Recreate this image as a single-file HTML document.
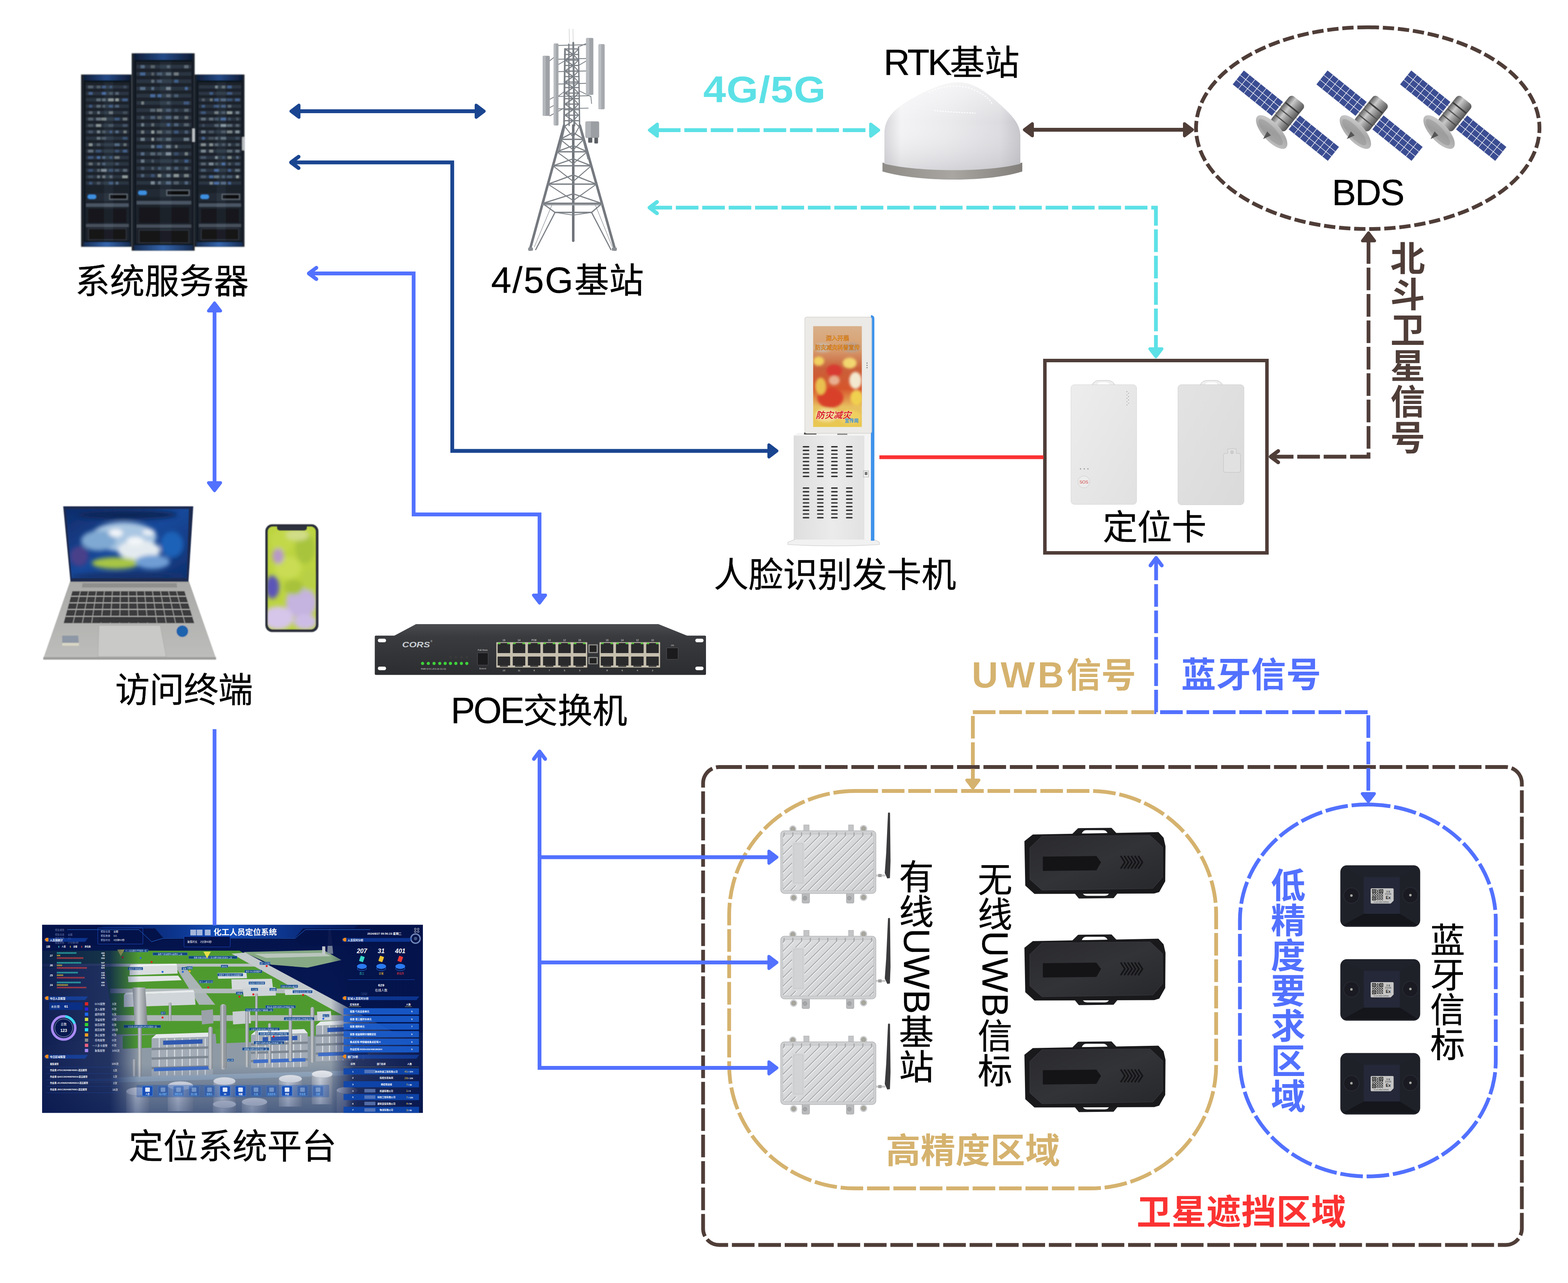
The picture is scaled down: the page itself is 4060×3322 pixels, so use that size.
<!DOCTYPE html>
<html lang="zh-CN">
<head>
<meta charset="utf-8">
<title>人员定位系统架构图</title>
<style>
html,body{margin:0;padding:0;background:#fff;}
body{width:4060px;height:3322px;position:relative;overflow:hidden;font-family:"Liberation Sans","Noto Sans CJK SC",sans-serif;}
svg.bg{position:absolute;left:0;top:0;}
.t{position:absolute;white-space:nowrap;line-height:1;transform:translate(-50%,-50%);font-size:90px;}
.l{font-size:94px;}
.v .l{position:relative;left:8px;}
.v{writing-mode:vertical-rl;text-orientation:mixed;}
</style>
</head>
<body>
<svg class="bg" width="4060" height="3322" viewBox="0 0 4060 3322">
<defs>
<linearGradient id="rkTop" x1="0" x2="1" y1="0" y2="0"><stop offset="0" stop-color="#0d1a33"/><stop offset="0.5" stop-color="#244a88"/><stop offset="1" stop-color="#0d1a33"/></linearGradient>
<linearGradient id="rkBot" x1="0" x2="1" y1="0" y2="0"><stop offset="0" stop-color="#15294d"/><stop offset="0.5" stop-color="#3465ad"/><stop offset="1" stop-color="#15294d"/></linearGradient>
<filter id="bl1" x="-5%" y="-5%" width="110%" height="110%"><feGaussianBlur stdDeviation="1.8"/></filter>
<linearGradient id="dmBody" x1="0" x2="1" y1="0" y2="0"><stop offset="0" stop-color="#d6d6da"/><stop offset="0.12" stop-color="#f3f3f5"/><stop offset="0.45" stop-color="#ebebee"/><stop offset="0.85" stop-color="#dcdce0"/><stop offset="1" stop-color="#c4c4c9"/></linearGradient>
<linearGradient id="dmShade" x1="0" x2="0" y1="0" y2="1"><stop offset="0" stop-color="#ffffff" stop-opacity="0.55"/><stop offset="0.45" stop-color="#ffffff" stop-opacity="0"/><stop offset="1" stop-color="#9a9aa2" stop-opacity="0.28"/></linearGradient>
<linearGradient id="dmRim" x1="0" x2="1" y1="0" y2="0"><stop offset="0" stop-color="#8f8c88"/><stop offset="0.5" stop-color="#a9a6a2"/><stop offset="1" stop-color="#827f7b"/></linearGradient>
<linearGradient id="satBody" x1="0" x2="1" y1="0" y2="0"><stop offset="0" stop-color="#5e5e5e"/><stop offset="0.35" stop-color="#c9c9c9"/><stop offset="0.6" stop-color="#9a9a9a"/><stop offset="1" stop-color="#555"/></linearGradient>
<linearGradient id="satDish" x1="0" x2="1" y1="0" y2="1"><stop offset="0" stop-color="#d8d8d8"/><stop offset="0.5" stop-color="#a8a8a8"/><stop offset="1" stop-color="#c6c6c6"/></linearGradient>
<linearGradient id="kScr" x1="0" x2="0" y1="0" y2="1"><stop offset="0" stop-color="#d9b08a"/><stop offset="0.22" stop-color="#d8a070"/><stop offset="0.42" stop-color="#c9603a"/><stop offset="0.62" stop-color="#d6552c"/><stop offset="0.8" stop-color="#e8c060"/><stop offset="1" stop-color="#e9c84e"/></linearGradient>
<linearGradient id="kCab" x1="0" x2="1" y1="0" y2="0"><stop offset="0" stop-color="#dedede"/><stop offset="0.5" stop-color="#ebebeb"/><stop offset="1" stop-color="#e0e0e0"/></linearGradient>
<filter id="bl2" x="-10%" y="-10%" width="120%" height="120%"><feGaussianBlur stdDeviation="3"/></filter>
<clipPath id="kClip"><rect x="2105.5" y="844.5" width="126" height="261"/></clipPath>
<linearGradient id="cdA" x1="0" x2="1" y1="0" y2="1"><stop offset="0" stop-color="#ededed"/><stop offset="1" stop-color="#e1e1e1"/></linearGradient>
<linearGradient id="cdB" x1="0" x2="1" y1="0" y2="1"><stop offset="0" stop-color="#e3e3e3"/><stop offset="1" stop-color="#dadada"/></linearGradient>
<linearGradient id="lpScr" x1="0" x2="1" y1="0" y2="1"><stop offset="0" stop-color="#102c6a"/><stop offset="0.5" stop-color="#17489a"/><stop offset="1" stop-color="#10306e"/></linearGradient>
<linearGradient id="lpDeck" x1="0" x2="0" y1="0" y2="1"><stop offset="0" stop-color="#a9a9a7"/><stop offset="1" stop-color="#bdbdbb"/></linearGradient>
<filter id="bl3" x="-20%" y="-20%" width="140%" height="140%"><feGaussianBlur stdDeviation="6"/></filter>
<filter id="bl4" x="-5%" y="-5%" width="110%" height="110%"><feGaussianBlur stdDeviation="1.2"/></filter>
<clipPath id="lpClip"><polygon points="170.5,1317.7 489,1317.7 483.4,1496.8 185.6,1496.8"/></clipPath>
<clipPath id="phClip"><rect x="693.5" y="1363.5" width="124" height="266" rx="13"/></clipPath>
<linearGradient id="swF" x1="0" x2="0" y1="0" y2="1"><stop offset="0" stop-color="#3a3b3e"/><stop offset="1" stop-color="#2c2d30"/></linearGradient>
<linearGradient id="swT" x1="0" x2="0" y1="0" y2="1"><stop offset="0" stop-color="#4b4c50"/><stop offset="1" stop-color="#3a3b3f"/></linearGradient>
<linearGradient id="uwbF" x1="0" x2="1" y1="0" y2="1"><stop offset="0" stop-color="#dcdddf"/><stop offset="1" stop-color="#d2d3d5"/></linearGradient>
<clipPath id="uwbClip0"><rect x="2027.3" y="2154.8" width="234.3" height="150.7" rx="6"/></clipPath>
<clipPath id="uwbClip1"><rect x="2027.3" y="2427.8" width="234.3" height="150.7" rx="6"/></clipPath>
<clipPath id="uwbClip2"><rect x="2027.3" y="2701.3" width="234.3" height="150.7" rx="6"/></clipPath>
<linearGradient id="ubF" x1="0" x2="1" y1="0" y2="1"><stop offset="0" stop-color="#2a2a2e"/><stop offset="0.5" stop-color="#323337"/><stop offset="1" stop-color="#27282b"/></linearGradient>
<pattern id="qr" width="6" height="6" patternUnits="userSpaceOnUse"><rect width="6" height="6" fill="#c6c6c6"/><rect x="0" y="0" width="2" height="2" fill="#111"/><rect x="3" y="1" width="1.5" height="3" fill="#111"/><rect x="1" y="3.5" width="3" height="1.5" fill="#111"/><rect x="4.5" y="4.5" width="1.5" height="1.5" fill="#111"/></pattern>
<linearGradient id="pfBg" x1="0" x2="0" y1="0" y2="1"><stop offset="0" stop-color="#04124a"/><stop offset="0.6" stop-color="#061b58"/><stop offset="1" stop-color="#0a2a70"/></linearGradient>
<linearGradient id="pfL" x1="0" x2="1" y1="0" y2="0"><stop offset="0" stop-color="#04134b" stop-opacity="0.9"/><stop offset="0.7" stop-color="#05174f" stop-opacity="0.78"/><stop offset="1" stop-color="#05174f" stop-opacity="0"/></linearGradient>
<linearGradient id="pfR" x1="0" x2="1" y1="0" y2="0"><stop offset="0" stop-color="#04134b" stop-opacity="0"/><stop offset="0.25" stop-color="#04134b" stop-opacity="0.75"/><stop offset="1" stop-color="#04134b" stop-opacity="0.95"/></linearGradient>
<linearGradient id="pfB" x1="0" x2="0" y1="0" y2="1"><stop offset="0" stop-color="#0a2460" stop-opacity="0"/><stop offset="1" stop-color="#0a2460" stop-opacity="0.5"/></linearGradient>
<linearGradient id="pfCyl" x1="0" x2="1" y1="0" y2="0"><stop offset="0" stop-color="#8d9399"/><stop offset="0.4" stop-color="#c9cdd1"/><stop offset="1" stop-color="#7c8288"/></linearGradient>
<linearGradient id="pfTank" x1="0" x2="1" y1="0" y2="0"><stop offset="0" stop-color="#aeb4ba"/><stop offset="0.4" stop-color="#e6e9ec"/><stop offset="1" stop-color="#9aa0a8"/></linearGradient>
<linearGradient id="pfHd" x1="0" x2="1" y1="0" y2="0"><stop offset="0" stop-color="#0c3a98" stop-opacity="0.2"/><stop offset="0.5" stop-color="#1450c0"/><stop offset="1" stop-color="#0c3a98" stop-opacity="0.2"/></linearGradient>
<clipPath id="pfClip"><rect x="109" y="2394.5" width="986" height="487"/></clipPath>
</defs>
<g id="server">
<g filter="url(#bl1)">
<rect x="210" y="193" width="132" height="446" rx="3" fill="#10141b"/>
<rect x="212" y="194" width="128" height="14" fill="url(#rkTop)"/>
<rect x="212" y="627" width="128" height="11" fill="url(#rkBot)"/>
<rect x="221" y="213" width="114" height="410" fill="#1a2029"/>
<rect x="223" y="221" width="110" height="8.3" fill="#2f3946" opacity="0.9"/>
<rect x="228.3" y="222" width="12.8" height="6.6" fill="#7f919d" opacity="0.48"/>
<rect x="250.4" y="222" width="9.6" height="6.6" fill="#6d7f8a" opacity="0.54"/>
<rect x="263.9" y="222" width="9.9" height="6.6" fill="#4f78b4" opacity="0.57"/>
<rect x="284.1" y="222" width="6" height="6.6" fill="#4f78b4" opacity="0.48"/>
<rect x="320.2" y="222" width="6.8" height="6.6" fill="#5f7894" opacity="0.37"/>
<rect x="223" y="237.6" width="110" height="8.3" fill="#2f3946" opacity="0.9"/>
<rect x="229.5" y="238.6" width="10.3" height="6.6" fill="#4f78b4" opacity="0.69"/>
<rect x="263.8" y="238.6" width="10.2" height="6.6" fill="#4f78b4" opacity="0.82"/>
<rect x="282.7" y="238.6" width="8.8" height="6.6" fill="#6d7f8a" opacity="0.46"/>
<rect x="298.9" y="238.6" width="8.3" height="6.6" fill="#7f919d" opacity="0.56"/>
<rect x="223" y="254.2" width="110" height="8.3" fill="#2f3946" opacity="0.9"/>
<rect x="249.7" y="255.2" width="11" height="6.6" fill="#6d7f8a" opacity="0.78"/>
<rect x="264.5" y="255.2" width="8.7" height="6.6" fill="#6d7f8a" opacity="0.84"/>
<rect x="280.3" y="255.2" width="13.7" height="6.6" fill="#a9b4b0" opacity="0.77"/>
<rect x="298.9" y="255.2" width="8.4" height="6.6" fill="#a9b4b0" opacity="0.84"/>
<rect x="316.8" y="255.2" width="13.5" height="6.6" fill="#4f78b4" opacity="0.64"/>
<rect x="223" y="270.8" width="110" height="8.3" fill="#2f3946" opacity="0.9"/>
<rect x="230.7" y="271.8" width="7.9" height="6.6" fill="#4f78b4" opacity="0.56"/>
<rect x="250" y="271.8" width="10.4" height="6.6" fill="#6d7f8a" opacity="0.74"/>
<rect x="265.5" y="271.8" width="6.7" height="6.6" fill="#6d7f8a" opacity="0.60"/>
<rect x="282" y="271.8" width="10.2" height="6.6" fill="#4f78b4" opacity="0.54"/>
<rect x="298.2" y="271.8" width="9.8" height="6.6" fill="#5f7894" opacity="0.70"/>
<rect x="223" y="287.4" width="110" height="8.3" fill="#2f3946" opacity="0.9"/>
<rect x="230.1" y="288.4" width="9.1" height="6.6" fill="#9aaab3" opacity="0.43"/>
<rect x="252.2" y="288.4" width="6.1" height="6.6" fill="#9aaab3" opacity="0.62"/>
<rect x="282.1" y="288.4" width="10.1" height="6.6" fill="#a9b4b0" opacity="0.53"/>
<rect x="318.2" y="288.4" width="10.9" height="6.6" fill="#6d7f8a" opacity="0.35"/>
<rect x="223" y="304" width="110" height="8.3" fill="#2f3946" opacity="0.9"/>
<rect x="228.4" y="305" width="12.6" height="6.6" fill="#6d7f8a" opacity="0.61"/>
<rect x="249.1" y="305" width="12.2" height="6.6" fill="#9aaab3" opacity="0.56"/>
<rect x="262.4" y="305" width="13" height="6.6" fill="#a9b4b0" opacity="0.63"/>
<rect x="296.8" y="305" width="12.5" height="6.6" fill="#4f78b4" opacity="0.52"/>
<rect x="318.1" y="305" width="11" height="6.6" fill="#a9b4b0" opacity="0.52"/>
<rect x="223" y="320.6" width="110" height="8.3" fill="#2f3946" opacity="0.9"/>
<rect x="228.5" y="321.6" width="12.4" height="6.6" fill="#6d7f8a" opacity="0.44"/>
<rect x="248.8" y="321.6" width="12.9" height="6.6" fill="#a9b4b0" opacity="0.75"/>
<rect x="280.8" y="321.6" width="12.7" height="6.6" fill="#6d7f8a" opacity="0.39"/>
<rect x="317.6" y="321.6" width="12" height="6.6" fill="#5f7894" opacity="0.47"/>
<rect x="223" y="337.2" width="110" height="8.3" fill="#2f3946" opacity="0.9"/>
<rect x="229.2" y="338.2" width="11" height="6.6" fill="#5f7894" opacity="0.50"/>
<rect x="251.2" y="338.2" width="8" height="6.6" fill="#9aaab3" opacity="0.68"/>
<rect x="264.7" y="338.2" width="8.4" height="6.6" fill="#6d7f8a" opacity="0.51"/>
<rect x="284" y="338.2" width="6.2" height="6.6" fill="#4f78b4" opacity="0.52"/>
<rect x="299" y="338.2" width="8.1" height="6.6" fill="#5f7894" opacity="0.80"/>
<rect x="319.8" y="338.2" width="7.7" height="6.6" fill="#a9b4b0" opacity="0.57"/>
<rect x="223" y="353.8" width="110" height="8.3" fill="#2f3946" opacity="0.9"/>
<rect x="250.6" y="354.8" width="9.2" height="6.6" fill="#7f919d" opacity="0.71"/>
<rect x="263.1" y="354.8" width="11.6" height="6.6" fill="#6d7f8a" opacity="0.56"/>
<rect x="317.8" y="354.8" width="11.6" height="6.6" fill="#4f78b4" opacity="0.46"/>
<rect x="223" y="370.4" width="110" height="8.3" fill="#2f3946" opacity="0.9"/>
<rect x="230.1" y="371.4" width="9.2" height="6.6" fill="#a9b4b0" opacity="0.75"/>
<rect x="250.5" y="371.4" width="9.4" height="6.6" fill="#6d7f8a" opacity="0.50"/>
<rect x="296.6" y="371.4" width="12.9" height="6.6" fill="#5f7894" opacity="0.81"/>
<rect x="320" y="371.4" width="7.3" height="6.6" fill="#a9b4b0" opacity="0.48"/>
<rect x="223" y="387" width="110" height="8.3" fill="#2f3946" opacity="0.9"/>
<rect x="228.2" y="388" width="13" height="6.6" fill="#7f919d" opacity="0.65"/>
<rect x="248.6" y="388" width="13.2" height="6.6" fill="#4f78b4" opacity="0.44"/>
<rect x="298" y="388" width="10.1" height="6.6" fill="#4f78b4" opacity="0.45"/>
<rect x="318.3" y="388" width="10.6" height="6.6" fill="#4f78b4" opacity="0.65"/>
<rect x="223" y="403.6" width="110" height="8.3" fill="#2f3946" opacity="0.9"/>
<rect x="227.9" y="404.6" width="13.5" height="6.6" fill="#4f78b4" opacity="0.50"/>
<rect x="250.9" y="404.6" width="8.6" height="6.6" fill="#4f78b4" opacity="0.80"/>
<rect x="265.1" y="404.6" width="7.6" height="6.6" fill="#5f7894" opacity="0.76"/>
<rect x="283.6" y="404.6" width="7.1" height="6.6" fill="#4f78b4" opacity="0.46"/>
<rect x="296.7" y="404.6" width="12.7" height="6.6" fill="#a9b4b0" opacity="0.52"/>
<rect x="223" y="420.2" width="110" height="8.3" fill="#2f3946" opacity="0.9"/>
<rect x="229.7" y="421.2" width="9.9" height="6.6" fill="#a9b4b0" opacity="0.47"/>
<rect x="251.9" y="421.2" width="6.7" height="6.6" fill="#9aaab3" opacity="0.43"/>
<rect x="264.8" y="421.2" width="8.1" height="6.6" fill="#5f7894" opacity="0.65"/>
<rect x="298.7" y="421.2" width="8.7" height="6.6" fill="#5f7894" opacity="0.47"/>
<rect x="223" y="436.8" width="110" height="8.3" fill="#2f3946" opacity="0.9"/>
<rect x="228.8" y="437.8" width="11.7" height="6.6" fill="#4f78b4" opacity="0.42"/>
<rect x="251.8" y="437.8" width="6.8" height="6.6" fill="#7f919d" opacity="0.55"/>
<rect x="261.9" y="437.8" width="13.9" height="6.6" fill="#9aaab3" opacity="0.76"/>
<rect x="281.7" y="437.8" width="10.9" height="6.6" fill="#4f78b4" opacity="0.39"/>
<rect x="297.8" y="437.8" width="10.5" height="6.6" fill="#5f7894" opacity="0.53"/>
<rect x="318.5" y="437.8" width="10.3" height="6.6" fill="#7f919d" opacity="0.58"/>
<rect x="223" y="453.4" width="110" height="8.3" fill="#2f3946" opacity="0.9"/>
<rect x="228.5" y="454.4" width="12.3" height="6.6" fill="#5f7894" opacity="0.36"/>
<rect x="251.8" y="454.4" width="6.7" height="6.6" fill="#7f919d" opacity="0.76"/>
<rect x="265.1" y="454.4" width="7.5" height="6.6" fill="#a9b4b0" opacity="0.56"/>
<rect x="283.5" y="454.4" width="7.3" height="6.6" fill="#9aaab3" opacity="0.43"/>
<rect x="316.7" y="454.4" width="13.7" height="6.6" fill="#a9b4b0" opacity="0.80"/>
<rect x="223" y="470" width="110" height="8.3" fill="#2f3946" opacity="0.9"/>
<rect x="230.7" y="471" width="8" height="6.6" fill="#4f78b4" opacity="0.51"/>
<rect x="250.9" y="471" width="8.5" height="6.6" fill="#7f919d" opacity="0.36"/>
<rect x="281.7" y="471" width="10.8" height="6.6" fill="#4f78b4" opacity="0.55"/>
<rect x="299.8" y="471" width="6.5" height="6.6" fill="#5f7894" opacity="0.83"/>
<rect x="223" y="500" width="110" height="20" fill="#222a35"/>
<rect x="227" y="504" width="22" height="11" rx="5" fill="#3e8fe0"/>
<rect x="283.7" y="503" width="45.6" height="13" fill="#0b0d11" stroke="#7d8892" stroke-width="1.5"/>
<rect x="223" y="526.6" width="110" height="9" fill="#4a5563"/>
<rect x="229" y="541" width="98" height="34.9" fill="#15181d"/>
<rect x="223" y="580" width="110" height="8" fill="#46505c"/>
<rect x="229" y="592.2" width="98" height="28.7" fill="#121418" stroke="#39414b" stroke-width="1.5"/>
<rect x="269.4" y="213" width="23.8" height="410" fill="#9fb7d8" opacity="0.07"/>
<rect x="210" y="193" width="7" height="446" fill="#1b212b"/>
<rect x="337" y="193" width="5" height="446" fill="#1b212b"/>
<rect x="502" y="193" width="131" height="446" rx="3" fill="#10141b"/>
<rect x="504" y="194" width="127" height="14" fill="url(#rkTop)"/>
<rect x="504" y="627" width="127" height="11" fill="url(#rkBot)"/>
<rect x="513" y="213" width="113" height="410" fill="#1a2029"/>
<rect x="515" y="221" width="109" height="8.3" fill="#2f3946" opacity="0.9"/>
<rect x="557.1" y="222" width="6.7" height="6.6" fill="#9aaab3" opacity="0.72"/>
<rect x="574.3" y="222" width="8.5" height="6.6" fill="#a9b4b0" opacity="0.46"/>
<rect x="588.6" y="222" width="11.4" height="6.6" fill="#4f78b4" opacity="0.67"/>
<rect x="515" y="237.6" width="109" height="8.3" fill="#2f3946" opacity="0.9"/>
<rect x="542.4" y="238.6" width="9" height="6.6" fill="#4f78b4" opacity="0.60"/>
<rect x="587.6" y="238.6" width="13.5" height="6.6" fill="#4f78b4" opacity="0.56"/>
<rect x="515" y="254.2" width="109" height="8.3" fill="#2f3946" opacity="0.9"/>
<rect x="522.9" y="255.2" width="7.4" height="6.6" fill="#9aaab3" opacity="0.36"/>
<rect x="543.4" y="255.2" width="7.1" height="6.6" fill="#a9b4b0" opacity="0.53"/>
<rect x="555.2" y="255.2" width="10.5" height="6.6" fill="#4f78b4" opacity="0.75"/>
<rect x="571.9" y="255.2" width="13.3" height="6.6" fill="#5f7894" opacity="0.74"/>
<rect x="587.4" y="255.2" width="13.8" height="6.6" fill="#4f78b4" opacity="0.43"/>
<rect x="608.8" y="255.2" width="11.7" height="6.6" fill="#4f78b4" opacity="0.68"/>
<rect x="515" y="270.8" width="109" height="8.3" fill="#2f3946" opacity="0.9"/>
<rect x="522.4" y="271.8" width="8.2" height="6.6" fill="#4f78b4" opacity="0.60"/>
<rect x="553.9" y="271.8" width="13.1" height="6.6" fill="#4f78b4" opacity="0.53"/>
<rect x="573.3" y="271.8" width="10.5" height="6.6" fill="#4f78b4" opacity="0.59"/>
<rect x="590.1" y="271.8" width="8.6" height="6.6" fill="#6d7f8a" opacity="0.77"/>
<rect x="515" y="287.4" width="109" height="8.3" fill="#2f3946" opacity="0.9"/>
<rect x="520.5" y="288.4" width="12.2" height="6.6" fill="#4f78b4" opacity="0.50"/>
<rect x="555.4" y="288.4" width="10" height="6.6" fill="#a9b4b0" opacity="0.60"/>
<rect x="573.9" y="288.4" width="9.3" height="6.6" fill="#6d7f8a" opacity="0.45"/>
<rect x="587.6" y="288.4" width="13.5" height="6.6" fill="#a9b4b0" opacity="0.79"/>
<rect x="610.3" y="288.4" width="8.7" height="6.6" fill="#7f919d" opacity="0.80"/>
<rect x="515" y="304" width="109" height="8.3" fill="#2f3946" opacity="0.9"/>
<rect x="520.6" y="305" width="12" height="6.6" fill="#7f919d" opacity="0.64"/>
<rect x="541.5" y="305" width="10.7" height="6.6" fill="#6d7f8a" opacity="0.79"/>
<rect x="555.4" y="305" width="10.2" height="6.6" fill="#5f7894" opacity="0.47"/>
<rect x="572" y="305" width="13" height="6.6" fill="#4f78b4" opacity="0.80"/>
<rect x="591.1" y="305" width="6.5" height="6.6" fill="#5f7894" opacity="0.44"/>
<rect x="611.4" y="305" width="6.7" height="6.6" fill="#7f919d" opacity="0.36"/>
<rect x="515" y="320.6" width="109" height="8.3" fill="#2f3946" opacity="0.9"/>
<rect x="523.5" y="321.6" width="6.2" height="6.6" fill="#5f7894" opacity="0.41"/>
<rect x="555.4" y="321.6" width="10.2" height="6.6" fill="#7f919d" opacity="0.54"/>
<rect x="571.6" y="321.6" width="13.9" height="6.6" fill="#9aaab3" opacity="0.84"/>
<rect x="587.6" y="321.6" width="13.5" height="6.6" fill="#6d7f8a" opacity="0.72"/>
<rect x="610.4" y="321.6" width="8.7" height="6.6" fill="#7f919d" opacity="0.50"/>
<rect x="515" y="337.2" width="109" height="8.3" fill="#2f3946" opacity="0.9"/>
<rect x="521.1" y="338.2" width="10.8" height="6.6" fill="#7f919d" opacity="0.80"/>
<rect x="540.5" y="338.2" width="12.9" height="6.6" fill="#6d7f8a" opacity="0.43"/>
<rect x="572.8" y="338.2" width="11.5" height="6.6" fill="#7f919d" opacity="0.36"/>
<rect x="587.6" y="338.2" width="13.6" height="6.6" fill="#a9b4b0" opacity="0.64"/>
<rect x="609.6" y="338.2" width="10.1" height="6.6" fill="#9aaab3" opacity="0.79"/>
<rect x="515" y="353.8" width="109" height="8.3" fill="#2f3946" opacity="0.9"/>
<rect x="522.5" y="354.8" width="8.1" height="6.6" fill="#4f78b4" opacity="0.68"/>
<rect x="540.1" y="354.8" width="13.7" height="6.6" fill="#6d7f8a" opacity="0.38"/>
<rect x="556.8" y="354.8" width="7.3" height="6.6" fill="#7f919d" opacity="0.58"/>
<rect x="571.9" y="354.8" width="13.3" height="6.6" fill="#6d7f8a" opacity="0.82"/>
<rect x="609.9" y="354.8" width="9.6" height="6.6" fill="#5f7894" opacity="0.39"/>
<rect x="515" y="370.4" width="109" height="8.3" fill="#2f3946" opacity="0.9"/>
<rect x="520.4" y="371.4" width="12.3" height="6.6" fill="#a9b4b0" opacity="0.70"/>
<rect x="542.2" y="371.4" width="9.4" height="6.6" fill="#a9b4b0" opacity="0.73"/>
<rect x="555.9" y="371.4" width="9.1" height="6.6" fill="#9aaab3" opacity="0.41"/>
<rect x="574.6" y="371.4" width="7.9" height="6.6" fill="#7f919d" opacity="0.36"/>
<rect x="590.9" y="371.4" width="6.8" height="6.6" fill="#7f919d" opacity="0.61"/>
<rect x="610.5" y="371.4" width="8.5" height="6.6" fill="#6d7f8a" opacity="0.54"/>
<rect x="515" y="387" width="109" height="8.3" fill="#2f3946" opacity="0.9"/>
<rect x="520.5" y="388" width="12.1" height="6.6" fill="#9aaab3" opacity="0.71"/>
<rect x="541.9" y="388" width="10.1" height="6.6" fill="#a9b4b0" opacity="0.65"/>
<rect x="587.7" y="388" width="13.4" height="6.6" fill="#6d7f8a" opacity="0.75"/>
<rect x="609.6" y="388" width="10.2" height="6.6" fill="#7f919d" opacity="0.66"/>
<rect x="515" y="403.6" width="109" height="8.3" fill="#2f3946" opacity="0.9"/>
<rect x="519.6" y="404.6" width="13.9" height="6.6" fill="#5f7894" opacity="0.50"/>
<rect x="557" y="404.6" width="6.8" height="6.6" fill="#9aaab3" opacity="0.77"/>
<rect x="575.5" y="404.6" width="6.1" height="6.6" fill="#4f78b4" opacity="0.38"/>
<rect x="589.5" y="404.6" width="9.7" height="6.6" fill="#a9b4b0" opacity="0.66"/>
<rect x="611.6" y="404.6" width="6.2" height="6.6" fill="#5f7894" opacity="0.82"/>
<rect x="515" y="420.2" width="109" height="8.3" fill="#2f3946" opacity="0.9"/>
<rect x="520.5" y="421.2" width="12" height="6.6" fill="#9aaab3" opacity="0.41"/>
<rect x="541" y="421.2" width="11.7" height="6.6" fill="#9aaab3" opacity="0.73"/>
<rect x="557" y="421.2" width="7" height="6.6" fill="#7f919d" opacity="0.41"/>
<rect x="574.2" y="421.2" width="8.7" height="6.6" fill="#4f78b4" opacity="0.83"/>
<rect x="591.3" y="421.2" width="6.2" height="6.6" fill="#6d7f8a" opacity="0.59"/>
<rect x="608.9" y="421.2" width="11.6" height="6.6" fill="#5f7894" opacity="0.53"/>
<rect x="515" y="436.8" width="109" height="8.3" fill="#2f3946" opacity="0.9"/>
<rect x="520.4" y="437.8" width="12.4" height="6.6" fill="#5f7894" opacity="0.59"/>
<rect x="554.5" y="437.8" width="11.8" height="6.6" fill="#4f78b4" opacity="0.82"/>
<rect x="590.4" y="437.8" width="7.9" height="6.6" fill="#4f78b4" opacity="0.65"/>
<rect x="608.9" y="437.8" width="11.6" height="6.6" fill="#6d7f8a" opacity="0.81"/>
<rect x="515" y="453.4" width="109" height="8.3" fill="#2f3946" opacity="0.9"/>
<rect x="520.3" y="454.4" width="12.5" height="6.6" fill="#7f919d" opacity="0.39"/>
<rect x="541.7" y="454.4" width="10.4" height="6.6" fill="#4f78b4" opacity="0.80"/>
<rect x="553.8" y="454.4" width="13.3" height="6.6" fill="#6d7f8a" opacity="0.84"/>
<rect x="575" y="454.4" width="7" height="6.6" fill="#5f7894" opacity="0.55"/>
<rect x="587.8" y="454.4" width="13.1" height="6.6" fill="#5f7894" opacity="0.57"/>
<rect x="611.3" y="454.4" width="6.9" height="6.6" fill="#a9b4b0" opacity="0.84"/>
<rect x="515" y="470" width="109" height="8.3" fill="#2f3946" opacity="0.9"/>
<rect x="542.6" y="471" width="8.6" height="6.6" fill="#9aaab3" opacity="0.71"/>
<rect x="553.9" y="471" width="13.2" height="6.6" fill="#4f78b4" opacity="0.82"/>
<rect x="572" y="471" width="13" height="6.6" fill="#5f7894" opacity="0.74"/>
<rect x="590.8" y="471" width="7.2" height="6.6" fill="#4f78b4" opacity="0.71"/>
<rect x="515" y="500" width="109" height="20" fill="#222a35"/>
<rect x="519" y="504" width="22" height="11" rx="5" fill="#3e8fe0"/>
<rect x="575.1" y="503" width="45.2" height="13" fill="#0b0d11" stroke="#7d8892" stroke-width="1.5"/>
<rect x="515" y="526.6" width="109" height="9" fill="#4a5563"/>
<rect x="521" y="541" width="97" height="34.9" fill="#15181d"/>
<rect x="515" y="580" width="109" height="8" fill="#46505c"/>
<rect x="521" y="592.2" width="97" height="28.7" fill="#121418" stroke="#39414b" stroke-width="1.5"/>
<rect x="561" y="213" width="23.6" height="410" fill="#9fb7d8" opacity="0.07"/>
<rect x="502" y="193" width="7" height="446" fill="#1b212b"/>
<rect x="628" y="193" width="5" height="446" fill="#1b212b"/>
<rect x="627" y="355" width="7" height="34" fill="#b9bec3"/>
</g><g filter="url(#bl1)">
<rect x="341" y="138" width="163" height="511" rx="3" fill="#10141b"/>
<rect x="343" y="139" width="159" height="16" fill="url(#rkTop)"/>
<rect x="343" y="635" width="159" height="13" fill="url(#rkBot)"/>
<rect x="352" y="160" width="145" height="471" fill="#1a2029"/>
<rect x="354" y="168" width="141" height="9.4" fill="#2f3946" opacity="0.9"/>
<rect x="364.2" y="169" width="10.4" height="7.5" fill="#5f7894" opacity="0.81"/>
<rect x="390.2" y="169" width="10.6" height="7.5" fill="#a9b4b0" opacity="0.36"/>
<rect x="432.2" y="169" width="7.9" height="7.5" fill="#6d7f8a" opacity="0.59"/>
<rect x="476.9" y="169" width="11.1" height="7.5" fill="#9aaab3" opacity="0.47"/>
<rect x="354" y="186.8" width="141" height="9.4" fill="#2f3946" opacity="0.9"/>
<rect x="362.7" y="187.8" width="13.4" height="7.5" fill="#4f78b4" opacity="0.72"/>
<rect x="392.2" y="187.8" width="6.5" height="7.5" fill="#a9b4b0" opacity="0.37"/>
<rect x="406.6" y="187.8" width="12.6" height="7.5" fill="#5f7894" opacity="0.59"/>
<rect x="429.6" y="187.8" width="13" height="7.5" fill="#6d7f8a" opacity="0.74"/>
<rect x="450.5" y="187.8" width="11.8" height="7.5" fill="#a9b4b0" opacity="0.57"/>
<rect x="354" y="205.6" width="141" height="9.4" fill="#2f3946" opacity="0.9"/>
<rect x="392" y="206.6" width="7.1" height="7.5" fill="#9aaab3" opacity="0.48"/>
<rect x="406.8" y="206.6" width="12.2" height="7.5" fill="#5f7894" opacity="0.56"/>
<rect x="451.3" y="206.6" width="10.3" height="7.5" fill="#4f78b4" opacity="0.64"/>
<rect x="354" y="224.4" width="141" height="9.4" fill="#2f3946" opacity="0.9"/>
<rect x="362.7" y="225.4" width="13.4" height="7.5" fill="#5f7894" opacity="0.85"/>
<rect x="391.8" y="225.4" width="7.3" height="7.5" fill="#5f7894" opacity="0.83"/>
<rect x="430.2" y="225.4" width="11.7" height="7.5" fill="#9aaab3" opacity="0.67"/>
<rect x="479" y="225.4" width="7" height="7.5" fill="#4f78b4" opacity="0.78"/>
<rect x="354" y="243.2" width="141" height="9.4" fill="#2f3946" opacity="0.9"/>
<rect x="389.3" y="244.2" width="12.4" height="7.5" fill="#4f78b4" opacity="0.80"/>
<rect x="408.2" y="244.2" width="9.4" height="7.5" fill="#4f78b4" opacity="0.79"/>
<rect x="430.6" y="244.2" width="10.9" height="7.5" fill="#7f919d" opacity="0.54"/>
<rect x="451.2" y="244.2" width="10.4" height="7.5" fill="#5f7894" opacity="0.60"/>
<rect x="354" y="262" width="141" height="9.4" fill="#2f3946" opacity="0.9"/>
<rect x="366.1" y="263" width="6.6" height="7.5" fill="#a9b4b0" opacity="0.62"/>
<rect x="432" y="263" width="8.1" height="7.5" fill="#6d7f8a" opacity="0.37"/>
<rect x="475.7" y="263" width="13.7" height="7.5" fill="#4f78b4" opacity="0.54"/>
<rect x="354" y="280.8" width="141" height="9.4" fill="#2f3946" opacity="0.9"/>
<rect x="389" y="281.8" width="12.9" height="7.5" fill="#6d7f8a" opacity="0.63"/>
<rect x="406.1" y="281.8" width="13.5" height="7.5" fill="#a9b4b0" opacity="0.49"/>
<rect x="430.2" y="281.8" width="11.7" height="7.5" fill="#5f7894" opacity="0.57"/>
<rect x="452.2" y="281.8" width="8.4" height="7.5" fill="#5f7894" opacity="0.36"/>
<rect x="477.2" y="281.8" width="10.6" height="7.5" fill="#7f919d" opacity="0.54"/>
<rect x="354" y="299.6" width="141" height="9.4" fill="#2f3946" opacity="0.9"/>
<rect x="365.9" y="300.6" width="7.1" height="7.5" fill="#6d7f8a" opacity="0.66"/>
<rect x="389.8" y="300.6" width="11.4" height="7.5" fill="#5f7894" opacity="0.65"/>
<rect x="407.9" y="300.6" width="9.9" height="7.5" fill="#a9b4b0" opacity="0.38"/>
<rect x="429.2" y="300.6" width="13.7" height="7.5" fill="#5f7894" opacity="0.66"/>
<rect x="451" y="300.6" width="10.8" height="7.5" fill="#9aaab3" opacity="0.53"/>
<rect x="478" y="300.6" width="9" height="7.5" fill="#a9b4b0" opacity="0.48"/>
<rect x="354" y="318.4" width="141" height="9.4" fill="#2f3946" opacity="0.9"/>
<rect x="366" y="319.4" width="6.8" height="7.5" fill="#7f919d" opacity="0.84"/>
<rect x="392" y="319.4" width="7.1" height="7.5" fill="#a9b4b0" opacity="0.46"/>
<rect x="432.4" y="319.4" width="7.5" height="7.5" fill="#4f78b4" opacity="0.67"/>
<rect x="451" y="319.4" width="10.8" height="7.5" fill="#5f7894" opacity="0.69"/>
<rect x="476.3" y="319.4" width="12.5" height="7.5" fill="#9aaab3" opacity="0.39"/>
<rect x="354" y="337.2" width="141" height="9.4" fill="#2f3946" opacity="0.9"/>
<rect x="365.5" y="338.2" width="7.7" height="7.5" fill="#a9b4b0" opacity="0.58"/>
<rect x="392" y="338.2" width="7" height="7.5" fill="#a9b4b0" opacity="0.83"/>
<rect x="406.6" y="338.2" width="12.7" height="7.5" fill="#a9b4b0" opacity="0.44"/>
<rect x="429.9" y="338.2" width="12.5" height="7.5" fill="#6d7f8a" opacity="0.39"/>
<rect x="451" y="338.2" width="10.7" height="7.5" fill="#4f78b4" opacity="0.50"/>
<rect x="478.4" y="338.2" width="8.2" height="7.5" fill="#5f7894" opacity="0.67"/>
<rect x="354" y="356" width="141" height="9.4" fill="#2f3946" opacity="0.9"/>
<rect x="364.1" y="357" width="10.5" height="7.5" fill="#7f919d" opacity="0.81"/>
<rect x="392.5" y="357" width="6" height="7.5" fill="#a9b4b0" opacity="0.84"/>
<rect x="406.1" y="357" width="13.6" height="7.5" fill="#6d7f8a" opacity="0.46"/>
<rect x="429.8" y="357" width="12.7" height="7.5" fill="#6d7f8a" opacity="0.72"/>
<rect x="475.9" y="357" width="13.1" height="7.5" fill="#7f919d" opacity="0.78"/>
<rect x="354" y="374.8" width="141" height="9.4" fill="#2f3946" opacity="0.9"/>
<rect x="391.5" y="375.8" width="8" height="7.5" fill="#7f919d" opacity="0.80"/>
<rect x="406.2" y="375.8" width="13.4" height="7.5" fill="#4f78b4" opacity="0.64"/>
<rect x="430.1" y="375.8" width="12" height="7.5" fill="#9aaab3" opacity="0.60"/>
<rect x="453.3" y="375.8" width="6.2" height="7.5" fill="#a9b4b0" opacity="0.56"/>
<rect x="354" y="393.6" width="141" height="9.4" fill="#2f3946" opacity="0.9"/>
<rect x="365" y="394.6" width="8.7" height="7.5" fill="#5f7894" opacity="0.84"/>
<rect x="389.3" y="394.6" width="12.5" height="7.5" fill="#7f919d" opacity="0.53"/>
<rect x="407.8" y="394.6" width="10.3" height="7.5" fill="#7f919d" opacity="0.44"/>
<rect x="429.4" y="394.6" width="13.4" height="7.5" fill="#9aaab3" opacity="0.76"/>
<rect x="450.9" y="394.6" width="11" height="7.5" fill="#4f78b4" opacity="0.37"/>
<rect x="478.4" y="394.6" width="8.1" height="7.5" fill="#a9b4b0" opacity="0.61"/>
<rect x="354" y="412.4" width="141" height="9.4" fill="#2f3946" opacity="0.9"/>
<rect x="365.1" y="413.4" width="8.6" height="7.5" fill="#7f919d" opacity="0.78"/>
<rect x="392.3" y="413.4" width="6.4" height="7.5" fill="#7f919d" opacity="0.38"/>
<rect x="451.4" y="413.4" width="10" height="7.5" fill="#5f7894" opacity="0.43"/>
<rect x="478" y="413.4" width="9.1" height="7.5" fill="#4f78b4" opacity="0.64"/>
<rect x="354" y="431.2" width="141" height="9.4" fill="#2f3946" opacity="0.9"/>
<rect x="365.6" y="432.2" width="7.5" height="7.5" fill="#5f7894" opacity="0.56"/>
<rect x="392.5" y="432.2" width="6" height="7.5" fill="#6d7f8a" opacity="0.54"/>
<rect x="409.2" y="432.2" width="7.4" height="7.5" fill="#5f7894" opacity="0.58"/>
<rect x="430.9" y="432.2" width="10.3" height="7.5" fill="#6d7f8a" opacity="0.75"/>
<rect x="451.7" y="432.2" width="9.5" height="7.5" fill="#5f7894" opacity="0.66"/>
<rect x="478.2" y="432.2" width="8.5" height="7.5" fill="#6d7f8a" opacity="0.56"/>
<rect x="354" y="450" width="141" height="9.4" fill="#2f3946" opacity="0.9"/>
<rect x="365.5" y="451" width="7.7" height="7.5" fill="#5f7894" opacity="0.70"/>
<rect x="390.8" y="451" width="9.4" height="7.5" fill="#4f78b4" opacity="0.42"/>
<rect x="408.6" y="451" width="8.6" height="7.5" fill="#a9b4b0" opacity="0.75"/>
<rect x="431.2" y="451" width="9.7" height="7.5" fill="#7f919d" opacity="0.82"/>
<rect x="450" y="451" width="12.8" height="7.5" fill="#a9b4b0" opacity="0.75"/>
<rect x="476.6" y="451" width="11.9" height="7.5" fill="#a9b4b0" opacity="0.62"/>
<rect x="354" y="468.8" width="141" height="9.4" fill="#2f3946" opacity="0.9"/>
<rect x="390.6" y="469.8" width="9.8" height="7.5" fill="#9aaab3" opacity="0.74"/>
<rect x="409.5" y="469.8" width="6.7" height="7.5" fill="#7f919d" opacity="0.68"/>
<rect x="429.8" y="469.8" width="12.6" height="7.5" fill="#5f7894" opacity="0.77"/>
<rect x="450" y="469.8" width="12.8" height="7.5" fill="#6d7f8a" opacity="0.59"/>
<rect x="478.4" y="469.8" width="8.3" height="7.5" fill="#5f7894" opacity="0.75"/>
<rect x="354" y="489.7" width="141" height="20" fill="#222a35"/>
<rect x="358" y="493.7" width="22" height="11" rx="5" fill="#3e8fe0"/>
<rect x="431.8" y="492.7" width="58" height="13" fill="#0b0d11" stroke="#7d8892" stroke-width="1.5"/>
<rect x="354" y="520.3" width="141" height="9" fill="#4a5563"/>
<rect x="360" y="536.8" width="129" height="40" fill="#15181d"/>
<rect x="354" y="581.5" width="141" height="8" fill="#46505c"/>
<rect x="360" y="595.7" width="129" height="33" fill="#121418" stroke="#39414b" stroke-width="1.5"/>
<rect x="414.4" y="160" width="29.3" height="471" fill="#9fb7d8" opacity="0.07"/>
<rect x="341" y="138" width="7" height="511" fill="#1b212b"/>
<rect x="499" y="138" width="5" height="511" fill="#1b212b"/>
<rect x="498" y="333" width="7" height="34" fill="#b9bec3"/>
</g></g>
<g id="tower">
<line x1="1473.6" y1="75" x2="1474.6" y2="110.7" stroke="#b5b8bc" stroke-width="1" stroke-linecap="round"/>
<line x1="1483.6" y1="75" x2="1484.3" y2="110.7" stroke="#b5b8bc" stroke-width="1" stroke-linecap="round"/>
<line x1="1437.1" y1="117.9" x2="1522.9" y2="115.7" stroke="#7b8086" stroke-width="2.2" stroke-linecap="round"/>
<line x1="1437.1" y1="153.6" x2="1522.9" y2="151.4" stroke="#7b8086" stroke-width="2.2" stroke-linecap="round"/>
<line x1="1437.1" y1="185.7" x2="1522.9" y2="183.6" stroke="#7b8086" stroke-width="2.2" stroke-linecap="round"/>
<line x1="1437.1" y1="217.9" x2="1522.9" y2="215.7" stroke="#7b8086" stroke-width="2.2" stroke-linecap="round"/>
<line x1="1437.1" y1="250" x2="1522.9" y2="247.9" stroke="#7b8086" stroke-width="2.2" stroke-linecap="round"/>
<line x1="1437.1" y1="282.1" x2="1522.9" y2="280" stroke="#7b8086" stroke-width="2.2" stroke-linecap="round"/>
<line x1="1423.6" y1="157.1" x2="1437.1" y2="146.4" stroke="#7b8086" stroke-width="2" stroke-linecap="round"/>
<line x1="1423.6" y1="278.6" x2="1437.1" y2="271.4" stroke="#7b8086" stroke-width="2" stroke-linecap="round"/>
<line x1="1423.6" y1="257.1" x2="1437.1" y2="250" stroke="#7b8086" stroke-width="2" stroke-linecap="round"/>
<line x1="1423.6" y1="300" x2="1462.9" y2="278.6" stroke="#7b8086" stroke-width="2" stroke-linecap="round"/>
<line x1="1444.3" y1="167.9" x2="1462.9" y2="157.1" stroke="#7b8086" stroke-width="2" stroke-linecap="round"/>
<line x1="1444.3" y1="250" x2="1462.9" y2="235.7" stroke="#7b8086" stroke-width="2" stroke-linecap="round"/>
<line x1="1500.7" y1="167.9" x2="1519.3" y2="157.1" stroke="#7b8086" stroke-width="2" stroke-linecap="round"/>
<line x1="1500.7" y1="235.7" x2="1530" y2="250" stroke="#7b8086" stroke-width="2" stroke-linecap="round"/>
<line x1="1530" y1="250" x2="1531.8" y2="267.9" stroke="#7b8086" stroke-width="2" stroke-linecap="round"/>
<line x1="1497.9" y1="121.4" x2="1518.6" y2="112.5" stroke="#7b8086" stroke-width="2" stroke-linecap="round"/>
<line x1="1462.9" y1="126.8" x2="1460.4" y2="325" stroke="#7b8086" stroke-width="4.5" stroke-linecap="round"/>
<line x1="1484.3" y1="110.7" x2="1487.1" y2="325" stroke="#7b8086" stroke-width="5" stroke-linecap="round"/>
<line x1="1497.9" y1="121.4" x2="1500.7" y2="325" stroke="#7b8086" stroke-width="3.5" stroke-linecap="round"/>
<line x1="1472.9" y1="114.3" x2="1473.6" y2="325" stroke="#7b8086" stroke-width="3.5" stroke-linecap="round"/>
<line x1="1462.9" y1="126.8" x2="1497.9" y2="126.8" stroke="#7b8086" stroke-width="3" stroke-linecap="round"/>
<line x1="1462.9" y1="126.8" x2="1484.3" y2="141.1" stroke="#7b8086" stroke-width="3" stroke-linecap="round"/>
<line x1="1497.9" y1="126.8" x2="1484.3" y2="141.1" stroke="#7b8086" stroke-width="2.5" stroke-linecap="round"/>
<line x1="1462.9" y1="141.1" x2="1497.9" y2="141.1" stroke="#7b8086" stroke-width="3" stroke-linecap="round"/>
<line x1="1484.3" y1="141.1" x2="1462.9" y2="155.4" stroke="#7b8086" stroke-width="3" stroke-linecap="round"/>
<line x1="1484.3" y1="141.1" x2="1497.9" y2="155.4" stroke="#7b8086" stroke-width="2.5" stroke-linecap="round"/>
<line x1="1462.9" y1="155.4" x2="1497.9" y2="155.4" stroke="#7b8086" stroke-width="3" stroke-linecap="round"/>
<line x1="1462.9" y1="155.4" x2="1484.3" y2="169.6" stroke="#7b8086" stroke-width="3" stroke-linecap="round"/>
<line x1="1497.9" y1="155.4" x2="1484.3" y2="169.6" stroke="#7b8086" stroke-width="2.5" stroke-linecap="round"/>
<line x1="1462.9" y1="169.6" x2="1497.9" y2="169.6" stroke="#7b8086" stroke-width="3" stroke-linecap="round"/>
<line x1="1484.3" y1="169.6" x2="1462.9" y2="183.9" stroke="#7b8086" stroke-width="3" stroke-linecap="round"/>
<line x1="1484.3" y1="169.6" x2="1497.9" y2="183.9" stroke="#7b8086" stroke-width="2.5" stroke-linecap="round"/>
<line x1="1462.9" y1="183.9" x2="1497.9" y2="183.9" stroke="#7b8086" stroke-width="3" stroke-linecap="round"/>
<line x1="1462.9" y1="183.9" x2="1484.3" y2="198.2" stroke="#7b8086" stroke-width="3" stroke-linecap="round"/>
<line x1="1497.9" y1="183.9" x2="1484.3" y2="198.2" stroke="#7b8086" stroke-width="2.5" stroke-linecap="round"/>
<line x1="1462.9" y1="198.2" x2="1497.9" y2="198.2" stroke="#7b8086" stroke-width="3" stroke-linecap="round"/>
<line x1="1484.3" y1="198.2" x2="1462.9" y2="212.5" stroke="#7b8086" stroke-width="3" stroke-linecap="round"/>
<line x1="1484.3" y1="198.2" x2="1497.9" y2="212.5" stroke="#7b8086" stroke-width="2.5" stroke-linecap="round"/>
<line x1="1462.9" y1="212.5" x2="1497.9" y2="212.5" stroke="#7b8086" stroke-width="3" stroke-linecap="round"/>
<line x1="1462.9" y1="212.5" x2="1484.3" y2="226.8" stroke="#7b8086" stroke-width="3" stroke-linecap="round"/>
<line x1="1497.9" y1="212.5" x2="1484.3" y2="226.8" stroke="#7b8086" stroke-width="2.5" stroke-linecap="round"/>
<line x1="1462.9" y1="226.8" x2="1497.9" y2="226.8" stroke="#7b8086" stroke-width="3" stroke-linecap="round"/>
<line x1="1484.3" y1="226.8" x2="1462.9" y2="241.1" stroke="#7b8086" stroke-width="3" stroke-linecap="round"/>
<line x1="1484.3" y1="226.8" x2="1497.9" y2="241.1" stroke="#7b8086" stroke-width="2.5" stroke-linecap="round"/>
<line x1="1462.9" y1="241.1" x2="1497.9" y2="241.1" stroke="#7b8086" stroke-width="3" stroke-linecap="round"/>
<line x1="1462.9" y1="241.1" x2="1484.3" y2="255.4" stroke="#7b8086" stroke-width="3" stroke-linecap="round"/>
<line x1="1497.9" y1="241.1" x2="1484.3" y2="255.4" stroke="#7b8086" stroke-width="2.5" stroke-linecap="round"/>
<line x1="1462.9" y1="255.4" x2="1497.9" y2="255.4" stroke="#7b8086" stroke-width="3" stroke-linecap="round"/>
<line x1="1484.3" y1="255.4" x2="1462.9" y2="269.6" stroke="#7b8086" stroke-width="3" stroke-linecap="round"/>
<line x1="1484.3" y1="255.4" x2="1497.9" y2="269.6" stroke="#7b8086" stroke-width="2.5" stroke-linecap="round"/>
<line x1="1462.9" y1="269.6" x2="1497.9" y2="269.6" stroke="#7b8086" stroke-width="3" stroke-linecap="round"/>
<line x1="1462.9" y1="269.6" x2="1484.3" y2="283.9" stroke="#7b8086" stroke-width="3" stroke-linecap="round"/>
<line x1="1497.9" y1="269.6" x2="1484.3" y2="283.9" stroke="#7b8086" stroke-width="2.5" stroke-linecap="round"/>
<line x1="1462.9" y1="283.9" x2="1497.9" y2="283.9" stroke="#7b8086" stroke-width="3" stroke-linecap="round"/>
<line x1="1484.3" y1="283.9" x2="1462.9" y2="298.2" stroke="#7b8086" stroke-width="3" stroke-linecap="round"/>
<line x1="1484.3" y1="283.9" x2="1497.9" y2="298.2" stroke="#7b8086" stroke-width="2.5" stroke-linecap="round"/>
<line x1="1462.9" y1="298.2" x2="1497.9" y2="298.2" stroke="#7b8086" stroke-width="3" stroke-linecap="round"/>
<line x1="1462.9" y1="298.2" x2="1484.3" y2="312.5" stroke="#7b8086" stroke-width="3" stroke-linecap="round"/>
<line x1="1497.9" y1="298.2" x2="1484.3" y2="312.5" stroke="#7b8086" stroke-width="2.5" stroke-linecap="round"/>
<line x1="1462.9" y1="312.5" x2="1497.9" y2="312.5" stroke="#7b8086" stroke-width="3" stroke-linecap="round"/>
<line x1="1484.3" y1="312.5" x2="1462.9" y2="326.8" stroke="#7b8086" stroke-width="3" stroke-linecap="round"/>
<line x1="1484.3" y1="312.5" x2="1497.9" y2="326.8" stroke="#7b8086" stroke-width="2.5" stroke-linecap="round"/>
<line x1="1460.4" y1="325" x2="1372.1" y2="646.4" stroke="#75797f" stroke-width="6.5" stroke-linecap="round"/>
<line x1="1501.4" y1="325" x2="1592.5" y2="646.4" stroke="#75797f" stroke-width="6.5" stroke-linecap="round"/>
<line x1="1484.3" y1="325" x2="1484.3" y2="623.2" stroke="#6f7379" stroke-width="6.5" stroke-linecap="round"/>
<line x1="1500.7" y1="325" x2="1522.9" y2="410.7" stroke="#7b8086" stroke-width="4" stroke-linecap="round"/>
<line x1="1462.9" y1="325" x2="1447.9" y2="392.9" stroke="#7b8086" stroke-width="3" stroke-linecap="round"/>
<rect x="1367.5" y="641.1" width="12.5" height="8.2" rx="2" fill="#8a8e93"/>
<rect x="1584.3" y="641.1" width="12.9" height="8.2" rx="2" fill="#8a8e93"/>
<line x1="1437.1" y1="550" x2="1387.1" y2="646.4" stroke="#7b8086" stroke-width="3" stroke-linecap="round"/>
<line x1="1531.8" y1="550" x2="1581.8" y2="646.4" stroke="#7b8086" stroke-width="3" stroke-linecap="round"/>
<line x1="1430" y1="528.6" x2="1383.6" y2="639.3" stroke="#9a9ea3" stroke-width="1.5" stroke-linecap="round"/>
<line x1="1540.7" y1="528.6" x2="1585.4" y2="639.3" stroke="#9a9ea3" stroke-width="1.5" stroke-linecap="round"/>
<line x1="1450.6" y1="360.7" x2="1511.5" y2="360.7" stroke="#7b8086" stroke-width="3.5" stroke-linecap="round"/>
<line x1="1450.6" y1="360.7" x2="1484.3" y2="342.9" stroke="#7b8086" stroke-width="3" stroke-linecap="round"/>
<line x1="1511.5" y1="360.7" x2="1484.3" y2="342.9" stroke="#7b8086" stroke-width="3" stroke-linecap="round"/>
<line x1="1460.4" y1="325" x2="1484.3" y2="355.4" stroke="#7b8086" stroke-width="2.5" stroke-linecap="round"/>
<line x1="1501.4" y1="325" x2="1484.3" y2="355.4" stroke="#7b8086" stroke-width="2.5" stroke-linecap="round"/>
<line x1="1441.7" y1="392.9" x2="1520.7" y2="392.9" stroke="#7b8086" stroke-width="3.5" stroke-linecap="round"/>
<line x1="1441.7" y1="392.9" x2="1484.3" y2="376.8" stroke="#7b8086" stroke-width="3" stroke-linecap="round"/>
<line x1="1520.7" y1="392.9" x2="1484.3" y2="376.8" stroke="#7b8086" stroke-width="3" stroke-linecap="round"/>
<line x1="1450.6" y1="360.7" x2="1484.3" y2="388" stroke="#7b8086" stroke-width="2.5" stroke-linecap="round"/>
<line x1="1511.5" y1="360.7" x2="1484.3" y2="388" stroke="#7b8086" stroke-width="2.5" stroke-linecap="round"/>
<line x1="1431.7" y1="429.3" x2="1531" y2="429.3" stroke="#7b8086" stroke-width="3.5" stroke-linecap="round"/>
<line x1="1431.7" y1="429.3" x2="1484.3" y2="411.1" stroke="#7b8086" stroke-width="3" stroke-linecap="round"/>
<line x1="1531" y1="429.3" x2="1484.3" y2="411.1" stroke="#7b8086" stroke-width="3" stroke-linecap="round"/>
<line x1="1441.7" y1="392.9" x2="1484.3" y2="423.8" stroke="#7b8086" stroke-width="2.5" stroke-linecap="round"/>
<line x1="1520.7" y1="392.9" x2="1484.3" y2="423.8" stroke="#7b8086" stroke-width="2.5" stroke-linecap="round"/>
<line x1="1418.7" y1="476.8" x2="1544.4" y2="476.8" stroke="#7b8086" stroke-width="3.5" stroke-linecap="round"/>
<line x1="1418.7" y1="476.8" x2="1484.3" y2="453" stroke="#7b8086" stroke-width="3" stroke-linecap="round"/>
<line x1="1544.4" y1="476.8" x2="1484.3" y2="453" stroke="#7b8086" stroke-width="3" stroke-linecap="round"/>
<line x1="1431.7" y1="429.3" x2="1484.3" y2="469.7" stroke="#7b8086" stroke-width="2.5" stroke-linecap="round"/>
<line x1="1531" y1="429.3" x2="1484.3" y2="469.7" stroke="#7b8086" stroke-width="2.5" stroke-linecap="round"/>
<line x1="1405" y1="526.8" x2="1558.6" y2="526.8" stroke="#7b8086" stroke-width="3.5" stroke-linecap="round"/>
<line x1="1405" y1="526.8" x2="1484.3" y2="501.8" stroke="#7b8086" stroke-width="3" stroke-linecap="round"/>
<line x1="1558.6" y1="526.8" x2="1484.3" y2="501.8" stroke="#7b8086" stroke-width="3" stroke-linecap="round"/>
<line x1="1418.7" y1="476.8" x2="1484.3" y2="519.3" stroke="#7b8086" stroke-width="2.5" stroke-linecap="round"/>
<line x1="1544.4" y1="476.8" x2="1484.3" y2="519.3" stroke="#7b8086" stroke-width="2.5" stroke-linecap="round"/>
<line x1="1405" y1="526.8" x2="1558.6" y2="526.8" stroke="#7b8086" stroke-width="4.5" stroke-linecap="round"/>
<line x1="1405" y1="530.4" x2="1558.6" y2="530.4" stroke="#9a9ea3" stroke-width="2.5" stroke-linecap="round"/>
<line x1="1437.1" y1="550" x2="1531.8" y2="550" stroke="#7b8086" stroke-width="3.5" stroke-linecap="round"/>
<line x1="1405" y1="526.8" x2="1437.1" y2="550" stroke="#7b8086" stroke-width="3" stroke-linecap="round"/>
<line x1="1558.6" y1="526.8" x2="1531.8" y2="550" stroke="#7b8086" stroke-width="3" stroke-linecap="round"/>
<line x1="1437.1" y1="550" x2="1484.3" y2="557.1" stroke="#7b8086" stroke-width="2" stroke-linecap="round"/>
<line x1="1531.8" y1="550" x2="1484.3" y2="557.1" stroke="#7b8086" stroke-width="2" stroke-linecap="round"/>
<rect x="1405" y="144.6" width="18.6" height="155.4" rx="3" fill="#9da1a6"/>
<rect x="1405" y="144.6" width="7.9" height="155.4" rx="3" fill="#b4b7bb"/>
<rect x="1433.6" y="112.5" width="12.5" height="212.5" rx="3" fill="#a4a8ac"/>
<rect x="1433.6" y="112.5" width="5.4" height="212.5" rx="3" fill="#b9bcc0"/>
<rect x="1517.5" y="98.2" width="18.9" height="147.5" rx="3" fill="#a0a4a9"/>
<rect x="1517.5" y="98.2" width="8.2" height="147.5" rx="3" fill="#b7babe"/>
<rect x="1549.6" y="114.3" width="16.1" height="168.6" rx="3" fill="#a6aaae"/>
<rect x="1549.6" y="114.3" width="7.1" height="168.6" rx="3" fill="#bcbfc3"/>
<rect x="1515.7" y="314.3" width="35.7" height="42.9" rx="4" fill="#9b9fa4"/>
<rect x="1515.7" y="314.3" width="14.3" height="42.9" rx="4" fill="#b0b3b7"/>
<rect x="1522.9" y="356.4" width="10.7" height="13.2" rx="2" fill="#5b5f64"/>
<rect x="1538.9" y="356.4" width="9.6" height="15" rx="2" fill="#5b5f64"/>
</g>
<g id="dome">
<path d="M2285,421 C2380,440 2560,440 2647,421 L2647,444 C2560,472 2380,472 2285,444 Z" fill="url(#dmRim)"/>
<path d="M2290,424 L2290,345 C2290,305 2318,280 2360,256 C2410,228 2452,213 2478,213 C2510,213 2540,226 2580,262 C2618,296 2641,318 2642,350 L2642,424 C2560,446 2380,446 2290,424 Z" fill="url(#dmBody)"/>
<path d="M2290,424 L2290,345 C2290,305 2318,280 2360,256 C2410,228 2452,213 2478,213 C2510,213 2540,226 2580,262 C2618,296 2641,318 2642,350 L2642,424 C2560,446 2380,446 2290,424 Z" fill="url(#dmShade)"/>
<path d="M2406,238 C2440,222 2480,219 2510,228 C2540,238 2565,256 2570,272" fill="none" stroke="#fff" stroke-width="2.5" stroke-dasharray="2 6" stroke-linecap="round"/>
<path d="M2420,286 C2450,290 2490,291 2525,293" fill="none" stroke="#fff" stroke-width="2.5" stroke-dasharray="2 5" stroke-linecap="round"/>
</g>
<g id="sats"><g transform="translate(3329.4,299.5) rotate(38.8)">
<rect x="-158" y="-23" width="130" height="46" fill="#3b4d92"/>
<line x1="-139.4" y1="-23" x2="-139.4" y2="23" stroke="#fff" stroke-width="1.4"/>
<line x1="-120.9" y1="-23" x2="-120.9" y2="23" stroke="#fff" stroke-width="1.4"/>
<line x1="-102.3" y1="-23" x2="-102.3" y2="23" stroke="#fff" stroke-width="1.4"/>
<line x1="-83.7" y1="-23" x2="-83.7" y2="23" stroke="#fff" stroke-width="1.4"/>
<line x1="-65.1" y1="-23" x2="-65.1" y2="23" stroke="#fff" stroke-width="1.4"/>
<line x1="-46.6" y1="-23" x2="-46.6" y2="23" stroke="#fff" stroke-width="1.4"/>
<line x1="-158" y1="-7.7" x2="-28" y2="-7.7" stroke="#fff" stroke-width="1.4"/>
<line x1="-158" y1="7.7" x2="-28" y2="7.7" stroke="#fff" stroke-width="1.4"/>
<rect x="28" y="-23" width="130" height="46" fill="#3b4d92"/>
<line x1="46.6" y1="-23" x2="46.6" y2="23" stroke="#fff" stroke-width="1.4"/>
<line x1="65.1" y1="-23" x2="65.1" y2="23" stroke="#fff" stroke-width="1.4"/>
<line x1="83.7" y1="-23" x2="83.7" y2="23" stroke="#fff" stroke-width="1.4"/>
<line x1="102.3" y1="-23" x2="102.3" y2="23" stroke="#fff" stroke-width="1.4"/>
<line x1="120.9" y1="-23" x2="120.9" y2="23" stroke="#fff" stroke-width="1.4"/>
<line x1="139.4" y1="-23" x2="139.4" y2="23" stroke="#fff" stroke-width="1.4"/>
<line x1="28" y1="-7.7" x2="158" y2="-7.7" stroke="#fff" stroke-width="1.4"/>
<line x1="28" y1="7.7" x2="158" y2="7.7" stroke="#fff" stroke-width="1.4"/>
<line x1="-28" y1="-12" x2="28" y2="-12" stroke="#888" stroke-width="1.5"/>
<line x1="-28" y1="10" x2="28" y2="10" stroke="#888" stroke-width="1.5"/>
<rect x="-24" y="-52" width="48" height="90" rx="10" fill="url(#satBody)"/>
<rect x="-22" y="-28" width="44" height="4" fill="#3d3d3d"/>
<rect x="-22" y="-6" width="44" height="3" fill="#555"/>
<rect x="-22" y="14" width="44" height="3" fill="#4a4a4a"/>
<ellipse cx="-2" cy="56" rx="55" ry="23" fill="url(#satDish)" transform="rotate(9 -2 56)"/>
<ellipse cx="-4" cy="58" rx="44" ry="14" fill="#8e8e8e" opacity="0.45" transform="rotate(9 -4 58)"/>
<path d="M-12,62 L-8,84 L2,64 Z" fill="#555"/>
</g>
<g transform="translate(3546.1,299.5) rotate(38.8)">
<rect x="-158" y="-23" width="130" height="46" fill="#3b4d92"/>
<line x1="-139.4" y1="-23" x2="-139.4" y2="23" stroke="#fff" stroke-width="1.4"/>
<line x1="-120.9" y1="-23" x2="-120.9" y2="23" stroke="#fff" stroke-width="1.4"/>
<line x1="-102.3" y1="-23" x2="-102.3" y2="23" stroke="#fff" stroke-width="1.4"/>
<line x1="-83.7" y1="-23" x2="-83.7" y2="23" stroke="#fff" stroke-width="1.4"/>
<line x1="-65.1" y1="-23" x2="-65.1" y2="23" stroke="#fff" stroke-width="1.4"/>
<line x1="-46.6" y1="-23" x2="-46.6" y2="23" stroke="#fff" stroke-width="1.4"/>
<line x1="-158" y1="-7.7" x2="-28" y2="-7.7" stroke="#fff" stroke-width="1.4"/>
<line x1="-158" y1="7.7" x2="-28" y2="7.7" stroke="#fff" stroke-width="1.4"/>
<rect x="28" y="-23" width="130" height="46" fill="#3b4d92"/>
<line x1="46.6" y1="-23" x2="46.6" y2="23" stroke="#fff" stroke-width="1.4"/>
<line x1="65.1" y1="-23" x2="65.1" y2="23" stroke="#fff" stroke-width="1.4"/>
<line x1="83.7" y1="-23" x2="83.7" y2="23" stroke="#fff" stroke-width="1.4"/>
<line x1="102.3" y1="-23" x2="102.3" y2="23" stroke="#fff" stroke-width="1.4"/>
<line x1="120.9" y1="-23" x2="120.9" y2="23" stroke="#fff" stroke-width="1.4"/>
<line x1="139.4" y1="-23" x2="139.4" y2="23" stroke="#fff" stroke-width="1.4"/>
<line x1="28" y1="-7.7" x2="158" y2="-7.7" stroke="#fff" stroke-width="1.4"/>
<line x1="28" y1="7.7" x2="158" y2="7.7" stroke="#fff" stroke-width="1.4"/>
<line x1="-28" y1="-12" x2="28" y2="-12" stroke="#888" stroke-width="1.5"/>
<line x1="-28" y1="10" x2="28" y2="10" stroke="#888" stroke-width="1.5"/>
<rect x="-24" y="-52" width="48" height="90" rx="10" fill="url(#satBody)"/>
<rect x="-22" y="-28" width="44" height="4" fill="#3d3d3d"/>
<rect x="-22" y="-6" width="44" height="3" fill="#555"/>
<rect x="-22" y="14" width="44" height="3" fill="#4a4a4a"/>
<ellipse cx="-2" cy="56" rx="55" ry="23" fill="url(#satDish)" transform="rotate(9 -2 56)"/>
<ellipse cx="-4" cy="58" rx="44" ry="14" fill="#8e8e8e" opacity="0.45" transform="rotate(9 -4 58)"/>
<path d="M-12,62 L-8,84 L2,64 Z" fill="#555"/>
</g>
<g transform="translate(3762.8,299.5) rotate(38.8)">
<rect x="-158" y="-23" width="130" height="46" fill="#3b4d92"/>
<line x1="-139.4" y1="-23" x2="-139.4" y2="23" stroke="#fff" stroke-width="1.4"/>
<line x1="-120.9" y1="-23" x2="-120.9" y2="23" stroke="#fff" stroke-width="1.4"/>
<line x1="-102.3" y1="-23" x2="-102.3" y2="23" stroke="#fff" stroke-width="1.4"/>
<line x1="-83.7" y1="-23" x2="-83.7" y2="23" stroke="#fff" stroke-width="1.4"/>
<line x1="-65.1" y1="-23" x2="-65.1" y2="23" stroke="#fff" stroke-width="1.4"/>
<line x1="-46.6" y1="-23" x2="-46.6" y2="23" stroke="#fff" stroke-width="1.4"/>
<line x1="-158" y1="-7.7" x2="-28" y2="-7.7" stroke="#fff" stroke-width="1.4"/>
<line x1="-158" y1="7.7" x2="-28" y2="7.7" stroke="#fff" stroke-width="1.4"/>
<rect x="28" y="-23" width="130" height="46" fill="#3b4d92"/>
<line x1="46.6" y1="-23" x2="46.6" y2="23" stroke="#fff" stroke-width="1.4"/>
<line x1="65.1" y1="-23" x2="65.1" y2="23" stroke="#fff" stroke-width="1.4"/>
<line x1="83.7" y1="-23" x2="83.7" y2="23" stroke="#fff" stroke-width="1.4"/>
<line x1="102.3" y1="-23" x2="102.3" y2="23" stroke="#fff" stroke-width="1.4"/>
<line x1="120.9" y1="-23" x2="120.9" y2="23" stroke="#fff" stroke-width="1.4"/>
<line x1="139.4" y1="-23" x2="139.4" y2="23" stroke="#fff" stroke-width="1.4"/>
<line x1="28" y1="-7.7" x2="158" y2="-7.7" stroke="#fff" stroke-width="1.4"/>
<line x1="28" y1="7.7" x2="158" y2="7.7" stroke="#fff" stroke-width="1.4"/>
<line x1="-28" y1="-12" x2="28" y2="-12" stroke="#888" stroke-width="1.5"/>
<line x1="-28" y1="10" x2="28" y2="10" stroke="#888" stroke-width="1.5"/>
<rect x="-24" y="-52" width="48" height="90" rx="10" fill="url(#satBody)"/>
<rect x="-22" y="-28" width="44" height="4" fill="#3d3d3d"/>
<rect x="-22" y="-6" width="44" height="3" fill="#555"/>
<rect x="-22" y="14" width="44" height="3" fill="#4a4a4a"/>
<ellipse cx="-2" cy="56" rx="55" ry="23" fill="url(#satDish)" transform="rotate(9 -2 56)"/>
<ellipse cx="-4" cy="58" rx="44" ry="14" fill="#8e8e8e" opacity="0.45" transform="rotate(9 -4 58)"/>
<path d="M-12,62 L-8,84 L2,64 Z" fill="#555"/>
</g></g>
<g id="kiosk">
<path d="M2040,1404 L2060,1396 L2262,1396 L2277,1404 L2277,1410 Q2160,1417 2040,1410 Z" fill="#f1f1f1" stroke="#d5d5d5" stroke-width="1.5"/>
<path d="M2255,816 Q2264,816 2264,826 L2264,1400 L2255,1400 Z" fill="#3f93ea"/>
<path d="M2055,1128 L2068,1121 L2255,1121 L2255,1397 L2055,1397 Z" fill="url(#kCab)"/>
<path d="M2055,1128 L2068,1121 L2255,1121 L2246,1128 Z" fill="#f4f4f4"/>
<rect x="2082" y="1120" width="32" height="5" fill="#444"/><rect x="2168" y="1122" width="26" height="4" fill="#888"/>
<path d="M2238,1128 L2255,1121 L2255,1397 L2238,1397 Z" fill="#f4f4f4"/>
<rect x="2078.5" y="1155" width="17" height="3.4" rx="1.5" fill="#2b2b2b"/>
<rect x="2078.5" y="1164.6" width="17" height="3.4" rx="1.5" fill="#2b2b2b"/>
<rect x="2078.5" y="1174.2" width="17" height="3.4" rx="1.5" fill="#2b2b2b"/>
<rect x="2078.5" y="1183.8" width="17" height="3.4" rx="1.5" fill="#2b2b2b"/>
<rect x="2078.5" y="1193.4" width="17" height="3.4" rx="1.5" fill="#2b2b2b"/>
<rect x="2078.5" y="1203" width="17" height="3.4" rx="1.5" fill="#2b2b2b"/>
<rect x="2078.5" y="1212.6" width="17" height="3.4" rx="1.5" fill="#2b2b2b"/>
<rect x="2078.5" y="1222.2" width="17" height="3.4" rx="1.5" fill="#2b2b2b"/>
<rect x="2078.5" y="1231.8" width="17" height="3.4" rx="1.5" fill="#2b2b2b"/>
<rect x="2078.5" y="1262" width="17" height="3.4" rx="1.5" fill="#2b2b2b"/>
<rect x="2078.5" y="1271.6" width="17" height="3.4" rx="1.5" fill="#2b2b2b"/>
<rect x="2078.5" y="1281.2" width="17" height="3.4" rx="1.5" fill="#2b2b2b"/>
<rect x="2078.5" y="1290.8" width="17" height="3.4" rx="1.5" fill="#2b2b2b"/>
<rect x="2078.5" y="1300.4" width="17" height="3.4" rx="1.5" fill="#2b2b2b"/>
<rect x="2078.5" y="1310" width="17" height="3.4" rx="1.5" fill="#2b2b2b"/>
<rect x="2078.5" y="1319.6" width="17" height="3.4" rx="1.5" fill="#2b2b2b"/>
<rect x="2078.5" y="1329.2" width="17" height="3.4" rx="1.5" fill="#2b2b2b"/>
<rect x="2078.5" y="1338.8" width="17" height="3.4" rx="1.5" fill="#2b2b2b"/>
<rect x="2115.5" y="1155" width="17" height="3.4" rx="1.5" fill="#2b2b2b"/>
<rect x="2115.5" y="1164.6" width="17" height="3.4" rx="1.5" fill="#2b2b2b"/>
<rect x="2115.5" y="1174.2" width="17" height="3.4" rx="1.5" fill="#2b2b2b"/>
<rect x="2115.5" y="1183.8" width="17" height="3.4" rx="1.5" fill="#2b2b2b"/>
<rect x="2115.5" y="1193.4" width="17" height="3.4" rx="1.5" fill="#2b2b2b"/>
<rect x="2115.5" y="1203" width="17" height="3.4" rx="1.5" fill="#2b2b2b"/>
<rect x="2115.5" y="1212.6" width="17" height="3.4" rx="1.5" fill="#2b2b2b"/>
<rect x="2115.5" y="1222.2" width="17" height="3.4" rx="1.5" fill="#2b2b2b"/>
<rect x="2115.5" y="1231.8" width="17" height="3.4" rx="1.5" fill="#2b2b2b"/>
<rect x="2115.5" y="1262" width="17" height="3.4" rx="1.5" fill="#2b2b2b"/>
<rect x="2115.5" y="1271.6" width="17" height="3.4" rx="1.5" fill="#2b2b2b"/>
<rect x="2115.5" y="1281.2" width="17" height="3.4" rx="1.5" fill="#2b2b2b"/>
<rect x="2115.5" y="1290.8" width="17" height="3.4" rx="1.5" fill="#2b2b2b"/>
<rect x="2115.5" y="1300.4" width="17" height="3.4" rx="1.5" fill="#2b2b2b"/>
<rect x="2115.5" y="1310" width="17" height="3.4" rx="1.5" fill="#2b2b2b"/>
<rect x="2115.5" y="1319.6" width="17" height="3.4" rx="1.5" fill="#2b2b2b"/>
<rect x="2115.5" y="1329.2" width="17" height="3.4" rx="1.5" fill="#2b2b2b"/>
<rect x="2115.5" y="1338.8" width="17" height="3.4" rx="1.5" fill="#2b2b2b"/>
<rect x="2152" y="1155" width="17" height="3.4" rx="1.5" fill="#2b2b2b"/>
<rect x="2152" y="1164.6" width="17" height="3.4" rx="1.5" fill="#2b2b2b"/>
<rect x="2152" y="1174.2" width="17" height="3.4" rx="1.5" fill="#2b2b2b"/>
<rect x="2152" y="1183.8" width="17" height="3.4" rx="1.5" fill="#2b2b2b"/>
<rect x="2152" y="1193.4" width="17" height="3.4" rx="1.5" fill="#2b2b2b"/>
<rect x="2152" y="1203" width="17" height="3.4" rx="1.5" fill="#2b2b2b"/>
<rect x="2152" y="1212.6" width="17" height="3.4" rx="1.5" fill="#2b2b2b"/>
<rect x="2152" y="1222.2" width="17" height="3.4" rx="1.5" fill="#2b2b2b"/>
<rect x="2152" y="1231.8" width="17" height="3.4" rx="1.5" fill="#2b2b2b"/>
<rect x="2152" y="1262" width="17" height="3.4" rx="1.5" fill="#2b2b2b"/>
<rect x="2152" y="1271.6" width="17" height="3.4" rx="1.5" fill="#2b2b2b"/>
<rect x="2152" y="1281.2" width="17" height="3.4" rx="1.5" fill="#2b2b2b"/>
<rect x="2152" y="1290.8" width="17" height="3.4" rx="1.5" fill="#2b2b2b"/>
<rect x="2152" y="1300.4" width="17" height="3.4" rx="1.5" fill="#2b2b2b"/>
<rect x="2152" y="1310" width="17" height="3.4" rx="1.5" fill="#2b2b2b"/>
<rect x="2152" y="1319.6" width="17" height="3.4" rx="1.5" fill="#2b2b2b"/>
<rect x="2152" y="1329.2" width="17" height="3.4" rx="1.5" fill="#2b2b2b"/>
<rect x="2152" y="1338.8" width="17" height="3.4" rx="1.5" fill="#2b2b2b"/>
<rect x="2190.5" y="1155" width="17" height="3.4" rx="1.5" fill="#2b2b2b"/>
<rect x="2190.5" y="1164.6" width="17" height="3.4" rx="1.5" fill="#2b2b2b"/>
<rect x="2190.5" y="1174.2" width="17" height="3.4" rx="1.5" fill="#2b2b2b"/>
<rect x="2190.5" y="1183.8" width="17" height="3.4" rx="1.5" fill="#2b2b2b"/>
<rect x="2190.5" y="1193.4" width="17" height="3.4" rx="1.5" fill="#2b2b2b"/>
<rect x="2190.5" y="1203" width="17" height="3.4" rx="1.5" fill="#2b2b2b"/>
<rect x="2190.5" y="1212.6" width="17" height="3.4" rx="1.5" fill="#2b2b2b"/>
<rect x="2190.5" y="1222.2" width="17" height="3.4" rx="1.5" fill="#2b2b2b"/>
<rect x="2190.5" y="1231.8" width="17" height="3.4" rx="1.5" fill="#2b2b2b"/>
<rect x="2190.5" y="1262" width="17" height="3.4" rx="1.5" fill="#2b2b2b"/>
<rect x="2190.5" y="1271.6" width="17" height="3.4" rx="1.5" fill="#2b2b2b"/>
<rect x="2190.5" y="1281.2" width="17" height="3.4" rx="1.5" fill="#2b2b2b"/>
<rect x="2190.5" y="1290.8" width="17" height="3.4" rx="1.5" fill="#2b2b2b"/>
<rect x="2190.5" y="1300.4" width="17" height="3.4" rx="1.5" fill="#2b2b2b"/>
<rect x="2190.5" y="1310" width="17" height="3.4" rx="1.5" fill="#2b2b2b"/>
<rect x="2190.5" y="1319.6" width="17" height="3.4" rx="1.5" fill="#2b2b2b"/>
<rect x="2190.5" y="1329.2" width="17" height="3.4" rx="1.5" fill="#2b2b2b"/>
<rect x="2190.5" y="1338.8" width="17" height="3.4" rx="1.5" fill="#2b2b2b"/>
<rect x="2236" y="1219" width="13" height="16" fill="#f7f7f7" stroke="#999" stroke-width="1"/><rect x="2239" y="1222" width="7" height="8" fill="#777"/>
<rect x="2084" y="821" width="173" height="301" rx="5" fill="#ebeae7"/>
<rect x="2084" y="821" width="173" height="301" rx="5" fill="none" stroke="#d2d1ce" stroke-width="1.5"/>
<rect x="2105.5" y="844.5" width="126" height="261" fill="url(#kScr)"/>
<g clip-path="url(#kClip)"><g filter="url(#bl2)">
<ellipse cx="2120" cy="935" rx="14" ry="12" fill="#f0d060"/>
<ellipse cx="2200" cy="940" rx="18" ry="14" fill="#f2d670"/>
<ellipse cx="2160" cy="960" rx="20" ry="16" fill="#d83a30"/>
<ellipse cx="2160" cy="985" rx="14" ry="12" fill="#e8b090"/>
<ellipse cx="2150" cy="1030" rx="34" ry="26" fill="#d8402a"/>
<ellipse cx="2215" cy="985" rx="16" ry="22" fill="#f3e9d0"/>
<ellipse cx="2218" cy="1030" rx="16" ry="20" fill="#f0d050"/>
<ellipse cx="2125" cy="1000" rx="14" ry="22" fill="#e9c050"/>
<ellipse cx="2140" cy="1075" rx="30" ry="18" fill="#f2dc90"/>
<ellipse cx="2200" cy="1080" rx="30" ry="18" fill="#f0cf60"/>
<ellipse cx="2130" cy="900" rx="22" ry="12" fill="#c9b8a8"/>
<ellipse cx="2205" cy="900" rx="22" ry="12" fill="#b7a090"/>
</g></g>
<text x="2168.5" y="881" font-size="15" font-weight="bold" fill="#f2a024" text-anchor="middle" stroke="#a8501a" stroke-width="0.4">深入开展</text>
<text x="2168.5" y="905" font-size="14.5" font-weight="bold" fill="#f2a024" text-anchor="middle" stroke="#a8501a" stroke-width="0.4">防灾减灾科普宣传</text>
<text x="2158" y="1083" font-size="23" font-weight="bold" font-style="italic" fill="#d8201c" text-anchor="middle" stroke="#fff" stroke-width="0.9" paint-order="stroke">防灾减灾</text>
<text x="2205" y="1094" font-size="12" font-weight="bold" fill="#2f8fe0" text-anchor="middle">宣传周</text>
<circle cx="2245" cy="940" r="1.2" fill="#444"/><circle cx="2245" cy="946" r="1.2" fill="#444"/><circle cx="2245" cy="952" r="1.2" fill="#444"/>
</g>
<g id="cards">
<path d="M2827,997 Q2834,985 2846,985 L2868,985 Q2880,985 2887,997" fill="#efefef" stroke="#cfcfcf" stroke-width="1.5"/>
<path d="M2840,997 Q2843,990 2850,990 L2864,990 Q2871,990 2874,997 Z" fill="#fff"/>
<rect x="2773" y="996" width="170" height="310" rx="9" fill="url(#cdA)" stroke="#d3d3d3" stroke-width="1"/>
<circle cx="2806.5" cy="1247.7" r="15.5" fill="#ececec" stroke="#c9c9c9" stroke-width="1"/>
<text x="2806.5" y="1252" font-size="11" fill="#d04a4a" text-anchor="middle">SOS</text>
<circle cx="2797.7" cy="1214" r="1.6" fill="#8a8a8a"/>
<circle cx="2807.4" cy="1214" r="1.6" fill="#8a8a8a"/>
<circle cx="2817" cy="1214" r="1.6" fill="#8a8a8a"/>
<circle cx="2918" cy="1014" r="0.9" fill="#777"/>
<circle cx="2922" cy="1018.3" r="0.9" fill="#777"/>
<circle cx="2918" cy="1022.6" r="0.9" fill="#777"/>
<circle cx="2922" cy="1026.9" r="0.9" fill="#777"/>
<circle cx="2918" cy="1031.2" r="0.9" fill="#777"/>
<circle cx="2922" cy="1035.5" r="0.9" fill="#777"/>
<circle cx="2918" cy="1039.8" r="0.9" fill="#777"/>
<circle cx="2922" cy="1044.1" r="0.9" fill="#777"/>
<circle cx="2918" cy="1048.4" r="0.9" fill="#777"/>
<path d="M3107,997 Q3114,985 3126,985 L3147,985 Q3159,985 3166,997" fill="#efefef" stroke="#cfcfcf" stroke-width="1.5"/>
<path d="M3120,997 Q3123,990 3130,990 L3143,990 Q3150,990 3153,997 Z" fill="#fff"/>
<rect x="3050" y="996" width="171" height="311" rx="9" fill="url(#cdB)" stroke="#cdcdcd" stroke-width="1"/>
<path d="M3179,1174 L3179,1162 L3201,1162 L3201,1174 L3208,1174 Q3212,1174 3212,1178 L3212,1219 Q3212,1223 3208,1223 L3172,1223 Q3168,1223 3168,1219 L3168,1178 Q3168,1174 3172,1174 Z" fill="#e1e1e1" stroke="#bdbdbd" stroke-width="1"/>
<circle cx="3190" cy="1171" r="4" fill="#cfcfcf" stroke="#b5b5b5" stroke-width="0.8"/>
</g>
<g id="laptop" filter="url(#bl4)">
<polygon points="181.8,1504.3 489,1504.3 559.5,1705.3 112,1705.3" fill="url(#lpDeck)" />
<polygon points="112,1701.5 559.5,1701.5 559.5,1707.9 112,1707.9" fill="#9d9d9b" />
<polygon points="213.8,1510 457,1510 458.9,1521.3 212,1521.3" fill="#8f8f8e" />
<polygon points="187.4,1530.7 477.7,1530.7 503,1613.6 164.8,1613.6" fill="#3a3a3c" />
<line x1="183.8" y1="1543.9" x2="481.8" y2="1543.9" stroke="#b5b5b3" stroke-width="2.2"/>
<line x1="179.2" y1="1560.9" x2="486.9" y2="1560.9" stroke="#b5b5b3" stroke-width="2.2"/>
<line x1="174.6" y1="1577.8" x2="492.1" y2="1577.8" stroke="#b5b5b3" stroke-width="2.2"/>
<line x1="169.7" y1="1595.9" x2="497.6" y2="1595.9" stroke="#b5b5b3" stroke-width="2.2"/>
<line x1="208.2" y1="1530.7" x2="189" y2="1613.6" stroke="#a9a9a7" stroke-width="1.8"/>
<line x1="228.9" y1="1530.7" x2="213.1" y2="1613.6" stroke="#a9a9a7" stroke-width="1.8"/>
<line x1="249.7" y1="1530.7" x2="237.3" y2="1613.6" stroke="#a9a9a7" stroke-width="1.8"/>
<line x1="270.4" y1="1530.7" x2="261.4" y2="1613.6" stroke="#a9a9a7" stroke-width="1.8"/>
<line x1="291.1" y1="1530.7" x2="285.6" y2="1613.6" stroke="#a9a9a7" stroke-width="1.8"/>
<line x1="311.9" y1="1530.7" x2="309.8" y2="1613.6" stroke="#a9a9a7" stroke-width="1.8"/>
<line x1="332.6" y1="1530.7" x2="333.9" y2="1613.6" stroke="#a9a9a7" stroke-width="1.8"/>
<line x1="353.3" y1="1530.7" x2="358.1" y2="1613.6" stroke="#a9a9a7" stroke-width="1.8"/>
<line x1="374.1" y1="1530.7" x2="382.2" y2="1613.6" stroke="#a9a9a7" stroke-width="1.8"/>
<line x1="394.8" y1="1530.7" x2="406.4" y2="1613.6" stroke="#a9a9a7" stroke-width="1.8"/>
<line x1="415.5" y1="1530.7" x2="430.5" y2="1613.6" stroke="#a9a9a7" stroke-width="1.8"/>
<line x1="436.3" y1="1530.7" x2="454.7" y2="1613.6" stroke="#a9a9a7" stroke-width="1.8"/>
<line x1="457" y1="1530.7" x2="478.8" y2="1613.6" stroke="#a9a9a7" stroke-width="1.8"/>
<polygon points="257.2,1597.4 400.5,1597.4 403.5,1611.8 255.3,1611.8" fill="#38383a" />
<polygon points="256.4,1619.3 414.8,1619.3 430.6,1700.4 253.4,1700.4" fill="#c9c9c8" stroke="#adadab" stroke-width="1.5"/>
<circle cx="472.1" cy="1634.4" r="15" fill="#1c62ad"/>
<polygon points="161.1,1645.7 202.5,1645.7 204.4,1672.1 161.1,1672.1" fill="#8e97a5" />
<polygon points="161.1,1664.5 204.4,1664.5 204.4,1672.1 161.1,1672.1" fill="#d8d6c4" />
<polygon points="163.7,1310.9 500.4,1310.9 487.9,1506.2 182.5,1506.2" fill="#1e2c50" />
<polygon points="170.5,1317.7 489,1317.7 483.4,1496.8 185.6,1496.8" fill="url(#lpScr)" />
<g clip-path="url(#lpClip)"><g filter="url(#bl3)">
<ellipse cx="320" cy="1390" rx="85" ry="38" fill="#a9c6e2"/>
<ellipse cx="360" cy="1425" rx="55" ry="26" fill="#e4ebf0"/>
<ellipse cx="300" cy="1458" rx="62" ry="15" fill="#a8c644"/>
<ellipse cx="395" cy="1455" rx="45" ry="18" fill="#6f9ed4"/>
<ellipse cx="255" cy="1400" rx="45" ry="26" fill="#7fa8d2"/>
<ellipse cx="205" cy="1440" rx="24" ry="26" fill="#4a3f8a"/>
<ellipse cx="445" cy="1410" rx="30" ry="34" fill="#1f62b8"/>
<ellipse cx="330" cy="1333" rx="130" ry="12" fill="#0e2558"/>
<ellipse cx="330" cy="1492" rx="150" ry="9" fill="#12306c"/>
<ellipse cx="300" cy="1380" rx="18" ry="10" fill="#f4f7fa"/>
<ellipse cx="350" cy="1400" rx="22" ry="10" fill="#f4f7fa"/>
<ellipse cx="385" cy="1378" rx="16" ry="8" fill="#eef3f8"/>
</g></g>
</g>
<g id="phone" filter="url(#bl4)">
<rect x="687" y="1357.5" width="137.5" height="279" rx="18" fill="#2a2e3a"/>
<rect x="693.5" y="1363.5" width="124" height="266" rx="13" fill="#bcd440"/>
<g clip-path="url(#phClip)"><g filter="url(#bl3)">
<ellipse cx="730" cy="1400" rx="30" ry="30" fill="#c3d84a"/>
<ellipse cx="790" cy="1420" rx="25" ry="40" fill="#a8c43c"/>
<ellipse cx="745" cy="1470" rx="35" ry="30" fill="#c9dc52"/>
<ellipse cx="705" cy="1520" rx="18" ry="30" fill="#5b55b8"/>
<ellipse cx="780" cy="1560" rx="40" ry="40" fill="#c5b3e0"/>
<ellipse cx="720" cy="1600" rx="40" ry="30" fill="#d6c6ea"/>
<ellipse cx="800" cy="1500" rx="20" ry="30" fill="#b8d044"/>
<ellipse cx="720" cy="1440" rx="15" ry="20" fill="#b89ac8"/>
<ellipse cx="790" cy="1610" rx="30" ry="20" fill="#cdbde6"/>
<ellipse cx="760" cy="1520" rx="25" ry="20" fill="#a9c23a"/>
<ellipse cx="770" cy="1385" rx="30" ry="15" fill="#d2dd88"/>
</g></g>
<path d="M717,1363 L795,1363 L795,1366 Q795,1374 786,1374 L726,1374 Q717,1374 717,1366 Z" fill="#2d313d"/>
</g>
<g id="switch">
<polygon points="1077.2,1616.1 1704.9,1616.1 1782.1,1647 1019.1,1647" fill="url(#swT)"/>
<rect x="970.4" y="1645.7" width="857.6" height="101.8" rx="3" fill="url(#swF)" />
<rect x="978.4" y="1653.8" width="21.2" height="9.3" rx="4.5" fill="#fff" />
<rect x="978.4" y="1725.9" width="21.2" height="9.3" rx="4.5" fill="#fff" />
<rect x="1800.4" y="1653.8" width="21.2" height="9.3" rx="4.5" fill="#fff" />
<rect x="1800.4" y="1725.9" width="21.2" height="9.3" rx="4.5" fill="#fff" />
<text x="1041.2" y="1675.9" font-size="20" font-weight="bold" font-style="italic" fill="#c9ced4" textLength="72.1" lengthAdjust="spacingAndGlyphs">CORS</text>
<text x="1114.6" y="1662.7" font-size="7" fill="#c9ced4">®</text>
<circle cx="1094.2" cy="1717.8" r="4" fill="#3fd23c"/>
<circle cx="1109" cy="1717.8" r="4" fill="#3fd23c"/>
<circle cx="1123.9" cy="1717.8" r="4" fill="#3fd23c"/>
<circle cx="1138.7" cy="1717.8" r="4" fill="#3fd23c"/>
<circle cx="1152.7" cy="1717.8" r="4" fill="#3fd23c"/>
<circle cx="1166.3" cy="1717.8" r="4" fill="#3fd23c"/>
<circle cx="1180.3" cy="1717.8" r="4" fill="#3fd23c"/>
<circle cx="1194.7" cy="1717.8" r="4" fill="#3fd23c"/>
<circle cx="1208.7" cy="1717.8" r="4" fill="#3fd23c"/>
<circle cx="1166.3" cy="1701.7" r="3.2" fill="#3a3a3c"/>
<circle cx="1180.3" cy="1701.7" r="3.2" fill="#3a3a3c"/>
<circle cx="1194.7" cy="1701.7" r="3.2" fill="#3a3a3c"/>
<circle cx="1208.7" cy="1701.7" r="3.2" fill="#3a3a3c"/>
<text x="1090" y="1733.5" font-size="5.5" fill="#d8d8d8">PWR SYS 1-8 9-16 G1 G2</text>
<rect x="1236.3" y="1690.3" width="27.6" height="31.8" rx="1.5" fill="#1b1b1d" stroke="#5b5b5e" stroke-width="1"/>
<rect x="1726.1" y="1677.5" width="29.7" height="29.7" rx="1.5" fill="#1b1b1d" stroke="#5b5b5e" stroke-width="1"/>
<text x="1249.9" y="1685.2" font-size="5.5" fill="#d8d8d8" text-anchor="middle">PoE Mode</text>
<text x="1249.9" y="1732.7" font-size="5.5" fill="#d8d8d8" text-anchor="middle">Extend</text>
<text x="1741" y="1673.3" font-size="5.5" fill="#d8d8d8" text-anchor="middle">ON</text>
<rect x="1285.1" y="1662.7" width="235.4" height="65.7" rx="1" fill="#c6bfae" />
<rect x="1288.5" y="1667.8" width="32.4" height="23.3" rx="1" fill="#2a2a2c" />
<rect x="1294.4" y="1664.8" width="20.6" height="3.8" rx="0" fill="#2a2a2c" />
<rect x="1288.5" y="1700" width="32.4" height="23.3" rx="1" fill="#2a2a2c" />
<rect x="1294.4" y="1723.4" width="20.6" height="3" rx="0" fill="#2a2a2c" />
<rect x="1289.3" y="1664" width="6.8" height="3.8" rx="0" fill="#57c43a" />
<rect x="1313.3" y="1664" width="6.8" height="3.8" rx="0" fill="#57c43a" />
<text x="1304.7" y="1659.7" font-size="6.5" fill="#e4e4e4" text-anchor="middle">16</text>
<text x="1304.7" y="1737.8" font-size="6" fill="#e4e4e4" text-anchor="middle">13</text>
<rect x="1327.7" y="1667.8" width="32.4" height="23.3" rx="1" fill="#2a2a2c" />
<rect x="1333.6" y="1664.8" width="20.6" height="3.8" rx="0" fill="#2a2a2c" />
<rect x="1327.7" y="1700" width="32.4" height="23.3" rx="1" fill="#2a2a2c" />
<rect x="1333.6" y="1723.4" width="20.6" height="3" rx="0" fill="#2a2a2c" />
<rect x="1328.5" y="1664" width="6.8" height="3.8" rx="0" fill="#57c43a" />
<rect x="1352.5" y="1664" width="6.8" height="3.8" rx="0" fill="#57c43a" />
<text x="1343.9" y="1659.7" font-size="6.5" fill="#e4e4e4" text-anchor="middle">14</text>
<text x="1343.9" y="1737.8" font-size="6" fill="#e4e4e4" text-anchor="middle">11</text>
<rect x="1366.9" y="1667.8" width="32.4" height="23.3" rx="1" fill="#2a2a2c" />
<rect x="1372.9" y="1664.8" width="20.6" height="3.8" rx="0" fill="#2a2a2c" />
<rect x="1366.9" y="1700" width="32.4" height="23.3" rx="1" fill="#2a2a2c" />
<rect x="1372.9" y="1723.4" width="20.6" height="3" rx="0" fill="#2a2a2c" />
<rect x="1367.8" y="1664" width="6.8" height="3.8" rx="0" fill="#57c43a" />
<rect x="1391.7" y="1664" width="6.8" height="3.8" rx="0" fill="#57c43a" />
<text x="1383.1" y="1659.7" font-size="6.5" fill="#e4e4e4" text-anchor="middle">POE</text>
<text x="1383.1" y="1737.8" font-size="6" fill="#e4e4e4" text-anchor="middle">9</text>
<rect x="1406.1" y="1667.8" width="32.4" height="23.3" rx="1" fill="#2a2a2c" />
<rect x="1412.1" y="1664.8" width="20.6" height="3.8" rx="0" fill="#2a2a2c" />
<rect x="1406.1" y="1700" width="32.4" height="23.3" rx="1" fill="#2a2a2c" />
<rect x="1412.1" y="1723.4" width="20.6" height="3" rx="0" fill="#2a2a2c" />
<rect x="1407" y="1664" width="6.8" height="3.8" rx="0" fill="#57c43a" />
<rect x="1431" y="1664" width="6.8" height="3.8" rx="0" fill="#57c43a" />
<text x="1422.4" y="1659.7" font-size="6.5" fill="#e4e4e4" text-anchor="middle">10</text>
<text x="1422.4" y="1737.8" font-size="6" fill="#e4e4e4" text-anchor="middle">7</text>
<rect x="1445.4" y="1667.8" width="32.4" height="23.3" rx="1" fill="#2a2a2c" />
<rect x="1451.3" y="1664.8" width="20.6" height="3.8" rx="0" fill="#2a2a2c" />
<rect x="1445.4" y="1700" width="32.4" height="23.3" rx="1" fill="#2a2a2c" />
<rect x="1451.3" y="1723.4" width="20.6" height="3" rx="0" fill="#2a2a2c" />
<rect x="1446.2" y="1664" width="6.8" height="3.8" rx="0" fill="#57c43a" />
<rect x="1470.2" y="1664" width="6.8" height="3.8" rx="0" fill="#57c43a" />
<text x="1461.6" y="1659.7" font-size="6.5" fill="#e4e4e4" text-anchor="middle">12</text>
<text x="1461.6" y="1737.8" font-size="6" fill="#e4e4e4" text-anchor="middle">5</text>
<rect x="1484.6" y="1667.8" width="32.4" height="23.3" rx="1" fill="#2a2a2c" />
<rect x="1490.5" y="1664.8" width="20.6" height="3.8" rx="0" fill="#2a2a2c" />
<rect x="1484.6" y="1700" width="32.4" height="23.3" rx="1" fill="#2a2a2c" />
<rect x="1490.5" y="1723.4" width="20.6" height="3" rx="0" fill="#2a2a2c" />
<rect x="1485.5" y="1664" width="6.8" height="3.8" rx="0" fill="#57c43a" />
<rect x="1509.4" y="1664" width="6.8" height="3.8" rx="0" fill="#57c43a" />
<text x="1500.8" y="1659.7" font-size="6.5" fill="#e4e4e4" text-anchor="middle">15</text>
<text x="1500.8" y="1737.8" font-size="6" fill="#e4e4e4" text-anchor="middle">3</text>
<rect x="1552.3" y="1662.7" width="156.9" height="65.7" rx="1" fill="#c6bfae" />
<rect x="1555.6" y="1667.8" width="32.4" height="23.3" rx="1" fill="#2a2a2c" />
<rect x="1561.6" y="1664.8" width="20.6" height="3.8" rx="0" fill="#2a2a2c" />
<rect x="1555.6" y="1700" width="32.4" height="23.3" rx="1" fill="#2a2a2c" />
<rect x="1561.6" y="1723.4" width="20.6" height="3" rx="0" fill="#2a2a2c" />
<rect x="1556.5" y="1664" width="6.8" height="3.8" rx="0" fill="#57c43a" />
<rect x="1580.5" y="1664" width="6.8" height="3.8" rx="0" fill="#57c43a" />
<text x="1571.9" y="1659.7" font-size="6.5" fill="#e4e4e4" text-anchor="middle">16</text>
<text x="1571.9" y="1737.8" font-size="6" fill="#e4e4e4" text-anchor="middle">8</text>
<rect x="1594.9" y="1667.8" width="32.4" height="23.3" rx="1" fill="#2a2a2c" />
<rect x="1600.8" y="1664.8" width="20.6" height="3.8" rx="0" fill="#2a2a2c" />
<rect x="1594.9" y="1700" width="32.4" height="23.3" rx="1" fill="#2a2a2c" />
<rect x="1600.8" y="1723.4" width="20.6" height="3" rx="0" fill="#2a2a2c" />
<rect x="1595.7" y="1664" width="6.8" height="3.8" rx="0" fill="#57c43a" />
<rect x="1619.7" y="1664" width="6.8" height="3.8" rx="0" fill="#57c43a" />
<text x="1611.1" y="1659.7" font-size="6.5" fill="#e4e4e4" text-anchor="middle">14</text>
<text x="1611.1" y="1737.8" font-size="6" fill="#e4e4e4" text-anchor="middle">6</text>
<rect x="1634.1" y="1667.8" width="32.4" height="23.3" rx="1" fill="#2a2a2c" />
<rect x="1640.1" y="1664.8" width="20.6" height="3.8" rx="0" fill="#2a2a2c" />
<rect x="1634.1" y="1700" width="32.4" height="23.3" rx="1" fill="#2a2a2c" />
<rect x="1640.1" y="1723.4" width="20.6" height="3" rx="0" fill="#2a2a2c" />
<rect x="1635" y="1664" width="6.8" height="3.8" rx="0" fill="#57c43a" />
<rect x="1658.9" y="1664" width="6.8" height="3.8" rx="0" fill="#57c43a" />
<text x="1650.3" y="1659.7" font-size="6.5" fill="#e4e4e4" text-anchor="middle">12</text>
<text x="1650.3" y="1737.8" font-size="6" fill="#e4e4e4" text-anchor="middle">4</text>
<rect x="1673.3" y="1667.8" width="32.4" height="23.3" rx="1" fill="#2a2a2c" />
<rect x="1679.3" y="1664.8" width="20.6" height="3.8" rx="0" fill="#2a2a2c" />
<rect x="1673.3" y="1700" width="32.4" height="23.3" rx="1" fill="#2a2a2c" />
<rect x="1679.3" y="1723.4" width="20.6" height="3" rx="0" fill="#2a2a2c" />
<rect x="1674.2" y="1664" width="6.8" height="3.8" rx="0" fill="#57c43a" />
<rect x="1698.2" y="1664" width="6.8" height="3.8" rx="0" fill="#57c43a" />
<text x="1689.6" y="1659.7" font-size="6.5" fill="#e4e4e4" text-anchor="middle">10</text>
<text x="1689.6" y="1737.8" font-size="6" fill="#e4e4e4" text-anchor="middle">2</text>
<rect x="1523.4" y="1668.2" width="24.6" height="22.9" rx="1" fill="#8a8a88" />
<rect x="1526.8" y="1671.2" width="17.8" height="17" rx="0" fill="#222" />
<rect x="1523.4" y="1700.9" width="24.6" height="19.1" rx="1" fill="#8a8a88" />
<rect x="1526.8" y="1703.8" width="17.8" height="14" rx="0" fill="#222" />
</g>
<g id="uwbst0">
<rect x="2081" y="2135.8" width="14.1" height="17.3" fill="#c3c4c6" stroke="#adaeb0" stroke-width="1"/>
<rect x="2197" y="2135.8" width="13" height="17.3" fill="#c3c4c6" stroke="#adaeb0" stroke-width="1"/>
<rect x="2076.7" y="2309.2" width="19.5" height="29.3" rx="3" fill="#b9babc" stroke="#9fa0a2" stroke-width="1"/>
<circle cx="2084.3" cy="2325.4" r="5" fill="#a5a6a8" stroke="#8c8d8f" stroke-width="1"/>
<rect x="2191.6" y="2309.2" width="19.5" height="29.3" rx="3" fill="#b9babc" stroke="#9fa0a2" stroke-width="1"/>
<circle cx="2199.2" cy="2325.4" r="5" fill="#a5a6a8" stroke="#8c8d8f" stroke-width="1"/>
<circle cx="2052.9" cy="2146.6" r="9.5" fill="#cbccce"/>
<circle cx="2052.9" cy="2146.6" r="5.5" fill="#a9a79c" stroke="#8d8c86" stroke-width="1"/>
<circle cx="2236" cy="2145.5" r="9.5" fill="#cbccce"/>
<circle cx="2236" cy="2145.5" r="5.5" fill="#a9a79c" stroke="#8d8c86" stroke-width="1"/>
<circle cx="2055" cy="2324.4" r="9.5" fill="#cbccce"/>
<circle cx="2055" cy="2324.4" r="5.5" fill="#a9a79c" stroke="#8d8c86" stroke-width="1"/>
<circle cx="2236" cy="2323.3" r="9.5" fill="#cbccce"/>
<circle cx="2236" cy="2323.3" r="5.5" fill="#a9a79c" stroke="#8d8c86" stroke-width="1"/>
<rect x="2021.4" y="2150.9" width="246.5" height="162.6" rx="10" fill="#cfd0d2" stroke="#b4b5b7" stroke-width="1.5"/>
<rect x="2026.9" y="2159.6" width="235.2" height="146.3" rx="7" fill="url(#uwbF)" stroke="#bcbdbf" stroke-width="1.2"/>
<g clip-path="url(#uwbClip0)">
<path d="M1916.9,2155.3 L1916.9,2165 L1765.2,2316.8" fill="none" stroke="#a6a7a9" stroke-width="3" stroke-linejoin="round"/>
<path d="M1919.5,2165 L1767.8,2316.8" fill="none" stroke="#f1f1f2" stroke-width="2.2"/>
<path d="M1939.6,2155.3 L1939.6,2165 L1787.9,2316.8" fill="none" stroke="#a6a7a9" stroke-width="3" stroke-linejoin="round"/>
<path d="M1942.2,2165 L1790.5,2316.8" fill="none" stroke="#f1f1f2" stroke-width="2.2"/>
<path d="M1962.3,2155.3 L1962.3,2165 L1810.5,2316.8" fill="none" stroke="#a6a7a9" stroke-width="3" stroke-linejoin="round"/>
<path d="M1964.9,2165 L1813.1,2316.8" fill="none" stroke="#f1f1f2" stroke-width="2.2"/>
<path d="M1984.9,2155.3 L1984.9,2165 L1833.2,2316.8" fill="none" stroke="#a6a7a9" stroke-width="3" stroke-linejoin="round"/>
<path d="M1987.5,2165 L1835.8,2316.8" fill="none" stroke="#f1f1f2" stroke-width="2.2"/>
<path d="M2007.6,2155.3 L2007.6,2165 L1855.8,2316.8" fill="none" stroke="#a6a7a9" stroke-width="3" stroke-linejoin="round"/>
<path d="M2010.2,2165 L1858.4,2316.8" fill="none" stroke="#f1f1f2" stroke-width="2.2"/>
<path d="M2030.2,2155.3 L2030.2,2165 L1878.5,2316.8" fill="none" stroke="#a6a7a9" stroke-width="3" stroke-linejoin="round"/>
<path d="M2032.8,2165 L1881.1,2316.8" fill="none" stroke="#f1f1f2" stroke-width="2.2"/>
<path d="M2052.9,2155.3 L2052.9,2165 L1901.1,2316.8" fill="none" stroke="#a6a7a9" stroke-width="3" stroke-linejoin="round"/>
<path d="M2055.5,2165 L1903.7,2316.8" fill="none" stroke="#f1f1f2" stroke-width="2.2"/>
<path d="M2075.5,2155.3 L2075.5,2165 L1923.8,2316.8" fill="none" stroke="#a6a7a9" stroke-width="3" stroke-linejoin="round"/>
<path d="M2078.1,2165 L1926.4,2316.8" fill="none" stroke="#f1f1f2" stroke-width="2.2"/>
<path d="M2098.2,2155.3 L2098.2,2165 L1946.4,2316.8" fill="none" stroke="#a6a7a9" stroke-width="3" stroke-linejoin="round"/>
<path d="M2100.8,2165 L1949,2316.8" fill="none" stroke="#f1f1f2" stroke-width="2.2"/>
<path d="M2120.8,2155.3 L2120.8,2165 L1969.1,2316.8" fill="none" stroke="#a6a7a9" stroke-width="3" stroke-linejoin="round"/>
<path d="M2123.4,2165 L1971.7,2316.8" fill="none" stroke="#f1f1f2" stroke-width="2.2"/>
<path d="M2143.5,2155.3 L2143.5,2165 L1991.7,2316.8" fill="none" stroke="#a6a7a9" stroke-width="3" stroke-linejoin="round"/>
<path d="M2146.1,2165 L1994.3,2316.8" fill="none" stroke="#f1f1f2" stroke-width="2.2"/>
<path d="M2166.1,2155.3 L2166.1,2165 L2014.4,2316.8" fill="none" stroke="#a6a7a9" stroke-width="3" stroke-linejoin="round"/>
<path d="M2168.7,2165 L2017,2316.8" fill="none" stroke="#f1f1f2" stroke-width="2.2"/>
<path d="M2188.8,2155.3 L2188.8,2165 L2037,2316.8" fill="none" stroke="#a6a7a9" stroke-width="3" stroke-linejoin="round"/>
<path d="M2191.4,2165 L2039.6,2316.8" fill="none" stroke="#f1f1f2" stroke-width="2.2"/>
<path d="M2211.4,2155.3 L2211.4,2165 L2059.7,2316.8" fill="none" stroke="#a6a7a9" stroke-width="3" stroke-linejoin="round"/>
<path d="M2214,2165 L2062.3,2316.8" fill="none" stroke="#f1f1f2" stroke-width="2.2"/>
<path d="M2234.1,2155.3 L2234.1,2165 L2082.3,2316.8" fill="none" stroke="#a6a7a9" stroke-width="3" stroke-linejoin="round"/>
<path d="M2236.7,2165 L2084.9,2316.8" fill="none" stroke="#f1f1f2" stroke-width="2.2"/>
<path d="M2256.7,2155.3 L2256.7,2165 L2105,2316.8" fill="none" stroke="#a6a7a9" stroke-width="3" stroke-linejoin="round"/>
<path d="M2259.3,2165 L2107.6,2316.8" fill="none" stroke="#f1f1f2" stroke-width="2.2"/>
<path d="M2279.4,2155.3 L2279.4,2165 L2127.7,2316.8" fill="none" stroke="#a6a7a9" stroke-width="3" stroke-linejoin="round"/>
<path d="M2282,2165 L2130.3,2316.8" fill="none" stroke="#f1f1f2" stroke-width="2.2"/>
<path d="M2302.1,2155.3 L2302.1,2165 L2150.3,2316.8" fill="none" stroke="#a6a7a9" stroke-width="3" stroke-linejoin="round"/>
<path d="M2304.7,2165 L2152.9,2316.8" fill="none" stroke="#f1f1f2" stroke-width="2.2"/>
<path d="M2324.7,2155.3 L2324.7,2165 L2173,2316.8" fill="none" stroke="#a6a7a9" stroke-width="3" stroke-linejoin="round"/>
<path d="M2327.3,2165 L2175.6,2316.8" fill="none" stroke="#f1f1f2" stroke-width="2.2"/>
<path d="M2347.4,2155.3 L2347.4,2165 L2195.6,2316.8" fill="none" stroke="#a6a7a9" stroke-width="3" stroke-linejoin="round"/>
<path d="M2350,2165 L2198.2,2316.8" fill="none" stroke="#f1f1f2" stroke-width="2.2"/>
<path d="M2370,2155.3 L2370,2165 L2218.3,2316.8" fill="none" stroke="#a6a7a9" stroke-width="3" stroke-linejoin="round"/>
<path d="M2372.6,2165 L2220.9,2316.8" fill="none" stroke="#f1f1f2" stroke-width="2.2"/>
<path d="M2392.7,2155.3 L2392.7,2165 L2240.9,2316.8" fill="none" stroke="#a6a7a9" stroke-width="3" stroke-linejoin="round"/>
<path d="M2395.3,2165 L2243.5,2316.8" fill="none" stroke="#f1f1f2" stroke-width="2.2"/>
<path d="M2415.3,2155.3 L2415.3,2165 L2263.6,2316.8" fill="none" stroke="#a6a7a9" stroke-width="3" stroke-linejoin="round"/>
<path d="M2417.9,2165 L2266.2,2316.8" fill="none" stroke="#f1f1f2" stroke-width="2.2"/>
<path d="M2438,2155.3 L2438,2165 L2286.2,2316.8" fill="none" stroke="#a6a7a9" stroke-width="3" stroke-linejoin="round"/>
<path d="M2440.6,2165 L2288.8,2316.8" fill="none" stroke="#f1f1f2" stroke-width="2.2"/>
</g>
<rect x="2050.7" y="2180.2" width="32.5" height="112.7" fill="#d6d7d9"/>
<rect x="2055" y="2184.5" width="24.3" height="101.9" fill="#d2d3d5" stroke="#c0c1c3" stroke-width="1"/>
<path d="M2268.1,2266.9 L2292.4,2266.9" stroke="#c9c9c9" stroke-width="5"/>
<path d="M2274,2266.9 L2282.7,2266.9" stroke="#9b9b9b" stroke-width="8"/>
<path d="M2299.3,2105.4 Q2301.9,2101.7 2304.5,2105.4 L2305.8,2230.1 L2304.3,2273.4 L2297.4,2274.5 L2290.9,2260.4 L2294.6,2208.4 Z" fill="#3b3b3e"/>
</g>
<g id="uwbst1">
<rect x="2081" y="2408.8" width="14.1" height="17.3" fill="#c3c4c6" stroke="#adaeb0" stroke-width="1"/>
<rect x="2197" y="2408.8" width="13" height="17.3" fill="#c3c4c6" stroke="#adaeb0" stroke-width="1"/>
<rect x="2076.7" y="2582.2" width="19.5" height="29.3" rx="3" fill="#b9babc" stroke="#9fa0a2" stroke-width="1"/>
<circle cx="2084.3" cy="2598.4" r="5" fill="#a5a6a8" stroke="#8c8d8f" stroke-width="1"/>
<rect x="2191.6" y="2582.2" width="19.5" height="29.3" rx="3" fill="#b9babc" stroke="#9fa0a2" stroke-width="1"/>
<circle cx="2199.2" cy="2598.4" r="5" fill="#a5a6a8" stroke="#8c8d8f" stroke-width="1"/>
<circle cx="2052.9" cy="2419.6" r="9.5" fill="#cbccce"/>
<circle cx="2052.9" cy="2419.6" r="5.5" fill="#a9a79c" stroke="#8d8c86" stroke-width="1"/>
<circle cx="2236" cy="2418.5" r="9.5" fill="#cbccce"/>
<circle cx="2236" cy="2418.5" r="5.5" fill="#a9a79c" stroke="#8d8c86" stroke-width="1"/>
<circle cx="2055" cy="2597.4" r="9.5" fill="#cbccce"/>
<circle cx="2055" cy="2597.4" r="5.5" fill="#a9a79c" stroke="#8d8c86" stroke-width="1"/>
<circle cx="2236" cy="2596.3" r="9.5" fill="#cbccce"/>
<circle cx="2236" cy="2596.3" r="5.5" fill="#a9a79c" stroke="#8d8c86" stroke-width="1"/>
<rect x="2021.4" y="2423.9" width="246.5" height="162.6" rx="10" fill="#cfd0d2" stroke="#b4b5b7" stroke-width="1.5"/>
<rect x="2026.9" y="2432.6" width="235.2" height="146.3" rx="7" fill="url(#uwbF)" stroke="#bcbdbf" stroke-width="1.2"/>
<g clip-path="url(#uwbClip1)">
<path d="M1916.9,2428.3 L1916.9,2438 L1765.2,2589.8" fill="none" stroke="#a6a7a9" stroke-width="3" stroke-linejoin="round"/>
<path d="M1919.5,2438 L1767.8,2589.8" fill="none" stroke="#f1f1f2" stroke-width="2.2"/>
<path d="M1939.6,2428.3 L1939.6,2438 L1787.9,2589.8" fill="none" stroke="#a6a7a9" stroke-width="3" stroke-linejoin="round"/>
<path d="M1942.2,2438 L1790.5,2589.8" fill="none" stroke="#f1f1f2" stroke-width="2.2"/>
<path d="M1962.3,2428.3 L1962.3,2438 L1810.5,2589.8" fill="none" stroke="#a6a7a9" stroke-width="3" stroke-linejoin="round"/>
<path d="M1964.9,2438 L1813.1,2589.8" fill="none" stroke="#f1f1f2" stroke-width="2.2"/>
<path d="M1984.9,2428.3 L1984.9,2438 L1833.2,2589.8" fill="none" stroke="#a6a7a9" stroke-width="3" stroke-linejoin="round"/>
<path d="M1987.5,2438 L1835.8,2589.8" fill="none" stroke="#f1f1f2" stroke-width="2.2"/>
<path d="M2007.6,2428.3 L2007.6,2438 L1855.8,2589.8" fill="none" stroke="#a6a7a9" stroke-width="3" stroke-linejoin="round"/>
<path d="M2010.2,2438 L1858.4,2589.8" fill="none" stroke="#f1f1f2" stroke-width="2.2"/>
<path d="M2030.2,2428.3 L2030.2,2438 L1878.5,2589.8" fill="none" stroke="#a6a7a9" stroke-width="3" stroke-linejoin="round"/>
<path d="M2032.8,2438 L1881.1,2589.8" fill="none" stroke="#f1f1f2" stroke-width="2.2"/>
<path d="M2052.9,2428.3 L2052.9,2438 L1901.1,2589.8" fill="none" stroke="#a6a7a9" stroke-width="3" stroke-linejoin="round"/>
<path d="M2055.5,2438 L1903.7,2589.8" fill="none" stroke="#f1f1f2" stroke-width="2.2"/>
<path d="M2075.5,2428.3 L2075.5,2438 L1923.8,2589.8" fill="none" stroke="#a6a7a9" stroke-width="3" stroke-linejoin="round"/>
<path d="M2078.1,2438 L1926.4,2589.8" fill="none" stroke="#f1f1f2" stroke-width="2.2"/>
<path d="M2098.2,2428.3 L2098.2,2438 L1946.4,2589.8" fill="none" stroke="#a6a7a9" stroke-width="3" stroke-linejoin="round"/>
<path d="M2100.8,2438 L1949,2589.8" fill="none" stroke="#f1f1f2" stroke-width="2.2"/>
<path d="M2120.8,2428.3 L2120.8,2438 L1969.1,2589.8" fill="none" stroke="#a6a7a9" stroke-width="3" stroke-linejoin="round"/>
<path d="M2123.4,2438 L1971.7,2589.8" fill="none" stroke="#f1f1f2" stroke-width="2.2"/>
<path d="M2143.5,2428.3 L2143.5,2438 L1991.7,2589.8" fill="none" stroke="#a6a7a9" stroke-width="3" stroke-linejoin="round"/>
<path d="M2146.1,2438 L1994.3,2589.8" fill="none" stroke="#f1f1f2" stroke-width="2.2"/>
<path d="M2166.1,2428.3 L2166.1,2438 L2014.4,2589.8" fill="none" stroke="#a6a7a9" stroke-width="3" stroke-linejoin="round"/>
<path d="M2168.7,2438 L2017,2589.8" fill="none" stroke="#f1f1f2" stroke-width="2.2"/>
<path d="M2188.8,2428.3 L2188.8,2438 L2037,2589.8" fill="none" stroke="#a6a7a9" stroke-width="3" stroke-linejoin="round"/>
<path d="M2191.4,2438 L2039.6,2589.8" fill="none" stroke="#f1f1f2" stroke-width="2.2"/>
<path d="M2211.4,2428.3 L2211.4,2438 L2059.7,2589.8" fill="none" stroke="#a6a7a9" stroke-width="3" stroke-linejoin="round"/>
<path d="M2214,2438 L2062.3,2589.8" fill="none" stroke="#f1f1f2" stroke-width="2.2"/>
<path d="M2234.1,2428.3 L2234.1,2438 L2082.3,2589.8" fill="none" stroke="#a6a7a9" stroke-width="3" stroke-linejoin="round"/>
<path d="M2236.7,2438 L2084.9,2589.8" fill="none" stroke="#f1f1f2" stroke-width="2.2"/>
<path d="M2256.7,2428.3 L2256.7,2438 L2105,2589.8" fill="none" stroke="#a6a7a9" stroke-width="3" stroke-linejoin="round"/>
<path d="M2259.3,2438 L2107.6,2589.8" fill="none" stroke="#f1f1f2" stroke-width="2.2"/>
<path d="M2279.4,2428.3 L2279.4,2438 L2127.7,2589.8" fill="none" stroke="#a6a7a9" stroke-width="3" stroke-linejoin="round"/>
<path d="M2282,2438 L2130.3,2589.8" fill="none" stroke="#f1f1f2" stroke-width="2.2"/>
<path d="M2302.1,2428.3 L2302.1,2438 L2150.3,2589.8" fill="none" stroke="#a6a7a9" stroke-width="3" stroke-linejoin="round"/>
<path d="M2304.7,2438 L2152.9,2589.8" fill="none" stroke="#f1f1f2" stroke-width="2.2"/>
<path d="M2324.7,2428.3 L2324.7,2438 L2173,2589.8" fill="none" stroke="#a6a7a9" stroke-width="3" stroke-linejoin="round"/>
<path d="M2327.3,2438 L2175.6,2589.8" fill="none" stroke="#f1f1f2" stroke-width="2.2"/>
<path d="M2347.4,2428.3 L2347.4,2438 L2195.6,2589.8" fill="none" stroke="#a6a7a9" stroke-width="3" stroke-linejoin="round"/>
<path d="M2350,2438 L2198.2,2589.8" fill="none" stroke="#f1f1f2" stroke-width="2.2"/>
<path d="M2370,2428.3 L2370,2438 L2218.3,2589.8" fill="none" stroke="#a6a7a9" stroke-width="3" stroke-linejoin="round"/>
<path d="M2372.6,2438 L2220.9,2589.8" fill="none" stroke="#f1f1f2" stroke-width="2.2"/>
<path d="M2392.7,2428.3 L2392.7,2438 L2240.9,2589.8" fill="none" stroke="#a6a7a9" stroke-width="3" stroke-linejoin="round"/>
<path d="M2395.3,2438 L2243.5,2589.8" fill="none" stroke="#f1f1f2" stroke-width="2.2"/>
<path d="M2415.3,2428.3 L2415.3,2438 L2263.6,2589.8" fill="none" stroke="#a6a7a9" stroke-width="3" stroke-linejoin="round"/>
<path d="M2417.9,2438 L2266.2,2589.8" fill="none" stroke="#f1f1f2" stroke-width="2.2"/>
<path d="M2438,2428.3 L2438,2438 L2286.2,2589.8" fill="none" stroke="#a6a7a9" stroke-width="3" stroke-linejoin="round"/>
<path d="M2440.6,2438 L2288.8,2589.8" fill="none" stroke="#f1f1f2" stroke-width="2.2"/>
</g>
<rect x="2050.7" y="2453.2" width="32.5" height="112.7" fill="#d6d7d9"/>
<rect x="2055" y="2457.5" width="24.3" height="101.9" fill="#d2d3d5" stroke="#c0c1c3" stroke-width="1"/>
<path d="M2268.1,2539.9 L2292.4,2539.9" stroke="#c9c9c9" stroke-width="5"/>
<path d="M2274,2539.9 L2282.7,2539.9" stroke="#9b9b9b" stroke-width="8"/>
<path d="M2299.3,2378.4 Q2301.9,2374.7 2304.5,2378.4 L2305.8,2503.1 L2304.3,2546.4 L2297.4,2547.5 L2290.9,2533.4 L2294.6,2481.4 Z" fill="#3b3b3e"/>
</g>
<g id="uwbst2">
<rect x="2081" y="2682.3" width="14.1" height="17.3" fill="#c3c4c6" stroke="#adaeb0" stroke-width="1"/>
<rect x="2197" y="2682.3" width="13" height="17.3" fill="#c3c4c6" stroke="#adaeb0" stroke-width="1"/>
<rect x="2076.7" y="2855.7" width="19.5" height="29.3" rx="3" fill="#b9babc" stroke="#9fa0a2" stroke-width="1"/>
<circle cx="2084.3" cy="2871.9" r="5" fill="#a5a6a8" stroke="#8c8d8f" stroke-width="1"/>
<rect x="2191.6" y="2855.7" width="19.5" height="29.3" rx="3" fill="#b9babc" stroke="#9fa0a2" stroke-width="1"/>
<circle cx="2199.2" cy="2871.9" r="5" fill="#a5a6a8" stroke="#8c8d8f" stroke-width="1"/>
<circle cx="2052.9" cy="2693.1" r="9.5" fill="#cbccce"/>
<circle cx="2052.9" cy="2693.1" r="5.5" fill="#a9a79c" stroke="#8d8c86" stroke-width="1"/>
<circle cx="2236" cy="2692" r="9.5" fill="#cbccce"/>
<circle cx="2236" cy="2692" r="5.5" fill="#a9a79c" stroke="#8d8c86" stroke-width="1"/>
<circle cx="2055" cy="2870.9" r="9.5" fill="#cbccce"/>
<circle cx="2055" cy="2870.9" r="5.5" fill="#a9a79c" stroke="#8d8c86" stroke-width="1"/>
<circle cx="2236" cy="2869.8" r="9.5" fill="#cbccce"/>
<circle cx="2236" cy="2869.8" r="5.5" fill="#a9a79c" stroke="#8d8c86" stroke-width="1"/>
<rect x="2021.4" y="2697.4" width="246.5" height="162.6" rx="10" fill="#cfd0d2" stroke="#b4b5b7" stroke-width="1.5"/>
<rect x="2026.9" y="2706.1" width="235.2" height="146.3" rx="7" fill="url(#uwbF)" stroke="#bcbdbf" stroke-width="1.2"/>
<g clip-path="url(#uwbClip2)">
<path d="M1916.9,2701.8 L1916.9,2711.5 L1765.2,2863.3" fill="none" stroke="#a6a7a9" stroke-width="3" stroke-linejoin="round"/>
<path d="M1919.5,2711.5 L1767.8,2863.3" fill="none" stroke="#f1f1f2" stroke-width="2.2"/>
<path d="M1939.6,2701.8 L1939.6,2711.5 L1787.9,2863.3" fill="none" stroke="#a6a7a9" stroke-width="3" stroke-linejoin="round"/>
<path d="M1942.2,2711.5 L1790.5,2863.3" fill="none" stroke="#f1f1f2" stroke-width="2.2"/>
<path d="M1962.3,2701.8 L1962.3,2711.5 L1810.5,2863.3" fill="none" stroke="#a6a7a9" stroke-width="3" stroke-linejoin="round"/>
<path d="M1964.9,2711.5 L1813.1,2863.3" fill="none" stroke="#f1f1f2" stroke-width="2.2"/>
<path d="M1984.9,2701.8 L1984.9,2711.5 L1833.2,2863.3" fill="none" stroke="#a6a7a9" stroke-width="3" stroke-linejoin="round"/>
<path d="M1987.5,2711.5 L1835.8,2863.3" fill="none" stroke="#f1f1f2" stroke-width="2.2"/>
<path d="M2007.6,2701.8 L2007.6,2711.5 L1855.8,2863.3" fill="none" stroke="#a6a7a9" stroke-width="3" stroke-linejoin="round"/>
<path d="M2010.2,2711.5 L1858.4,2863.3" fill="none" stroke="#f1f1f2" stroke-width="2.2"/>
<path d="M2030.2,2701.8 L2030.2,2711.5 L1878.5,2863.3" fill="none" stroke="#a6a7a9" stroke-width="3" stroke-linejoin="round"/>
<path d="M2032.8,2711.5 L1881.1,2863.3" fill="none" stroke="#f1f1f2" stroke-width="2.2"/>
<path d="M2052.9,2701.8 L2052.9,2711.5 L1901.1,2863.3" fill="none" stroke="#a6a7a9" stroke-width="3" stroke-linejoin="round"/>
<path d="M2055.5,2711.5 L1903.7,2863.3" fill="none" stroke="#f1f1f2" stroke-width="2.2"/>
<path d="M2075.5,2701.8 L2075.5,2711.5 L1923.8,2863.3" fill="none" stroke="#a6a7a9" stroke-width="3" stroke-linejoin="round"/>
<path d="M2078.1,2711.5 L1926.4,2863.3" fill="none" stroke="#f1f1f2" stroke-width="2.2"/>
<path d="M2098.2,2701.8 L2098.2,2711.5 L1946.4,2863.3" fill="none" stroke="#a6a7a9" stroke-width="3" stroke-linejoin="round"/>
<path d="M2100.8,2711.5 L1949,2863.3" fill="none" stroke="#f1f1f2" stroke-width="2.2"/>
<path d="M2120.8,2701.8 L2120.8,2711.5 L1969.1,2863.3" fill="none" stroke="#a6a7a9" stroke-width="3" stroke-linejoin="round"/>
<path d="M2123.4,2711.5 L1971.7,2863.3" fill="none" stroke="#f1f1f2" stroke-width="2.2"/>
<path d="M2143.5,2701.8 L2143.5,2711.5 L1991.7,2863.3" fill="none" stroke="#a6a7a9" stroke-width="3" stroke-linejoin="round"/>
<path d="M2146.1,2711.5 L1994.3,2863.3" fill="none" stroke="#f1f1f2" stroke-width="2.2"/>
<path d="M2166.1,2701.8 L2166.1,2711.5 L2014.4,2863.3" fill="none" stroke="#a6a7a9" stroke-width="3" stroke-linejoin="round"/>
<path d="M2168.7,2711.5 L2017,2863.3" fill="none" stroke="#f1f1f2" stroke-width="2.2"/>
<path d="M2188.8,2701.8 L2188.8,2711.5 L2037,2863.3" fill="none" stroke="#a6a7a9" stroke-width="3" stroke-linejoin="round"/>
<path d="M2191.4,2711.5 L2039.6,2863.3" fill="none" stroke="#f1f1f2" stroke-width="2.2"/>
<path d="M2211.4,2701.8 L2211.4,2711.5 L2059.7,2863.3" fill="none" stroke="#a6a7a9" stroke-width="3" stroke-linejoin="round"/>
<path d="M2214,2711.5 L2062.3,2863.3" fill="none" stroke="#f1f1f2" stroke-width="2.2"/>
<path d="M2234.1,2701.8 L2234.1,2711.5 L2082.3,2863.3" fill="none" stroke="#a6a7a9" stroke-width="3" stroke-linejoin="round"/>
<path d="M2236.7,2711.5 L2084.9,2863.3" fill="none" stroke="#f1f1f2" stroke-width="2.2"/>
<path d="M2256.7,2701.8 L2256.7,2711.5 L2105,2863.3" fill="none" stroke="#a6a7a9" stroke-width="3" stroke-linejoin="round"/>
<path d="M2259.3,2711.5 L2107.6,2863.3" fill="none" stroke="#f1f1f2" stroke-width="2.2"/>
<path d="M2279.4,2701.8 L2279.4,2711.5 L2127.7,2863.3" fill="none" stroke="#a6a7a9" stroke-width="3" stroke-linejoin="round"/>
<path d="M2282,2711.5 L2130.3,2863.3" fill="none" stroke="#f1f1f2" stroke-width="2.2"/>
<path d="M2302.1,2701.8 L2302.1,2711.5 L2150.3,2863.3" fill="none" stroke="#a6a7a9" stroke-width="3" stroke-linejoin="round"/>
<path d="M2304.7,2711.5 L2152.9,2863.3" fill="none" stroke="#f1f1f2" stroke-width="2.2"/>
<path d="M2324.7,2701.8 L2324.7,2711.5 L2173,2863.3" fill="none" stroke="#a6a7a9" stroke-width="3" stroke-linejoin="round"/>
<path d="M2327.3,2711.5 L2175.6,2863.3" fill="none" stroke="#f1f1f2" stroke-width="2.2"/>
<path d="M2347.4,2701.8 L2347.4,2711.5 L2195.6,2863.3" fill="none" stroke="#a6a7a9" stroke-width="3" stroke-linejoin="round"/>
<path d="M2350,2711.5 L2198.2,2863.3" fill="none" stroke="#f1f1f2" stroke-width="2.2"/>
<path d="M2370,2701.8 L2370,2711.5 L2218.3,2863.3" fill="none" stroke="#a6a7a9" stroke-width="3" stroke-linejoin="round"/>
<path d="M2372.6,2711.5 L2220.9,2863.3" fill="none" stroke="#f1f1f2" stroke-width="2.2"/>
<path d="M2392.7,2701.8 L2392.7,2711.5 L2240.9,2863.3" fill="none" stroke="#a6a7a9" stroke-width="3" stroke-linejoin="round"/>
<path d="M2395.3,2711.5 L2243.5,2863.3" fill="none" stroke="#f1f1f2" stroke-width="2.2"/>
<path d="M2415.3,2701.8 L2415.3,2711.5 L2263.6,2863.3" fill="none" stroke="#a6a7a9" stroke-width="3" stroke-linejoin="round"/>
<path d="M2417.9,2711.5 L2266.2,2863.3" fill="none" stroke="#f1f1f2" stroke-width="2.2"/>
<path d="M2438,2701.8 L2438,2711.5 L2286.2,2863.3" fill="none" stroke="#a6a7a9" stroke-width="3" stroke-linejoin="round"/>
<path d="M2440.6,2711.5 L2288.8,2863.3" fill="none" stroke="#f1f1f2" stroke-width="2.2"/>
</g>
<rect x="2050.7" y="2726.7" width="32.5" height="112.7" fill="#d6d7d9"/>
<rect x="2055" y="2731" width="24.3" height="101.9" fill="#d2d3d5" stroke="#c0c1c3" stroke-width="1"/>
<path d="M2268.1,2813.4 L2292.4,2813.4" stroke="#c9c9c9" stroke-width="5"/>
<path d="M2274,2813.4 L2282.7,2813.4" stroke="#9b9b9b" stroke-width="8"/>
<path d="M2299.3,2651.9 Q2301.9,2648.2 2304.5,2651.9 L2305.8,2776.6 L2304.3,2819.9 L2297.4,2821 L2290.9,2806.9 L2294.6,2754.9 Z" fill="#3b3b3e"/>
</g>
<g id="uwbbeacons"><g>
<path d="M2776.1,2159.6 L2791.3,2144.4 L2878,2143.4 L2892.1,2158.5 Z" fill="#1d1d20"/>
<path d="M2801,2158.5 Q2804.3,2149.4 2812.9,2149.4 L2856.3,2149.4 Q2865,2149.4 2868.2,2158.5 Z" fill="#fff"/>
<path d="M2779.3,2309.2 L2793.4,2326.5 L2883.4,2325.4 L2897.9,2308.1 Z" fill="#1d1d20"/>
<path d="M2802.1,2311.4 Q2806.4,2319.4 2815.1,2319.4 L2860.6,2319.4 Q2869.3,2319.4 2872.5,2311.4 Z" fill="#fff"/>
<polygon points="2652.5,2178 2674.2,2160.7 2999.4,2154.6 3012.8,2168.9 3017.8,2191 3017.1,2282.1 3001.5,2309.8 2988.5,2313.5 2678.5,2314.6 2654.7,2292.9" fill="#19191c"/>
<polygon points="2666.6,2195.4 2698,2165 2977.7,2162.9 3010.2,2193.2 3010.2,2271.3 2984.2,2300.5 2698,2304.9 2666.6,2276.7" fill="url(#ubF)" stroke="#3b3c40" stroke-width="1.2"/>
<polygon points="2700.2,2218.1 2838.9,2216.6 2850.9,2232.7 2838.9,2253.5 2700.2,2255" fill="#141416"/>
<path d="M2901.8,2216 L2912.7,2232.7 L2901.8,2249.1" fill="none" stroke="#141416" stroke-width="4"/>
<path d="M2910.9,2216 L2921.8,2232.7 L2910.9,2249.1" fill="none" stroke="#141416" stroke-width="4"/>
<path d="M2920,2216 L2930.9,2232.7 L2920,2249.1" fill="none" stroke="#141416" stroke-width="4"/>
<path d="M2929.1,2216 L2940,2232.7 L2929.1,2249.1" fill="none" stroke="#141416" stroke-width="4"/>
<path d="M2938.2,2216 L2949.1,2232.7 L2938.2,2249.1" fill="none" stroke="#141416" stroke-width="4"/>
<path d="M2947.3,2216 L2958.2,2232.7 L2947.3,2249.1" fill="none" stroke="#141416" stroke-width="4"/>
</g>
<g>
<path d="M2776.1,2435.6 L2791.3,2420.4 L2878,2419.4 L2892.1,2434.5 Z" fill="#1d1d20"/>
<path d="M2801,2434.5 Q2804.3,2425.4 2812.9,2425.4 L2856.3,2425.4 Q2865,2425.4 2868.2,2434.5 Z" fill="#fff"/>
<path d="M2779.3,2585.2 L2793.4,2602.5 L2883.4,2601.4 L2897.9,2584.1 Z" fill="#1d1d20"/>
<path d="M2802.1,2587.4 Q2806.4,2595.4 2815.1,2595.4 L2860.6,2595.4 Q2869.3,2595.4 2872.5,2587.4 Z" fill="#fff"/>
<polygon points="2652.5,2454 2674.2,2436.7 2999.4,2430.6 3012.8,2444.9 3017.8,2467 3017.1,2558.1 3001.5,2585.8 2988.5,2589.5 2678.5,2590.6 2654.7,2568.9" fill="#19191c"/>
<polygon points="2666.6,2471.4 2698,2441 2977.7,2438.9 3010.2,2469.2 3010.2,2547.3 2984.2,2576.5 2698,2580.9 2666.6,2552.7" fill="url(#ubF)" stroke="#3b3c40" stroke-width="1.2"/>
<polygon points="2700.2,2494.1 2838.9,2492.6 2850.9,2508.7 2838.9,2529.5 2700.2,2531" fill="#141416"/>
<path d="M2901.8,2492 L2912.7,2508.7 L2901.8,2525.1" fill="none" stroke="#141416" stroke-width="4"/>
<path d="M2910.9,2492 L2921.8,2508.7 L2910.9,2525.1" fill="none" stroke="#141416" stroke-width="4"/>
<path d="M2920,2492 L2930.9,2508.7 L2920,2525.1" fill="none" stroke="#141416" stroke-width="4"/>
<path d="M2929.1,2492 L2940,2508.7 L2929.1,2525.1" fill="none" stroke="#141416" stroke-width="4"/>
<path d="M2938.2,2492 L2949.1,2508.7 L2938.2,2525.1" fill="none" stroke="#141416" stroke-width="4"/>
<path d="M2947.3,2492 L2958.2,2508.7 L2947.3,2525.1" fill="none" stroke="#141416" stroke-width="4"/>
</g>
<g>
<path d="M2776.1,2712.6 L2791.3,2697.4 L2878,2696.4 L2892.1,2711.5 Z" fill="#1d1d20"/>
<path d="M2801,2711.5 Q2804.3,2702.4 2812.9,2702.4 L2856.3,2702.4 Q2865,2702.4 2868.2,2711.5 Z" fill="#fff"/>
<path d="M2779.3,2862.2 L2793.4,2879.5 L2883.4,2878.4 L2897.9,2861.1 Z" fill="#1d1d20"/>
<path d="M2802.1,2864.4 Q2806.4,2872.4 2815.1,2872.4 L2860.6,2872.4 Q2869.3,2872.4 2872.5,2864.4 Z" fill="#fff"/>
<polygon points="2652.5,2731 2674.2,2713.7 2999.4,2707.6 3012.8,2721.9 3017.8,2744 3017.1,2835.1 3001.5,2862.8 2988.5,2866.5 2678.5,2867.6 2654.7,2845.9" fill="#19191c"/>
<polygon points="2666.6,2748.4 2698,2718 2977.7,2715.9 3010.2,2746.2 3010.2,2824.3 2984.2,2853.5 2698,2857.9 2666.6,2829.7" fill="url(#ubF)" stroke="#3b3c40" stroke-width="1.2"/>
<polygon points="2700.2,2771.1 2838.9,2769.6 2850.9,2785.7 2838.9,2806.5 2700.2,2808" fill="#141416"/>
<path d="M2901.8,2769 L2912.7,2785.7 L2901.8,2802.1" fill="none" stroke="#141416" stroke-width="4"/>
<path d="M2910.9,2769 L2921.8,2785.7 L2910.9,2802.1" fill="none" stroke="#141416" stroke-width="4"/>
<path d="M2920,2769 L2930.9,2785.7 L2920,2802.1" fill="none" stroke="#141416" stroke-width="4"/>
<path d="M2929.1,2769 L2940,2785.7 L2929.1,2802.1" fill="none" stroke="#141416" stroke-width="4"/>
<path d="M2938.2,2769 L2949.1,2785.7 L2938.2,2802.1" fill="none" stroke="#141416" stroke-width="4"/>
<path d="M2947.3,2769 L2958.2,2785.7 L2947.3,2802.1" fill="none" stroke="#141416" stroke-width="4"/>
</g></g>
<g id="btbeacons"><g>
<rect x="3470.5" y="2240.5" width="206.8" height="159.3" rx="17" fill="#1f2129"/>
<polygon points="3476.6,2245.2 3671.6,2245.2 3624.5,2270.7 3531.2,2270.7" fill="#20222b"/>
<polygon points="3476.6,2396 3671.6,2396 3624.5,2365.9 3531.2,2365.9" fill="#15161c"/>
<polygon points="3673.5,2247.1 3673.5,2394.2 3624.5,2365.9 3624.5,2270.7" fill="#1f2129"/>
<rect x="3531.2" y="2270.7" width="93.3" height="95.2" fill="#252838"/>
<circle cx="3499.2" cy="2318.8" r="20" fill="#1a1b22" stroke="#2b2d38" stroke-width="1.5"/>
<circle cx="3499.2" cy="2318.8" r="3.2" fill="#a9a9a3"/>
<circle cx="3651.9" cy="2317.8" r="20" fill="#1a1b22" stroke="#2b2d38" stroke-width="1.5"/>
<circle cx="3651.9" cy="2317.8" r="3.2" fill="#a9a9a3"/>
<path d="M3552,2299.9 L3605.7,2299.9 Q3608.5,2299.9 3608.5,2302.7 L3608.5,2332 L3601,2339.5 L3552,2339.5 Q3549.1,2339.5 3549.1,2336.7 L3549.1,2302.7 Q3549.1,2299.9 3552,2299.9 Z" fill="#c6c6c6"/>
<rect x="3552.9" y="2302.7" width="28.5" height="28.5" fill="url(#qr)"/>
<rect x="3553.7" y="2303.5" width="7.4" height="7.4" fill="#c6c6c6" stroke="#111" stroke-width="1.6"/>
<rect x="3555.9" y="2305.7" width="3" height="3" fill="#111"/>
<rect x="3573.2" y="2303.5" width="7.4" height="7.4" fill="#c6c6c6" stroke="#111" stroke-width="1.6"/>
<rect x="3575.4" y="2305.7" width="3" height="3" fill="#111"/>
<rect x="3553.7" y="2323" width="7.4" height="7.4" fill="#c6c6c6" stroke="#111" stroke-width="1.6"/>
<rect x="3555.9" y="2325.2" width="3" height="3" fill="#111"/>
<text x="3594.4" y="2327.8" font-size="10.5" font-weight="bold" fill="#151515" text-anchor="middle">Ex</text>
<text x="3594.4" y="2310.3" font-size="4.2" fill="#222" text-anchor="middle">防 爆</text>
<text x="3594.4" y="2315.9" font-size="4.2" fill="#222" text-anchor="middle">定位信标</text>
<text x="3576.5" y="2336.7" font-size="3.4" fill="#222" text-anchor="middle">ID:0x1D 38800 03489006</text>
</g>
<g>
<rect x="3470.5" y="2483.5" width="206.8" height="159.3" rx="17" fill="#1f2129"/>
<polygon points="3476.6,2488.2 3671.6,2488.2 3624.5,2513.7 3531.2,2513.7" fill="#20222b"/>
<polygon points="3476.6,2639 3671.6,2639 3624.5,2608.9 3531.2,2608.9" fill="#15161c"/>
<polygon points="3673.5,2490.1 3673.5,2637.2 3624.5,2608.9 3624.5,2513.7" fill="#1f2129"/>
<rect x="3531.2" y="2513.7" width="93.3" height="95.2" fill="#252838"/>
<circle cx="3499.2" cy="2561.8" r="20" fill="#1a1b22" stroke="#2b2d38" stroke-width="1.5"/>
<circle cx="3499.2" cy="2561.8" r="3.2" fill="#a9a9a3"/>
<circle cx="3651.9" cy="2560.8" r="20" fill="#1a1b22" stroke="#2b2d38" stroke-width="1.5"/>
<circle cx="3651.9" cy="2560.8" r="3.2" fill="#a9a9a3"/>
<path d="M3552,2542.9 L3605.7,2542.9 Q3608.5,2542.9 3608.5,2545.7 L3608.5,2575 L3601,2582.5 L3552,2582.5 Q3549.1,2582.5 3549.1,2579.7 L3549.1,2545.7 Q3549.1,2542.9 3552,2542.9 Z" fill="#c6c6c6"/>
<rect x="3552.9" y="2545.7" width="28.5" height="28.5" fill="url(#qr)"/>
<rect x="3553.7" y="2546.5" width="7.4" height="7.4" fill="#c6c6c6" stroke="#111" stroke-width="1.6"/>
<rect x="3555.9" y="2548.7" width="3" height="3" fill="#111"/>
<rect x="3573.2" y="2546.5" width="7.4" height="7.4" fill="#c6c6c6" stroke="#111" stroke-width="1.6"/>
<rect x="3575.4" y="2548.7" width="3" height="3" fill="#111"/>
<rect x="3553.7" y="2566" width="7.4" height="7.4" fill="#c6c6c6" stroke="#111" stroke-width="1.6"/>
<rect x="3555.9" y="2568.2" width="3" height="3" fill="#111"/>
<text x="3594.4" y="2570.8" font-size="10.5" font-weight="bold" fill="#151515" text-anchor="middle">Ex</text>
<text x="3594.4" y="2553.3" font-size="4.2" fill="#222" text-anchor="middle">防 爆</text>
<text x="3594.4" y="2558.9" font-size="4.2" fill="#222" text-anchor="middle">定位信标</text>
<text x="3576.5" y="2579.7" font-size="3.4" fill="#222" text-anchor="middle">ID:0x1D 38800 03489006</text>
</g>
<g>
<rect x="3470.5" y="2726.5" width="206.8" height="159.3" rx="17" fill="#1f2129"/>
<polygon points="3476.6,2731.2 3671.6,2731.2 3624.5,2756.7 3531.2,2756.7" fill="#20222b"/>
<polygon points="3476.6,2882 3671.6,2882 3624.5,2851.9 3531.2,2851.9" fill="#15161c"/>
<polygon points="3673.5,2733.1 3673.5,2880.2 3624.5,2851.9 3624.5,2756.7" fill="#1f2129"/>
<rect x="3531.2" y="2756.7" width="93.3" height="95.2" fill="#252838"/>
<circle cx="3499.2" cy="2804.8" r="20" fill="#1a1b22" stroke="#2b2d38" stroke-width="1.5"/>
<circle cx="3499.2" cy="2804.8" r="3.2" fill="#a9a9a3"/>
<circle cx="3651.9" cy="2803.8" r="20" fill="#1a1b22" stroke="#2b2d38" stroke-width="1.5"/>
<circle cx="3651.9" cy="2803.8" r="3.2" fill="#a9a9a3"/>
<path d="M3552,2785.9 L3605.7,2785.9 Q3608.5,2785.9 3608.5,2788.7 L3608.5,2818 L3601,2825.5 L3552,2825.5 Q3549.1,2825.5 3549.1,2822.7 L3549.1,2788.7 Q3549.1,2785.9 3552,2785.9 Z" fill="#c6c6c6"/>
<rect x="3552.9" y="2788.7" width="28.5" height="28.5" fill="url(#qr)"/>
<rect x="3553.7" y="2789.5" width="7.4" height="7.4" fill="#c6c6c6" stroke="#111" stroke-width="1.6"/>
<rect x="3555.9" y="2791.7" width="3" height="3" fill="#111"/>
<rect x="3573.2" y="2789.5" width="7.4" height="7.4" fill="#c6c6c6" stroke="#111" stroke-width="1.6"/>
<rect x="3575.4" y="2791.7" width="3" height="3" fill="#111"/>
<rect x="3553.7" y="2809" width="7.4" height="7.4" fill="#c6c6c6" stroke="#111" stroke-width="1.6"/>
<rect x="3555.9" y="2811.2" width="3" height="3" fill="#111"/>
<text x="3594.4" y="2813.8" font-size="10.5" font-weight="bold" fill="#151515" text-anchor="middle">Ex</text>
<text x="3594.4" y="2796.3" font-size="4.2" fill="#222" text-anchor="middle">防 爆</text>
<text x="3594.4" y="2801.9" font-size="4.2" fill="#222" text-anchor="middle">定位信标</text>
<text x="3576.5" y="2822.7" font-size="3.4" fill="#222" text-anchor="middle">ID:0x1D 38800 03489006</text>
</g></g>
<g id="platform" clip-path="url(#pfClip)">
<rect x="109" y="2394.5" width="986" height="487" fill="url(#pfBg)"/>
<polygon points="630.3,2465.1 837.5,2460 884.2,2485.7 796.2,2505.5 702.8,2497.7" fill="#86a884" />
<polygon points="659,2469.8 838.7,2466.9 856.7,2475.8 689,2480.3" fill="#b9c6bc" />
<polygon points="108.9,2461.5 619.8,2461.5 1095.1,2734 1095.1,2754.4 108.9,2754.4" fill="#4f9a2f" />
<polygon points="452.4,2499.8 476.3,2499.8 557.2,2601.6 515.3,2601.6" fill="#aab3b5" />
<polygon points="284.7,2559.7 778.8,2559.7 802.8,2571.7 284.7,2571.7" fill="#b3bbbd" />
<polygon points="257.7,2628.6 898.6,2628.6 928.6,2643.6 257.7,2643.6" fill="#aeb6b8" />
<polygon points="108.9,2495.3 674,2495.3 686,2502.8 108.9,2502.8" fill="#b9c1c3" />
<polygon points="599.1,2469.2 635.4,2466.6 1095.1,2712.7 1095.1,2743.9" fill="#c2c9cb" />
<polygon points="335.6,2502.8 458.4,2499.8 459.9,2520.8 335.6,2525.3" fill="#d9dde0" />
<polygon points="335.6,2502.8 458.4,2499.8 456.9,2495.3 338.6,2497.4" fill="#eef0f2" />
<polygon points="331.1,2528.2 461.4,2526.2 470.4,2538.1 332.6,2543.2" fill="#e4e7e9" />
<polygon points="599.1,2535.7 704,2534.2 707,2559.7 600.6,2562.7" fill="#d5d9dc" />
<polygon points="629.1,2556.7 712.9,2556.1 714.4,2577.7 630.6,2580.1" fill="#cfd4d8" />
<polygon points="563.2,2519.3 638.1,2518.4 639.6,2532.7 564.7,2534.2" fill="#d9dde0" />
<polygon points="736.9,2562.7 808.8,2561.5 810.3,2574.7 738.4,2576.2" fill="#d5d9dc" />
<polygon points="320.6,2576.2 503.3,2568.7 506.3,2601.6 320.6,2607.6" fill="#d0d5d9" />
<polygon points="320.6,2576.2 503.3,2568.7 500.3,2563.3 326.6,2570.2" fill="#e8ebed" />
<polygon points="602.1,2619.6 647.1,2616.6 650,2649.5 603.6,2652.5" fill="#c9ced2" />
<polygon points="820.8,2619.6 856.7,2618.1 858.2,2640.6 822.3,2642.4" fill="#d0d5d9" />
<rect x="834.2" y="2450.4" width="8.1" height="21" rx="0" fill="#c3c8cc" />
<polygon points="850.7,2405.5 856.7,2405.5 862.7,2469.8 847.1,2469.8" fill="#8f98a8" opacity="0.8"/>
<polygon points="108.9,2679.5 1095.1,2673.5 1095.1,2881.6 108.9,2881.6" fill="#8e9aa6" />
<polygon points="108.9,2505.8 269.7,2499.8 299.6,2679.5 108.9,2709.4" fill="#7f8f9a" />
<polygon points="317.6,2682.5 467.4,2676.5 479.3,2709.4 317.6,2715.4" fill="#4f9a32" />
<polygon points="557.2,2664.5 659,2661.5 668,2697.5 560.2,2702" fill="#52a033" />
<polygon points="689,2658.5 868.7,2651 883.7,2679.5 692,2688.5" fill="#4f9a32" />
<polygon points="392.5,2688.5 551.2,2684 551.2,2782.8 392.5,2787.3" fill="#a3acb6" />
<polygon points="411.1,2688.5 413.5,2688.5 413.5,2784.3 411.1,2784.3" fill="#dfe3e7" />
<polygon points="431,2688.5 433.4,2688.5 433.4,2784.3 431,2784.3" fill="#dfe3e7" />
<polygon points="450.8,2688.5 453.2,2688.5 453.2,2784.3 450.8,2784.3" fill="#dfe3e7" />
<polygon points="470.7,2688.5 473,2688.5 473,2784.3 470.7,2784.3" fill="#dfe3e7" />
<polygon points="490.5,2688.5 492.9,2688.5 492.9,2784.3 490.5,2784.3" fill="#dfe3e7" />
<polygon points="510.3,2688.5 512.7,2688.5 512.7,2784.3 510.3,2784.3" fill="#dfe3e7" />
<polygon points="530.2,2688.5 532.6,2688.5 532.6,2784.3 530.2,2784.3" fill="#dfe3e7" />
<polygon points="392.5,2688.5 551.2,2684 542.2,2673.5 404.5,2678" fill="#e6e9ec" />
<polygon points="392.5,2713.2 551.2,2708.7 551.2,2714.7 392.5,2719.2" fill="#7d8792" />
<polygon points="392.5,2737.9 551.2,2733.4 551.2,2739.4 392.5,2743.9" fill="#7d8792" />
<polygon points="392.5,2762.6 551.2,2758.1 551.2,2764.1 392.5,2768.6" fill="#7d8792" />
<polygon points="398.5,2764.8 545.2,2760.4 545.2,2769.3 398.5,2773.8" fill="#3f6ec8" />
<polygon points="422.4,2694.5 524.3,2690.9 524.3,2702 422.4,2705.5" fill="#2f58b0" />
<polygon points="650,2679.5 796.8,2675 796.8,2761.9 650,2766.3" fill="#a3acb6" />
<polygon points="667.2,2679.5 669.6,2679.5 669.6,2763.3 667.2,2763.3" fill="#dfe3e7" />
<polygon points="685.5,2679.5 687.9,2679.5 687.9,2763.3 685.5,2763.3" fill="#dfe3e7" />
<polygon points="703.9,2679.5 706.3,2679.5 706.3,2763.3 703.9,2763.3" fill="#dfe3e7" />
<polygon points="722.2,2679.5 724.6,2679.5 724.6,2763.3 722.2,2763.3" fill="#dfe3e7" />
<polygon points="740.6,2679.5 743,2679.5 743,2763.3 740.6,2763.3" fill="#dfe3e7" />
<polygon points="758.9,2679.5 761.3,2679.5 761.3,2763.3 758.9,2763.3" fill="#dfe3e7" />
<polygon points="777.3,2679.5 779.7,2679.5 779.7,2763.3 777.3,2763.3" fill="#dfe3e7" />
<polygon points="650,2679.5 796.8,2675 787.8,2664.5 662,2669" fill="#e6e9ec" />
<polygon points="650,2701.2 796.8,2696.7 796.8,2702.7 650,2707.2" fill="#7d8792" />
<polygon points="650,2722.9 796.8,2718.4 796.8,2724.4 650,2728.9" fill="#7d8792" />
<polygon points="650,2744.6 796.8,2740.1 796.8,2746.1 650,2750.6" fill="#7d8792" />
<polygon points="656,2743.9 790.8,2739.4 790.8,2748.4 656,2752.9" fill="#3f6ec8" />
<polygon points="680,2685.5 769.8,2681.9 769.8,2693 680,2696.6" fill="#2f58b0" />
<polygon points="817.8,2655.5 958.5,2651 958.5,2743.9 817.8,2748.4" fill="#a3acb6" />
<polygon points="834.2,2655.5 836.6,2655.5 836.6,2745.4 834.2,2745.4" fill="#dfe3e7" />
<polygon points="851.8,2655.5 854.2,2655.5 854.2,2745.4 851.8,2745.4" fill="#dfe3e7" />
<polygon points="869.4,2655.5 871.7,2655.5 871.7,2745.4 869.4,2745.4" fill="#dfe3e7" />
<polygon points="886.9,2655.5 889.3,2655.5 889.3,2745.4 886.9,2745.4" fill="#dfe3e7" />
<polygon points="904.5,2655.5 906.9,2655.5 906.9,2745.4 904.5,2745.4" fill="#dfe3e7" />
<polygon points="922.1,2655.5 924.5,2655.5 924.5,2745.4 922.1,2745.4" fill="#dfe3e7" />
<polygon points="939.7,2655.5 942.1,2655.5 942.1,2745.4 939.7,2745.4" fill="#dfe3e7" />
<polygon points="817.8,2655.5 958.5,2651 949.5,2640.6 829.7,2645" fill="#e6e9ec" />
<polygon points="817.8,2678.7 958.5,2674.2 958.5,2680.2 817.8,2684.7" fill="#7d8792" />
<polygon points="817.8,2702 958.5,2697.5 958.5,2703.5 817.8,2707.9" fill="#7d8792" />
<polygon points="817.8,2725.2 958.5,2720.7 958.5,2726.7 817.8,2731.2" fill="#7d8792" />
<polygon points="823.8,2725.9 952.5,2721.4 952.5,2730.4 823.8,2734.9" fill="#3f6ec8" />
<polygon points="847.7,2661.5 931.6,2657.9 931.6,2669 847.7,2672.6" fill="#2f58b0" />
<rect x="351.3" y="2556.7" width="16.5" height="101.8" rx="7.5" fill="url(#pfCyl)"/>
<rect x="356.8" y="2577.7" width="10.2" height="212.6" rx="4.6" fill="url(#pfCyl)"/>
<rect x="436.8" y="2595.6" width="7.2" height="47.9" rx="3.3" fill="url(#pfCyl)"/>
<rect x="569.9" y="2600.1" width="16.5" height="169.2" rx="7.5" fill="url(#pfCyl)"/>
<rect x="635.1" y="2616.6" width="9" height="146.8" rx="4.1" fill="url(#pfCyl)"/>
<rect x="572.2" y="2601.6" width="9" height="164.7" rx="4.1" fill="url(#pfCyl)"/>
<rect x="660.8" y="2571.7" width="6.6" height="167.7" rx="3" fill="url(#pfCyl)"/>
<rect x="747.4" y="2610.6" width="9" height="137.8" rx="4.1" fill="url(#pfCyl)"/>
<rect x="803.7" y="2607.6" width="10.2" height="143.8" rx="4.6" fill="url(#pfCyl)"/>
<rect x="694.1" y="2649.5" width="7.8" height="104.8" rx="3.5" fill="url(#pfCyl)"/>
<rect x="539.2" y="2658.5" width="12" height="110.8" rx="5.4" fill="url(#pfCyl)"/>
<rect x="342.2" y="2742.4" width="10.8" height="44.9" rx="4.9" fill="url(#pfCyl)"/>
<polygon points="343.1,2556.7 376,2556.7 382,2658.5 349.1,2658.5" fill="url(#pfCyl)" />
<polygon points="521.3,2616.6 551.2,2613.6 552.7,2649.5 522.8,2652.5" fill="#9aa1a8" />
<polygon points="179.8,2793.3 1095.1,2766.3 1095.1,2778.3 179.8,2806.8" fill="#9fb4c8" opacity="0.8"/>
<rect x="434.4" y="2811.3" width="65.9" height="65.9" fill="url(#pfTank)"/>
<ellipse cx="467.4" cy="2811.3" rx="32.9" ry="11.4" fill="#f4f5f6" stroke="#b7bcc2" stroke-width="0.8"/>
<rect x="721.9" y="2793.3" width="59.9" height="71.9" fill="url(#pfTank)"/>
<ellipse cx="751.9" cy="2793.3" rx="29.9" ry="10.2" fill="#f4f5f6" stroke="#b7bcc2" stroke-width="0.8"/>
<rect x="807.3" y="2781.3" width="53.9" height="77.9" fill="url(#pfTank)"/>
<ellipse cx="834.2" cy="2781.3" rx="27" ry="9.6" fill="#f4f5f6" stroke="#b7bcc2" stroke-width="0.8"/>
<rect x="552.7" y="2799.3" width="56.9" height="77.9" fill="url(#pfTank)"/>
<ellipse cx="581.2" cy="2799.3" rx="28.5" ry="10.2" fill="#f4f5f6" stroke="#b7bcc2" stroke-width="0.8"/>
<rect x="326.6" y="2826.2" width="59.9" height="59.9" fill="url(#pfTank)"/>
<ellipse cx="356.5" cy="2826.2" rx="29.9" ry="10.8" fill="#f4f5f6" stroke="#b7bcc2" stroke-width="0.8"/>
<rect x="626.1" y="2853.2" width="65.9" height="35.9" fill="url(#pfTank)"/>
<ellipse cx="659" cy="2853.2" rx="32.9" ry="10.8" fill="#f4f5f6" stroke="#b7bcc2" stroke-width="0.8"/>
<rect x="551.2" y="2859.2" width="59.9" height="29.9" fill="url(#pfTank)"/>
<ellipse cx="581.2" cy="2859.2" rx="29.9" ry="10.2" fill="#f4f5f6" stroke="#b7bcc2" stroke-width="0.8"/>
<rect x="871.7" y="2823.2" width="53.9" height="59.9" fill="url(#pfTank)"/>
<ellipse cx="898.6" cy="2823.2" rx="27" ry="9" fill="#f4f5f6" stroke="#b7bcc2" stroke-width="0.8"/>
<rect x="108.9" y="2754.4" width="986.2" height="127.3" rx="0" fill="url(#pfB)" />
<rect x="320.6" y="2457.9" width="62.9" height="7.2" rx="0.8" fill="#0d3f86" stroke="#5fa8e8" stroke-width="0.5" opacity="0.92"/>
<text x="352.1" y="2463.4" font-size="4.6" fill="#e8f2ff" text-anchor="middle" >化工成品罐区LPG泵房一层</text>
<rect x="395.5" y="2466.3" width="89.8" height="7.2" rx="0.8" fill="#0d3f86" stroke="#5fa8e8" stroke-width="0.5" opacity="0.92"/>
<text x="440.4" y="2471.8" font-size="4.6" fill="#e8f2ff" text-anchor="middle" >装置-气化高密单元装置区-二层</text>
<rect x="331.1" y="2504.3" width="38.9" height="7.2" rx="0.8" fill="#0d3f86" stroke="#5fa8e8" stroke-width="0.5" opacity="0.92"/>
<text x="350.6" y="2509.8" font-size="4.6" fill="#e8f2ff" text-anchor="middle" >魏海宇-消防泵房</text>
<rect x="563.2" y="2520.2" width="65.9" height="7.2" rx="0.8" fill="#0d3f86" stroke="#5fa8e8" stroke-width="0.5" opacity="0.92"/>
<text x="596.1" y="2525.7" font-size="4.6" fill="#e8f2ff" text-anchor="middle" >任晓平 王晓洋-中心化验楼1F</text>
<rect x="515.3" y="2538.1" width="35.9" height="7.2" rx="0.8" fill="#0d3f86" stroke="#5fa8e8" stroke-width="0.5" opacity="0.92"/>
<text x="533.2" y="2543.7" font-size="4.6" fill="#e8f2ff" text-anchor="middle" >李宁-二道门门卫</text>
<rect x="633.6" y="2511.8" width="44.9" height="7.2" rx="0.8" fill="#0d3f86" stroke="#5fa8e8" stroke-width="0.5" opacity="0.92"/>
<text x="656" y="2517.3" font-size="4.6" fill="#e8f2ff" text-anchor="middle" >杨洋-中心化验楼2F</text>
<rect x="644.1" y="2541.7" width="41.9" height="7.2" rx="0.8" fill="#0d3f86" stroke="#5fa8e8" stroke-width="0.5" opacity="0.92"/>
<text x="665" y="2547.3" font-size="4.6" fill="#e8f2ff" text-anchor="middle" >吴迅迅-中央控制室</text>
<rect x="726.4" y="2550.1" width="44.9" height="7.2" rx="0.8" fill="#0d3f86" stroke="#5fa8e8" stroke-width="0.5" opacity="0.92"/>
<text x="748.9" y="2555.7" font-size="4.6" fill="#e8f2ff" text-anchor="middle" >包磊-综合办公楼-1F</text>
<rect x="757.9" y="2564.2" width="50.9" height="7.2" rx="0.8" fill="#0d3f86" stroke="#5fa8e8" stroke-width="0.5" opacity="0.92"/>
<text x="783.3" y="2569.7" font-size="4.6" fill="#e8f2ff" text-anchor="middle" >张福祯-综合办公楼-1F</text>
<rect x="650" y="2558.2" width="18" height="7.2" rx="0.8" fill="#0d3f86" stroke="#5fa8e8" stroke-width="0.5" opacity="0.92"/>
<text x="659" y="2563.7" font-size="4.6" fill="#e8f2ff" text-anchor="middle" >马立新</text>
<rect x="698" y="2558.2" width="18" height="7.2" rx="0.8" fill="#0d3f86" stroke="#5fa8e8" stroke-width="0.5" opacity="0.92"/>
<text x="707" y="2563.7" font-size="4.6" fill="#e8f2ff" text-anchor="middle" >袁振峰</text>
<rect x="611.1" y="2568.1" width="18" height="7.2" rx="0.8" fill="#0d3f86" stroke="#5fa8e8" stroke-width="0.5" opacity="0.92"/>
<text x="620.1" y="2573.6" font-size="4.6" fill="#e8f2ff" text-anchor="middle" >尹晓龙</text>
<rect x="416.4" y="2619.6" width="12" height="7.2" rx="0.8" fill="#0d3f86" stroke="#5fa8e8" stroke-width="0.5" opacity="0.92"/>
<text x="422.4" y="2625.1" font-size="4.6" fill="#e8f2ff" text-anchor="middle" >崔平</text>
<rect x="320.6" y="2654" width="95.8" height="7.2" rx="0.8" fill="#0d3f86" stroke="#5fa8e8" stroke-width="0.5" opacity="0.92"/>
<text x="368.5" y="2659.6" font-size="4.6" fill="#e8f2ff" text-anchor="middle" >刘浩然-烷烃分离单元PLC控制间一层</text>
<rect x="687.5" y="2603.1" width="77.9" height="7.2" rx="0.8" fill="#0d3f86" stroke="#5fa8e8" stroke-width="0.5" opacity="0.92"/>
<text x="726.4" y="2608.7" font-size="4.6" fill="#e8f2ff" text-anchor="middle" >程宏英-烷烃分离单元204构架-四层</text>
<rect x="635.1" y="2611.2" width="71.9" height="7.2" rx="0.8" fill="#0d3f86" stroke="#5fa8e8" stroke-width="0.5" opacity="0.92"/>
<text x="671" y="2616.7" font-size="4.6" fill="#e8f2ff" text-anchor="middle" >李庆龙-烷烃分离生产辅助楼-二层</text>
<rect x="735.4" y="2634" width="77.9" height="7.2" rx="0.8" fill="#0d3f86" stroke="#5fa8e8" stroke-width="0.5" opacity="0.92"/>
<text x="774.3" y="2639.5" font-size="4.6" fill="#e8f2ff" text-anchor="middle" >张宇坤-烷烃分离单元204构架-四层</text>
<rect x="645.6" y="2660.9" width="77.9" height="7.2" rx="0.8" fill="#0d3f86" stroke="#5fa8e8" stroke-width="0.5" opacity="0.92"/>
<text x="684.5" y="2666.5" font-size="4.6" fill="#e8f2ff" text-anchor="middle" >王双平-烷烃分离单元201构架-五层</text>
<rect x="669.5" y="2672.9" width="77.9" height="7.2" rx="0.8" fill="#0d3f86" stroke="#5fa8e8" stroke-width="0.5" opacity="0.92"/>
<text x="708.4" y="2678.4" font-size="4.6" fill="#e8f2ff" text-anchor="middle" >张佳峰-烷烃分离单元201构架-四层</text>
<rect x="657.5" y="2696" width="77.9" height="7.2" rx="0.8" fill="#0d3f86" stroke="#5fa8e8" stroke-width="0.5" opacity="0.92"/>
<text x="696.5" y="2701.5" font-size="4.6" fill="#e8f2ff" text-anchor="middle" >曹代军-烷烃分离单元201构架-三层</text>
<rect x="627.6" y="2712.4" width="68.9" height="7.2" rx="0.8" fill="#0d3f86" stroke="#5fa8e8" stroke-width="0.5" opacity="0.92"/>
<text x="662" y="2718" font-size="4.6" fill="#e8f2ff" text-anchor="middle" >郝慧彬-烷烃分离201泵房一层</text>
<rect x="588.7" y="2741.5" width="16.5" height="7.2" rx="0.8" fill="#0d3f86" stroke="#5fa8e8" stroke-width="0.5" opacity="0.92"/>
<text x="596.9" y="2747" font-size="4.6" fill="#e8f2ff" text-anchor="middle" >赵艾辉</text>
<rect x="835.7" y="2626.2" width="16.5" height="7.2" rx="0.8" fill="#0d3f86" stroke="#5fa8e8" stroke-width="0.5" opacity="0.92"/>
<text x="844" y="2631.7" font-size="4.6" fill="#e8f2ff" text-anchor="middle" >朱小文</text>
<rect x="488.3" y="2475.2" width="125.8" height="7.2" rx="0.8" fill="#0d3f86" stroke="#5fa8e8" stroke-width="0.5" opacity="0.92"/>
<text x="551.2" y="2480.8" font-size="4.6" fill="#e8f2ff" text-anchor="middle" >郑建-昌泰日昌发站-三层 高鹏-昌泰日昌发站-二层</text>
<rect x="672.5" y="2490.8" width="27" height="7.2" rx="0.8" fill="#0d3f86" stroke="#5fa8e8" stroke-width="0.5" opacity="0.92"/>
<text x="686" y="2496.4" font-size="4.6" fill="#e8f2ff" text-anchor="middle" >刘尸 马汉良</text>
<rect x="470.4" y="2504.3" width="15" height="7.2" rx="0.8" fill="#0d3f86" stroke="#5fa8e8" stroke-width="0.5" opacity="0.92"/>
<text x="477.8" y="2509.8" font-size="4.6" fill="#e8f2ff" text-anchor="middle" >侯勇</text>
<rect x="483.8" y="2502.2" width="15" height="7.2" rx="0.8" fill="#0d3f86" stroke="#5fa8e8" stroke-width="0.5" opacity="0.92"/>
<text x="491.3" y="2507.7" font-size="4.6" fill="#e8f2ff" text-anchor="middle" >李鹏祥</text>
<rect x="934.6" y="2569.3" width="16.5" height="7.2" rx="0.8" fill="#0d3f86" stroke="#5fa8e8" stroke-width="0.5" opacity="0.92"/>
<text x="942.8" y="2574.8" font-size="4.6" fill="#e8f2ff" text-anchor="middle" >王利强</text>
<rect x="572.2" y="2498.3" width="18" height="7.2" rx="0.8" fill="#0d3f86" stroke="#5fa8e8" stroke-width="0.5" opacity="0.92"/>
<text x="581.2" y="2503.8" font-size="4.6" fill="#e8f2ff" text-anchor="middle" >帅尔布</text>
<circle cx="317.6" cy="2478.8" r="2.6" fill="#e02020"/>
<circle cx="364" cy="2480.3" r="2.6" fill="#2a6ae0"/>
<circle cx="392.5" cy="2490.8" r="2.6" fill="#e02020"/>
<circle cx="420.9" cy="2516.3" r="2.6" fill="#2a6ae0"/>
<circle cx="539.2" cy="2556.7" r="2.6" fill="#e02020"/>
<circle cx="620.1" cy="2580.7" r="2.6" fill="#e02020"/>
<circle cx="420.9" cy="2634.6" r="2.6" fill="#e02020"/>
<circle cx="491.3" cy="2514.8" r="2.6" fill="#f0b020"/>
<circle cx="473.3" cy="2516.3" r="2.6" fill="#2a6ae0"/>
<circle cx="690.5" cy="2501.3" r="2.6" fill="#e02020"/>
<circle cx="656" cy="2574.7" r="2.6" fill="#e02020"/>
<circle cx="784.8" cy="2576.2" r="2.6" fill="#e02020"/>
<circle cx="708.4" cy="2684" r="2.6" fill="#e02020"/>
<circle cx="837.2" cy="2637.6" r="2.6" fill="#2a6ae0"/>
<polygon points="303.2,2458.5 322.4,2458.5 312.8,2475.8" fill="#e6e04a" />
<polygon points="526.7,2463.9 545.8,2463.9 536.2,2481.2" fill="#e6e04a" />
<rect x="108.9" y="2394.4" width="250.7" height="487.3" rx="0" fill="url(#pfL)" />
<rect x="856.7" y="2394.4" width="238.4" height="487.3" rx="0" fill="url(#pfR)" />
<polygon points="108.9,2394.4 1095.1,2394.4 1095.1,2448.9 778.8,2448.9 760.9,2430.9 419.4,2430.9 401.5,2448.9 108.9,2448.9" fill="#04124a" opacity="0.93"/>
<polygon points="257.7,2394.4 928.6,2394.4 916.6,2404 784.8,2404 763.9,2427.9 422.4,2427.9 401.5,2404 269.7,2404" fill="url(#pfHd)" />
<path d="M173.9,2407 L359.5,2407 L392.5,2438.4 L422.4,2429.4 L763.9,2429.4 L790.8,2407 L958.5,2407" fill="none" stroke="#2a7ae8" stroke-width="1"/>
<rect x="492.8" y="2407" width="15" height="15" rx="0" fill="#c9d4e8" opacity="0.8"/>
<rect x="509.3" y="2407" width="15" height="15" rx="0" fill="#c9d4e8" opacity="0.8"/>
<rect x="530.3" y="2407" width="15" height="15" rx="0" fill="#c9d4e8" opacity="0.8"/>
<text x="552.7" y="2421.3" font-size="20.5" fill="#fff" text-anchor="start" font-weight="bold" >化工人员定位系统</text>
<text x="951" y="2419.8" font-size="7.4" fill="#fff" text-anchor="start" font-weight="bold" >2024/8/27  09:56:23  星期二</text>
<circle cx="1075.9" cy="2430.3" r="12" fill="none" stroke="#6f86b8" stroke-width="3.5"/><circle cx="1075.9" cy="2430.3" r="4.5" fill="#42557f"/>
<circle cx="1075.3" cy="2405.5" r="2.3" fill="none" stroke="#fff" stroke-width="1"/>
<circle cx="1082.8" cy="2405.5" r="2.3" fill="none" stroke="#fff" stroke-width="1"/>
<circle cx="1075.3" cy="2412.3" r="2.3" fill="none" stroke="#fff" stroke-width="1"/>
<circle cx="1082.8" cy="2412.3" r="2.3" fill="none" stroke="#fff" stroke-width="1"/>
<rect x="253.2" y="2402.5" width="116.8" height="41.9" rx="2" fill="none" stroke="#1c50c8" stroke-width="1"/>
<rect x="476.3" y="2424.9" width="119.8" height="27" rx="2" fill="#04124a" stroke="#1c50c8" stroke-width="1"/>
<text x="260.7" y="2414.1" font-size="6.2" fill="#b9c8e8" text-anchor="start" >聚集位置</text>
<text x="293.7" y="2414.1" font-size="6.2" fill="#fff" text-anchor="start" >全图</text>
<text x="260.7" y="2425.2" font-size="6.2" fill="#b9c8e8" text-anchor="start" >聚集数量</text>
<text x="293.7" y="2425.2" font-size="6.2" fill="#fff" text-anchor="start" >3人</text>
<text x="260.7" y="2436.3" font-size="6.2" fill="#b9c8e8" text-anchor="start" >聚集时长</text>
<text x="293.7" y="2436.3" font-size="6.2" fill="#fff" text-anchor="start" >3分钟53秒</text>
<text x="142.4" y="2421.9" font-size="6" fill="#6a7aa8" text-anchor="start" >聚集位置</text>
<text x="175.4" y="2421.9" font-size="6" fill="#6a7aa8" text-anchor="start" >全图</text>
<text x="142.4" y="2432.4" font-size="6" fill="#6a7aa8" text-anchor="start" >聚集数量</text>
<text x="175.4" y="2432.4" font-size="6" fill="#6a7aa8" text-anchor="start" >4人</text>
<text x="142.4" y="2442.9" font-size="6" fill="#6a7aa8" text-anchor="start" >聚集时长</text>
<text x="175.4" y="2442.9" font-size="6" fill="#6a7aa8" text-anchor="start" >17分钟3秒</text>
<text x="142.4" y="2409.9" font-size="6" fill="#6a7aa8" text-anchor="start" >聚集报警</text>
<text x="485.3" y="2441.4" font-size="6.4" fill="#fff" text-anchor="start" >聚集时长</text>
<text x="518.3" y="2441.4" font-size="6.4" fill="#fff" text-anchor="start" >2分钟43秒</text>
<polygon points="115.5,2428.8 227.8,2428.8 220.3,2438.4 115.5,2438.4" fill="#1450c8" opacity="0.55"/>
<polygon points="115.5,2433 119.9,2428.2 125.3,2428.2 125.3,2437.8 119.9,2437.8" fill="#f08a1c" />
<text x="128.9" y="2436.9" font-size="6.8" fill="#fff" text-anchor="start" font-weight="bold" >人员周统计</text>
<polygon points="115.5,2580.1 227.8,2580.1 220.3,2589.6 115.5,2589.6" fill="#1450c8" opacity="0.55"/>
<polygon points="115.5,2584.3 119.9,2579.5 125.3,2579.5 125.3,2589 119.9,2589" fill="#f08a1c" />
<text x="128.9" y="2588.1" font-size="6.8" fill="#fff" text-anchor="start" font-weight="bold" >今日人员报警</text>
<polygon points="115.5,2731.3 227.8,2731.3 220.3,2740.9 115.5,2740.9" fill="#1450c8" opacity="0.55"/>
<polygon points="115.5,2735.5 119.9,2730.7 125.3,2730.7 125.3,2740.3 119.9,2740.3" fill="#f08a1c" />
<text x="128.9" y="2739.4" font-size="6.8" fill="#fff" text-anchor="start" font-weight="bold" >今日区域报警</text>
<polygon points="886.6,2428.8 1067.8,2428.8 1060.4,2438.4 886.6,2438.4" fill="#1450c8" opacity="0.55"/>
<polygon points="886.6,2433 891.1,2428.2 896.5,2428.2 896.5,2437.8 891.1,2437.8" fill="#f08a1c" />
<text x="900.1" y="2436.9" font-size="6.8" fill="#fff" text-anchor="start" font-weight="bold" >人员实时分析</text>
<polygon points="886.6,2580.1 1085.8,2580.1 1078.3,2589.6 886.6,2589.6" fill="#1450c8" opacity="0.55"/>
<polygon points="886.6,2584.3 891.1,2579.5 896.5,2579.5 896.5,2589 891.1,2589" fill="#f08a1c" />
<text x="900.1" y="2588.1" font-size="6.8" fill="#fff" text-anchor="start" font-weight="bold" >区域人员实时分析</text>
<polygon points="886.6,2731.3 1085.8,2731.3 1078.3,2740.9 886.6,2740.9" fill="#1450c8" opacity="0.55"/>
<polygon points="886.6,2735.5 891.1,2730.7 896.5,2730.7 896.5,2740.3 891.1,2740.3" fill="#f08a1c" />
<text x="900.1" y="2739.4" font-size="6.8" fill="#fff" text-anchor="start" font-weight="bold" >部门分析</text>
<text x="119.4" y="2452.8" font-size="5.2" fill="#fff" text-anchor="start" font-weight="bold" >日期</text>
<rect x="151.4" y="2448.9" width="1.8" height="4.8" rx="0" fill="#3fd8c8" />
<text x="159.8" y="2452.8" font-size="5.2" fill="#fff" text-anchor="start" font-weight="bold" >人员</text>
<rect x="181.3" y="2448.9" width="1.8" height="4.8" rx="0" fill="#e8c840" />
<text x="189.7" y="2452.8" font-size="5.2" fill="#fff" text-anchor="start" font-weight="bold" >访客</text>
<rect x="210.7" y="2448.9" width="1.8" height="4.8" rx="0" fill="#e84848" />
<text x="219.1" y="2452.8" font-size="5.2" fill="#fff" text-anchor="start" font-weight="bold" >承包商</text>
<text x="128.9" y="2476.7" font-size="7" fill="#fff" text-anchor="start" font-weight="bold" >27</text>
<line x1="147.5" y1="2467.5" x2="198.4" y2="2467.5" stroke="#35cfc0" stroke-width="4.2" stroke-dasharray="1.4 0.9"/>
<text x="271.2" y="2469.5" font-size="5.6" fill="#fff" text-anchor="end" font-weight="bold" >405</text>
<line x1="147.5" y1="2474" x2="156.5" y2="2474" stroke="#e0c038" stroke-width="4.2" stroke-dasharray="1.4 0.9"/>
<text x="271.2" y="2476.1" font-size="5.6" fill="#fff" text-anchor="end" font-weight="bold" >58</text>
<line x1="147.5" y1="2480.6" x2="216.4" y2="2480.6" stroke="#e04040" stroke-width="4.2" stroke-dasharray="1.4 0.9"/>
<text x="271.2" y="2482.7" font-size="5.6" fill="#fff" text-anchor="end" font-weight="bold" >553</text>
<text x="128.9" y="2502.2" font-size="7" fill="#fff" text-anchor="start" font-weight="bold" >26</text>
<line x1="147.5" y1="2492.9" x2="210.4" y2="2492.9" stroke="#35cfc0" stroke-width="4.2" stroke-dasharray="1.4 0.9"/>
<text x="271.2" y="2495" font-size="5.6" fill="#fff" text-anchor="end" font-weight="bold" >507</text>
<line x1="147.5" y1="2499.5" x2="161" y2="2499.5" stroke="#e0c038" stroke-width="4.2" stroke-dasharray="1.4 0.9"/>
<text x="271.2" y="2501.6" font-size="5.6" fill="#fff" text-anchor="end" font-weight="bold" >116</text>
<line x1="147.5" y1="2506.1" x2="225.4" y2="2506.1" stroke="#e04040" stroke-width="4.2" stroke-dasharray="1.4 0.9"/>
<text x="271.2" y="2508.2" font-size="5.6" fill="#fff" text-anchor="end" font-weight="bold" >624</text>
<text x="128.9" y="2527.6" font-size="7" fill="#fff" text-anchor="start" font-weight="bold" >25</text>
<line x1="147.5" y1="2518.4" x2="201.4" y2="2518.4" stroke="#35cfc0" stroke-width="4.2" stroke-dasharray="1.4 0.9"/>
<text x="271.2" y="2520.5" font-size="5.6" fill="#fff" text-anchor="end" font-weight="bold" >442</text>
<line x1="147.5" y1="2525" x2="164" y2="2525" stroke="#e0c038" stroke-width="4.2" stroke-dasharray="1.4 0.9"/>
<text x="271.2" y="2527.1" font-size="5.6" fill="#fff" text-anchor="end" font-weight="bold" >128</text>
<line x1="147.5" y1="2531.5" x2="219.4" y2="2531.5" stroke="#e04040" stroke-width="4.2" stroke-dasharray="1.4 0.9"/>
<text x="271.2" y="2533.6" font-size="5.6" fill="#fff" text-anchor="end" font-weight="bold" >578</text>
<text x="128.9" y="2553.1" font-size="7" fill="#fff" text-anchor="start" font-weight="bold" >24</text>
<line x1="147.5" y1="2543.8" x2="208.9" y2="2543.8" stroke="#35cfc0" stroke-width="4.2" stroke-dasharray="1.4 0.9"/>
<text x="271.2" y="2545.9" font-size="5.6" fill="#fff" text-anchor="end" font-weight="bold" >495</text>
<line x1="147.5" y1="2550.4" x2="176" y2="2550.4" stroke="#e0c038" stroke-width="4.2" stroke-dasharray="1.4 0.9"/>
<text x="271.2" y="2552.5" font-size="5.6" fill="#fff" text-anchor="end" font-weight="bold" >233</text>
<line x1="147.5" y1="2557" x2="223.9" y2="2557" stroke="#e04040" stroke-width="4.2" stroke-dasharray="1.4 0.9"/>
<rect x="127.4" y="2595.6" width="86.9" height="19.5" rx="2" fill="#0a2f86" />
<text x="131.9" y="2608.5" font-size="7.4" fill="#fff" text-anchor="start" >未处理:</text>
<text x="166.4" y="2609.1" font-size="8.6" fill="#fff" text-anchor="start" font-weight="bold" >61</text>
<circle cx="164.9" cy="2661.5" r="30" fill="none" stroke="#a98af5" stroke-width="6.5"/>
<path d="M168.9,2631.8 A30,30 0 0 1 192.9,2650.5" fill="none" stroke="#38d8f0" stroke-width="6.5"/>
<circle cx="164.9" cy="2661.5" r="23" fill="#06184f" stroke="#cfd8f8" stroke-width="0.8"/>
<text x="164.9" y="2654.9" font-size="7.6" fill="#fff" text-anchor="middle" >总数</text>
<text x="164.9" y="2672" font-size="10.5" fill="#fff" text-anchor="middle" font-weight="bold" >123</text>
<rect x="219.7" y="2595" width="8.7" height="8.4" rx="0" fill="#e02424" />
<text x="258.6" y="2602.2" font-size="6.6" fill="#e8eefc" text-anchor="middle" >SOS报警</text>
<text x="290.1" y="2601.9" font-size="7.4" fill="#e8eefc" text-anchor="start" >3次</text>
<rect x="219.7" y="2608.5" width="8.7" height="8.4" rx="0" fill="#2a22e0" />
<text x="258.6" y="2615.6" font-size="6.6" fill="#e8eefc" text-anchor="middle" >进入报警</text>
<text x="290.1" y="2615.3" font-size="7.4" fill="#e8eefc" text-anchor="start" >0次</text>
<rect x="219.7" y="2621.9" width="8.7" height="8.4" rx="0" fill="#1c6af0" />
<text x="258.6" y="2629.1" font-size="6.6" fill="#e8eefc" text-anchor="middle" >越界报警</text>
<text x="290.1" y="2628.8" font-size="7.4" fill="#e8eefc" text-anchor="start" >0次</text>
<rect x="219.7" y="2635.3" width="8.7" height="8.4" rx="0" fill="#d8e048" />
<text x="258.6" y="2642.5" font-size="6.6" fill="#e8eefc" text-anchor="middle" >滞留报警</text>
<text x="290.1" y="2642.2" font-size="7.4" fill="#e8eefc" text-anchor="start" >0次</text>
<rect x="219.7" y="2648.7" width="8.7" height="8.4" rx="0" fill="#30d830" />
<text x="258.6" y="2655.9" font-size="6.6" fill="#e8eefc" text-anchor="middle" >缺员报警</text>
<text x="290.1" y="2655.6" font-size="7.4" fill="#e8eefc" text-anchor="start" >0次</text>
<rect x="219.7" y="2662.1" width="8.7" height="8.4" rx="0" fill="#28e0f0" />
<text x="258.6" y="2669.3" font-size="6.6" fill="#e8eefc" text-anchor="middle" >超员报警</text>
<text x="290.1" y="2669" font-size="7.4" fill="#e8eefc" text-anchor="start" >20次</text>
<rect x="219.7" y="2675.5" width="8.7" height="8.4" rx="0" fill="#f0a020" />
<text x="258.6" y="2682.7" font-size="6.6" fill="#e8eefc" text-anchor="middle" >静止报警</text>
<text x="290.1" y="2682.4" font-size="7.4" fill="#e8eefc" text-anchor="start" >0次</text>
<rect x="219.7" y="2689" width="8.7" height="8.4" rx="0" fill="#8c8c8c" />
<text x="258.6" y="2696.1" font-size="6.6" fill="#e8eefc" text-anchor="middle" >低电报警</text>
<text x="290.1" y="2695.8" font-size="7.4" fill="#e8eefc" text-anchor="start" >0次</text>
<rect x="219.7" y="2702.4" width="8.7" height="8.4" rx="0" fill="#f06080" />
<text x="258.6" y="2709.6" font-size="6.6" fill="#e8eefc" text-anchor="middle" >一人多卡报警</text>
<text x="290.1" y="2709.3" font-size="7.4" fill="#e8eefc" text-anchor="start" >0次</text>
<rect x="219.7" y="2715.8" width="8.7" height="8.4" rx="0" fill="#a98af5" />
<text x="258.6" y="2723" font-size="6.6" fill="#e8eefc" text-anchor="middle" >聚集报警</text>
<text x="290.1" y="2722.7" font-size="7.4" fill="#e8eefc" text-anchor="start" >100次</text>
<text x="129.5" y="2756.5" font-size="5.6" fill="#fff" text-anchor="start" font-weight="bold" >聚集报警</text>
<text x="298.1" y="2757.1" font-size="6.8" fill="#fff" text-anchor="middle" >100次</text>
<line x1="119.9" y1="2763" x2="313.1" y2="2763" stroke="#1c4aa8" stroke-width="0.6"/>
<text x="129.5" y="2773.1" font-size="5.6" fill="#fff" text-anchor="start" font-weight="bold" >作业票:XTGC202408240001-超员报警</text>
<text x="298.1" y="2773.7" font-size="6.8" fill="#fff" text-anchor="middle" >1次</text>
<line x1="119.9" y1="2779.7" x2="313.1" y2="2779.7" stroke="#1c4aa8" stroke-width="0.6"/>
<text x="129.5" y="2789.7" font-size="5.6" fill="#fff" text-anchor="start" font-weight="bold" >作业票:QHGC202408250019-超员报警</text>
<text x="298.1" y="2790.3" font-size="6.8" fill="#fff" text-anchor="middle" >1次</text>
<line x1="119.9" y1="2796.3" x2="313.1" y2="2796.3" stroke="#1c4aa8" stroke-width="0.6"/>
<text x="129.5" y="2806.3" font-size="5.6" fill="#fff" text-anchor="start" font-weight="bold" >作业票:JGJXN202408260013-超员报警</text>
<text x="298.1" y="2806.9" font-size="6.8" fill="#fff" text-anchor="middle" >2次</text>
<line x1="119.9" y1="2812.9" x2="313.1" y2="2812.9" stroke="#1c4aa8" stroke-width="0.6"/>
<text x="129.5" y="2822.9" font-size="5.6" fill="#fff" text-anchor="start" font-weight="bold" >作业票:JDGC202408270001-超员报警</text>
<text x="298.1" y="2823.5" font-size="6.8" fill="#fff" text-anchor="middle" >16次</text>
<line x1="119.9" y1="2829.5" x2="313.1" y2="2829.5" stroke="#1c4aa8" stroke-width="0.6"/>
<text x="937" y="2467.5" font-size="16" fill="#fff" text-anchor="middle" font-weight="bold" font-style="italic">207</text>
<ellipse cx="937" cy="2502.2" rx="12.6" ry="6.6" fill="#2a7af0"/>
<ellipse cx="937" cy="2508.2" rx="12" ry="4.8" fill="none" stroke="#2a7af0" stroke-width="1"/>
<rect x="931.6" y="2475.8" width="10.8" height="14.4" rx="1.5" fill="#38d8c8" transform="rotate(20 937 2483)"/>
<text x="937" y="2522.6" font-size="6.4" fill="#38d8c8" text-anchor="middle" >员工</text>
<text x="987" y="2467.5" font-size="16" fill="#fff" text-anchor="middle" font-weight="bold" font-style="italic">31</text>
<ellipse cx="987" cy="2502.2" rx="12.6" ry="6.6" fill="#2a7af0"/>
<ellipse cx="987" cy="2508.2" rx="12" ry="4.8" fill="none" stroke="#2a7af0" stroke-width="1"/>
<rect x="981.6" y="2475.8" width="10.8" height="14.4" rx="1.5" fill="#f0c030" transform="rotate(20 987 2483)"/>
<text x="987" y="2522.6" font-size="6.4" fill="#f0c030" text-anchor="middle" >访客</text>
<text x="1036.4" y="2467.5" font-size="16" fill="#fff" text-anchor="middle" font-weight="bold" font-style="italic">401</text>
<ellipse cx="1036.4" cy="2502.2" rx="12.6" ry="6.6" fill="#2a7af0"/>
<ellipse cx="1036.4" cy="2508.2" rx="12" ry="4.8" fill="none" stroke="#2a7af0" stroke-width="1"/>
<rect x="1031" y="2475.8" width="10.8" height="14.4" rx="1.5" fill="#e83838" transform="rotate(20 1036.4 2483)"/>
<text x="1036.4" y="2522.6" font-size="6.4" fill="#e83838" text-anchor="middle" >承包商</text>
<line x1="901.6" y1="2536.6" x2="1073.8" y2="2536.6" stroke="#1c50c0" stroke-width="1"/>
<text x="987" y="2554.3" font-size="9.5" fill="#fff" text-anchor="middle" font-weight="bold" >629</text>
<text x="987" y="2566.9" font-size="8" fill="#fff" text-anchor="middle" >在线人数</text>
<text x="906.1" y="2602.8" font-size="5.8" fill="#fff" text-anchor="start" font-weight="bold" >区域名称</text>
<text x="1057.4" y="2602.8" font-size="5.8" fill="#fff" text-anchor="middle" font-weight="bold" >人数</text>
<line x1="903.1" y1="2606.4" x2="934.6" y2="2606.4" stroke="#e8d860" stroke-width="0.8"/>
<line x1="1048.4" y1="2606.4" x2="1066.3" y2="2606.4" stroke="#e8d860" stroke-width="0.8"/>
<rect x="889.6" y="2610.6" width="195.3" height="16.2" rx="1.5" fill="#1a62d8" opacity="0.85"/>
<text x="906.1" y="2621.1" font-size="6" fill="#fff" text-anchor="start" font-weight="bold" >装置-气化高密单元</text>
<text x="1066.3" y="2621.1" font-size="6" fill="#fff" text-anchor="middle" font-weight="bold" >6</text>
<rect x="889.6" y="2630.3" width="195.3" height="16.2" rx="1.5" fill="#1a62d8" opacity="0.85"/>
<text x="906.1" y="2640.7" font-size="6" fill="#fff" text-anchor="start" font-weight="bold" >装置-第三循环水单元</text>
<text x="1066.3" y="2640.7" font-size="6" fill="#fff" text-anchor="middle" font-weight="bold" >0</text>
<rect x="889.6" y="2649.9" width="195.3" height="16.2" rx="1.5" fill="#1a62d8" opacity="0.85"/>
<text x="906.1" y="2660.4" font-size="6" fill="#fff" text-anchor="start" font-weight="bold" >装置-燃料单元</text>
<text x="1066.3" y="2660.4" font-size="6" fill="#fff" text-anchor="middle" font-weight="bold" >7</text>
<rect x="889.6" y="2669.5" width="195.3" height="16.2" rx="1.5" fill="#1a62d8" opacity="0.85"/>
<text x="906.1" y="2680" font-size="6" fill="#fff" text-anchor="start" font-weight="bold" >装置-加氢精制分馏稳定区</text>
<text x="1066.3" y="2680" font-size="6" fill="#fff" text-anchor="middle" font-weight="bold" >0</text>
<rect x="889.6" y="2689.2" width="195.3" height="16.2" rx="1.5" fill="#1a62d8" opacity="0.85"/>
<text x="906.1" y="2699.7" font-size="6" fill="#fff" text-anchor="start" font-weight="bold" >重点区域-甲醇罐组重点区域-6</text>
<text x="1066.3" y="2699.7" font-size="6" fill="#fff" text-anchor="middle" font-weight="bold" >0</text>
<rect x="889.6" y="2708.8" width="195.3" height="16.2" rx="1.5" fill="#1a62d8" opacity="0.85"/>
<text x="906.1" y="2719.3" font-size="6" fill="#fff" text-anchor="start" font-weight="bold" >作业区域:RDDH202408180004</text>
<text x="1066.3" y="2719.3" font-size="6" fill="#fff" text-anchor="middle" font-weight="bold" >0</text>
<text x="913.6" y="2756.5" font-size="5.8" fill="#fff" text-anchor="middle" font-weight="bold" >序列</text>
<text x="987" y="2756.5" font-size="5.8" fill="#fff" text-anchor="middle" font-weight="bold" >部门名称</text>
<text x="1060.4" y="2756.5" font-size="5.8" fill="#fff" text-anchor="middle" font-weight="bold" >人数</text>
<line x1="889.6" y1="2762.4" x2="1084.9" y2="2762.4" stroke="#8a8a60" stroke-width="0.6"/>
<rect x="889.6" y="2766.3" width="195.3" height="15.9" rx="0" fill="#0d47b0" opacity="0.9"/>
<text x="913.6" y="2776.8" font-size="6" fill="#fff" text-anchor="middle" font-weight="bold" >1</text>
<text x="1000.5" y="2776.8" font-size="5.8" fill="#fff" text-anchor="middle" font-weight="bold" >防水防腐工程有限公司</text>
<text x="1055.9" y="2777.4" font-size="8" fill="#f0d040" text-anchor="end" >41</text>
<text x="1056.8" y="2777.4" font-size="5.6" fill="#fff" text-anchor="start" font-weight="bold" >/ 154</text>
<rect x="943.5" y="2769.9" width="28.5" height="9" rx="0" fill="#6a86c0" opacity="0.75"/>
<text x="913.6" y="2793.4" font-size="6" fill="#fff" text-anchor="middle" font-weight="bold" >2</text>
<text x="1000.5" y="2793.4" font-size="5.8" fill="#fff" text-anchor="middle" font-weight="bold" >烷烃分离车间</text>
<text x="1055.9" y="2794" font-size="8" fill="#f0d040" text-anchor="end" >28</text>
<text x="1056.8" y="2794" font-size="5.6" fill="#fff" text-anchor="start" font-weight="bold" >/ 126</text>
<rect x="889.6" y="2799.5" width="195.3" height="15.9" rx="0" fill="#0d47b0" opacity="0.9"/>
<text x="913.6" y="2809.9" font-size="6" fill="#fff" text-anchor="middle" font-weight="bold" >3</text>
<text x="1000.5" y="2809.9" font-size="5.8" fill="#fff" text-anchor="middle" font-weight="bold" >烯烃项目组</text>
<text x="1055.9" y="2810.5" font-size="8" fill="#f0d040" text-anchor="end" >7</text>
<text x="1056.8" y="2810.5" font-size="5.6" fill="#fff" text-anchor="start" font-weight="bold" >/ 39</text>
<text x="913.6" y="2826.5" font-size="6" fill="#fff" text-anchor="middle" font-weight="bold" >4</text>
<text x="1000.5" y="2826.5" font-size="5.8" fill="#fff" text-anchor="middle" font-weight="bold" >机器有限公司</text>
<text x="1055.9" y="2827.1" font-size="8" fill="#f0d040" text-anchor="end" >1</text>
<text x="1056.8" y="2827.1" font-size="5.6" fill="#fff" text-anchor="start" font-weight="bold" >/ 4</text>
<rect x="943.5" y="2819.6" width="28.5" height="9" rx="0" fill="#6a86c0" opacity="0.75"/>
<rect x="889.6" y="2832.6" width="195.3" height="15.9" rx="0" fill="#0d47b0" opacity="0.9"/>
<text x="913.6" y="2843.1" font-size="6" fill="#fff" text-anchor="middle" font-weight="bold" >5</text>
<text x="1000.5" y="2843.1" font-size="5.8" fill="#fff" text-anchor="middle" font-weight="bold" >科技工程有限公司</text>
<text x="1055.9" y="2843.7" font-size="8" fill="#f0d040" text-anchor="end" >7</text>
<text x="1056.8" y="2843.7" font-size="5.6" fill="#fff" text-anchor="start" font-weight="bold" >/ 130</text>
<rect x="943.5" y="2836.2" width="28.5" height="9" rx="0" fill="#6a86c0" opacity="0.75"/>
<text x="913.6" y="2859.6" font-size="6" fill="#fff" text-anchor="middle" font-weight="bold" >6</text>
<text x="1000.5" y="2859.6" font-size="5.8" fill="#fff" text-anchor="middle" font-weight="bold" >建筑安装有限公司</text>
<text x="1055.9" y="2860.2" font-size="8" fill="#f0d040" text-anchor="end" >4</text>
<text x="1056.8" y="2860.2" font-size="5.6" fill="#fff" text-anchor="start" font-weight="bold" >/ 54</text>
<rect x="943.5" y="2852.7" width="28.5" height="9" rx="0" fill="#6a86c0" opacity="0.75"/>
<rect x="889.6" y="2865.7" width="195.3" height="15.9" rx="0" fill="#0d47b0" opacity="0.9"/>
<text x="913.6" y="2876.2" font-size="6" fill="#fff" text-anchor="middle" font-weight="bold" >7</text>
<text x="1000.5" y="2876.2" font-size="5.8" fill="#fff" text-anchor="middle" font-weight="bold" >物流有限公司</text>
<text x="1055.9" y="2876.8" font-size="8" fill="#f0d040" text-anchor="end" >3</text>
<text x="1056.8" y="2876.8" font-size="5.6" fill="#fff" text-anchor="start" font-weight="bold" >/ 50</text>
<rect x="943.5" y="2869.3" width="28.5" height="9" rx="0" fill="#6a86c0" opacity="0.75"/>
<rect x="353.6" y="2808.9" width="498.7" height="32.3" rx="3" fill="#1448a8" opacity="0.35"/>
<rect x="368.5" y="2811.9" width="27" height="25.8" rx="2.5" fill="#1a4fb8" stroke="#4a9af0" stroke-width="0.8" opacity="1"/>
<rect x="376" y="2815.8" width="12" height="11.1" rx="1.5" fill="#e8f0ff" opacity="0.95"/>
<text x="382" y="2835.2" font-size="5.2" fill="#fff" text-anchor="middle" font-weight="bold" >人员</text>
<rect x="408.7" y="2811.9" width="27" height="25.8" rx="2.5" fill="#2a5ab0" stroke="#4a9af0" stroke-width="0.8" opacity="0.55"/>
<rect x="416.1" y="2815.8" width="12" height="11.1" rx="1.5" fill="#9ab8e0" opacity="0.6"/>
<text x="422.1" y="2835.2" font-size="5.2" fill="#6ab0f0" text-anchor="middle" font-weight="bold" >电子围栏</text>
<rect x="448.8" y="2811.9" width="27" height="25.8" rx="2.5" fill="#2a5ab0" stroke="#4a9af0" stroke-width="0.8" opacity="0.55"/>
<rect x="456.3" y="2815.8" width="12" height="11.1" rx="1.5" fill="#9ab8e0" opacity="0.6"/>
<text x="462.3" y="2835.2" font-size="5.2" fill="#6ab0f0" text-anchor="middle" font-weight="bold" >风险分区</text>
<rect x="488.9" y="2811.9" width="27" height="25.8" rx="2.5" fill="#2a5ab0" stroke="#4a9af0" stroke-width="0.8" opacity="0.55"/>
<rect x="496.4" y="2815.8" width="12" height="11.1" rx="1.5" fill="#9ab8e0" opacity="0.6"/>
<text x="502.4" y="2835.2" font-size="5.2" fill="#6ab0f0" text-anchor="middle" font-weight="bold" >热力图</text>
<rect x="529.1" y="2811.9" width="27" height="25.8" rx="2.5" fill="#2a5ab0" stroke="#4a9af0" stroke-width="0.8" opacity="0.55"/>
<rect x="536.5" y="2815.8" width="12" height="11.1" rx="1.5" fill="#9ab8e0" opacity="0.6"/>
<text x="542.5" y="2835.2" font-size="5.2" fill="#6ab0f0" text-anchor="middle" font-weight="bold" >摄像头</text>
<rect x="569.2" y="2811.9" width="27" height="25.8" rx="2.5" fill="#1a4fb8" stroke="#4a9af0" stroke-width="0.8" opacity="1"/>
<rect x="576.7" y="2815.8" width="12" height="11.1" rx="1.5" fill="#e8f0ff" opacity="0.95"/>
<text x="582.7" y="2835.2" font-size="5.2" fill="#fff" text-anchor="middle" font-weight="bold" >3D</text>
<rect x="609.3" y="2811.9" width="27" height="25.8" rx="2.5" fill="#1a4fb8" stroke="#4a9af0" stroke-width="0.8" opacity="1"/>
<rect x="616.8" y="2815.8" width="12" height="11.1" rx="1.5" fill="#e8f0ff" opacity="0.95"/>
<text x="622.8" y="2835.2" font-size="5.2" fill="#fff" text-anchor="middle" font-weight="bold" >地图</text>
<rect x="649.4" y="2811.9" width="27" height="25.8" rx="2.5" fill="#2a5ab0" stroke="#4a9af0" stroke-width="0.8" opacity="0.55"/>
<rect x="656.9" y="2815.8" width="12" height="11.1" rx="1.5" fill="#9ab8e0" opacity="0.6"/>
<text x="662.9" y="2835.2" font-size="5.2" fill="#6ab0f0" text-anchor="middle" font-weight="bold" >灯具</text>
<rect x="689.6" y="2811.9" width="27" height="25.8" rx="2.5" fill="#2a5ab0" stroke="#4a9af0" stroke-width="0.8" opacity="0.55"/>
<rect x="697.1" y="2815.8" width="12" height="11.1" rx="1.5" fill="#9ab8e0" opacity="0.6"/>
<text x="703.1" y="2835.2" font-size="5.2" fill="#6ab0f0" text-anchor="middle" font-weight="bold" >应急区域</text>
<rect x="729.7" y="2811.9" width="27" height="25.8" rx="2.5" fill="#1a4fb8" stroke="#4a9af0" stroke-width="0.8" opacity="1"/>
<rect x="737.2" y="2815.8" width="12" height="11.1" rx="1.5" fill="#e8f0ff" opacity="0.95"/>
<text x="743.2" y="2835.2" font-size="5.2" fill="#fff" text-anchor="middle" font-weight="bold" >列表</text>
<rect x="769.8" y="2811.9" width="27" height="25.8" rx="2.5" fill="#2a5ab0" stroke="#4a9af0" stroke-width="0.8" opacity="0.55"/>
<rect x="777.3" y="2815.8" width="12" height="11.1" rx="1.5" fill="#9ab8e0" opacity="0.6"/>
<text x="783.3" y="2835.2" font-size="5.2" fill="#6ab0f0" text-anchor="middle" font-weight="bold" >作业票</text>
<rect x="810" y="2811.9" width="27" height="25.8" rx="2.5" fill="#2a5ab0" stroke="#4a9af0" stroke-width="0.8" opacity="0.55"/>
<rect x="817.5" y="2815.8" width="12" height="11.1" rx="1.5" fill="#9ab8e0" opacity="0.6"/>
<text x="823.5" y="2835.2" font-size="5.2" fill="#6ab0f0" text-anchor="middle" font-weight="bold" >全屏</text>
</g>
<g id="lines">
<rect x="1820.5" y="1986" width="2120" height="1237.5" rx="42" fill="none" stroke="#4f3d38" stroke-width="9.77" stroke-dasharray="58.62 9.77"/>
<rect x="1888" y="2048" width="1261" height="1029" rx="327" ry="320" fill="none" stroke="#d5b26e" stroke-width="9.77" stroke-dasharray="58.62 9.77"/>
<rect x="3210.5" y="2083" width="662.5" height="963" rx="331.25" ry="300" fill="none" stroke="#5271ff" stroke-width="9.77" stroke-dasharray="58.62 9.77"/>
<path d="M775,288 L1232,288" fill="none" stroke="#1a4590" stroke-width="9.77" stroke-linejoin="miter" stroke-linecap="butt"/>
<path d="M4.60,0.00 L25.00,-15.50 L25.00,15.50 Z" fill="#1a4590" stroke="#1a4590" stroke-width="8" stroke-linejoin="round" transform="translate(749,288) rotate(0)"/>
<path d="M4.60,0.00 L25.00,-15.50 L25.00,15.50 Z" fill="#1a4590" stroke="#1a4590" stroke-width="8" stroke-linejoin="round" transform="translate(1258,288) rotate(180)"/>
<path d="M753,420.5 L1171,420.5 L1171,1167.5 L1990,1167.5" fill="none" stroke="#1a4590" stroke-width="9.77" stroke-linejoin="miter" stroke-linecap="butt"/>
<path d="M24.12,-14.62 L4.64,0 L24.12,14.62" fill="none" stroke="#1a4590" stroke-width="9.77" stroke-linecap="round" stroke-linejoin="round" transform="translate(749,420.5) rotate(0)"/>
<path d="M4.60,0.00 L25.00,-15.50 L25.00,15.50 Z" fill="#1a4590" stroke="#1a4590" stroke-width="8" stroke-linejoin="round" transform="translate(2016,1167.5) rotate(180)"/>
<path d="M799,708 L1071,708 L1071,1332 L1397,1332 L1397,1540" fill="none" stroke="#5271ff" stroke-width="9.77" stroke-linejoin="miter" stroke-linecap="butt"/>
<path d="M24.12,-14.62 L4.64,0 L24.12,14.62" fill="none" stroke="#5271ff" stroke-width="9.77" stroke-linecap="round" stroke-linejoin="round" transform="translate(795,708) rotate(0)"/>
<path d="M4.60,0.00 L25.00,-15.50 L25.00,15.50 Z" fill="#5271ff" stroke="#5271ff" stroke-width="8" stroke-linejoin="round" transform="translate(1397,1566) rotate(270)"/>
<path d="M555.5,806 L555.5,1249" fill="none" stroke="#5271ff" stroke-width="9.77" stroke-linejoin="miter" stroke-linecap="butt"/>
<path d="M4.60,0.00 L25.00,-15.50 L25.00,15.50 Z" fill="#5271ff" stroke="#5271ff" stroke-width="8" stroke-linejoin="round" transform="translate(555.5,780) rotate(90)"/>
<path d="M4.60,0.00 L25.00,-15.50 L25.00,15.50 Z" fill="#5271ff" stroke="#5271ff" stroke-width="8" stroke-linejoin="round" transform="translate(555.5,1275) rotate(270)"/>
<path d="M555.5,1888 L555.5,2396" fill="none" stroke="#5271ff" stroke-width="9.77" stroke-linejoin="miter" stroke-linecap="butt"/>
<path d="M1397,1945 L1397,2765 L1990,2765" fill="none" stroke="#5271ff" stroke-width="9.77" stroke-linejoin="miter" stroke-linecap="butt"/>
<path d="M1397,2219.5 L1990,2219.5" fill="none" stroke="#5271ff" stroke-width="9.77" stroke-linejoin="miter" stroke-linecap="butt"/>
<path d="M1397,2492 L1990,2492" fill="none" stroke="#5271ff" stroke-width="9.77" stroke-linejoin="miter" stroke-linecap="butt"/>
<path d="M24.12,-14.62 L4.64,0 L24.12,14.62" fill="none" stroke="#5271ff" stroke-width="9.77" stroke-linecap="round" stroke-linejoin="round" transform="translate(1397,1941) rotate(90)"/>
<path d="M4.60,0.00 L25.00,-15.50 L25.00,15.50 Z" fill="#5271ff" stroke="#5271ff" stroke-width="8" stroke-linejoin="round" transform="translate(2016,2219.5) rotate(180)"/>
<path d="M4.60,0.00 L25.00,-15.50 L25.00,15.50 Z" fill="#5271ff" stroke="#5271ff" stroke-width="8" stroke-linejoin="round" transform="translate(2016,2492) rotate(180)"/>
<path d="M4.60,0.00 L25.00,-15.50 L25.00,15.50 Z" fill="#5271ff" stroke="#5271ff" stroke-width="8" stroke-linejoin="round" transform="translate(2016,2765) rotate(180)"/>
<path d="M1703.5,337 L2251,337" fill="none" stroke="#5ce1e6" stroke-width="9.77" stroke-linejoin="miter" stroke-linecap="butt" stroke-dasharray="58.62 9.77" stroke-dashoffset="0"/>
<path d="M4.60,0.00 L25.00,-15.50 L25.00,15.50 Z" fill="#5ce1e6" stroke="#5ce1e6" stroke-width="8" stroke-linejoin="round" transform="translate(1677,337) rotate(0)"/>
<path d="M4.60,0.00 L25.00,-15.50 L25.00,15.50 Z" fill="#5ce1e6" stroke="#5ce1e6" stroke-width="8" stroke-linejoin="round" transform="translate(2279.5,337) rotate(180)"/>
<path d="M1681.5,537.6 L2993,537.6 L2993,903" fill="none" stroke="#5ce1e6" stroke-width="9.77" stroke-linejoin="miter" stroke-linecap="butt" stroke-dasharray="58.62 9.77" stroke-dashoffset="0"/>
<path d="M24.12,-14.62 L4.64,0 L24.12,14.62" fill="none" stroke="#5ce1e6" stroke-width="9.77" stroke-linecap="round" stroke-linejoin="round" transform="translate(1677,537.6) rotate(0)"/>
<path d="M4.60,0.00 L25.00,-15.50 L25.00,15.50 Z" fill="#5ce1e6" stroke="#5ce1e6" stroke-width="8" stroke-linejoin="round" transform="translate(2993,928.3) rotate(270)"/>
<path d="M2674,336 L3066,336" fill="none" stroke="#4f3d38" stroke-width="9.77" stroke-linejoin="miter" stroke-linecap="butt"/>
<path d="M4.60,0.00 L25.00,-15.50 L25.00,15.50 Z" fill="#4f3d38" stroke="#4f3d38" stroke-width="8" stroke-linejoin="round" transform="translate(2648,336) rotate(0)"/>
<path d="M4.60,0.00 L25.00,-15.50 L25.00,15.50 Z" fill="#4f3d38" stroke="#4f3d38" stroke-width="8" stroke-linejoin="round" transform="translate(3092,336) rotate(180)"/>
<path d="M3541.5,70.6 A444.5,261.2 0 1 1 3541.5,593 A444.5,261.2 0 1 1 3541.5,70.6" fill="none" stroke="#4f3d38" stroke-width="9.77" stroke-dasharray="29.31 9.77"/>
<path d="M3543.5,624.5 L3543.5,1182.5 L3289,1182.5" fill="none" stroke="#4f3d38" stroke-width="9.77" stroke-linejoin="miter" stroke-linecap="butt" stroke-dasharray="58.62 9.77" stroke-dashoffset="0"/>
<path d="M4.60,0.00 L25.00,-15.50 L25.00,15.50 Z" fill="#4f3d38" stroke="#4f3d38" stroke-width="8" stroke-linejoin="round" transform="translate(3543.5,598.6) rotate(90)"/>
<path d="M24.12,-14.62 L4.64,0 L24.12,14.62" fill="none" stroke="#4f3d38" stroke-width="9.77" stroke-linecap="round" stroke-linejoin="round" transform="translate(3285.5,1182.5) rotate(0)"/>
<rect x="2705.5" y="933.5" width="575" height="498" fill="none" stroke="#4f3d38" stroke-width="9"/>
<path d="M2277,1183.8 L2702,1183.8" fill="none" stroke="#fb3232" stroke-width="9.77" stroke-linejoin="miter" stroke-linecap="butt"/>
<path d="M2988,1844 L2519,1844 L2519,2019" fill="none" stroke="#d5b26e" stroke-width="9.77" stroke-linejoin="miter" stroke-linecap="butt" stroke-dasharray="58.62 9.77" stroke-dashoffset="0"/>
<path d="M4.60,0.00 L25.00,-15.50 L25.00,15.50 Z" fill="#d5b26e" stroke="#d5b26e" stroke-width="8" stroke-linejoin="round" transform="translate(2519,2045) rotate(270)"/>
<path d="M2993.5,1444 L2993.5,1844 L3543,1844 L3543,2054" fill="none" stroke="#5271ff" stroke-width="9.77" stroke-linejoin="miter" stroke-linecap="butt" stroke-dasharray="58.62 9.77" stroke-dashoffset="0"/>
<path d="M24.12,-14.62 L4.64,0 L24.12,14.62" fill="none" stroke="#5271ff" stroke-width="9.77" stroke-linecap="round" stroke-linejoin="round" transform="translate(2993.5,1440) rotate(90)"/>
<path d="M4.60,0.00 L25.00,-15.50 L25.00,15.50 Z" fill="#5271ff" stroke="#5271ff" stroke-width="8" stroke-linejoin="round" transform="translate(3543,2080) rotate(270)"/>
</g>
</svg>
<div class="t" id="t1" style="left:419.2px;top:728.8px;color:#000;font-weight:normal;letter-spacing:-0.18px;-webkit-text-stroke:0.5px #000;">系统服务器</div>
<div class="t" id="t2" style="left:1469.4px;top:726.1px;color:#000;font-weight:normal;letter-spacing:0.00px;-webkit-text-stroke:0.5px #000;"><span class="l" style="letter-spacing:2.90px">4/5G</span>基站</div>
<div class="t" id="t3" style="left:2463.9px;top:161.6px;color:#000;font-weight:normal;letter-spacing:0.00px;-webkit-text-stroke:0.5px #000;"><span class="l" style="letter-spacing:-4.83px">RTK</span>基站</div>
<div class="t" id="t4" style="left:1980.1px;top:231.2px;color:#5ce1e6;font-weight:bold;letter-spacing:0.00px;transform:translate(-50%,-50%) scaleX(1.09);"><span class="l" style="font-size:97px;letter-spacing:1.19px">4G/5G</span></div>
<div class="t" id="t5" style="left:1395.7px;top:1839.5px;color:#000;font-weight:normal;letter-spacing:0.00px;-webkit-text-stroke:0.5px #000;"><span class="l" style="letter-spacing:-3.87px">POE</span>交换机</div>
<div class="t" id="t6" style="left:2161.9px;top:1488.7px;color:#000;font-weight:normal;letter-spacing:-0.40px;-webkit-text-stroke:0.5px #000;">人脸识别发卡机</div>
<div class="t" id="t7" style="left:2728.9px;top:1747.6px;color:#d5b26e;font-weight:bold;letter-spacing:0.00px;"><span class="l" style="letter-spacing:6.93px">UWB</span>信号</div>
<div class="t" id="t8" style="left:3239.8px;top:1747.5px;color:#5271ff;font-weight:bold;letter-spacing:0.66px;">蓝牙信号</div>
<div class="t" id="t9" style="left:2519.1px;top:2980.2px;color:#d5b26e;font-weight:bold;letter-spacing:0.20px;">高精度区域</div>
<div class="t" id="t10" style="left:3214.2px;top:3139.2px;color:#fb3232;font-weight:bold;letter-spacing:0.52px;">卫星遮挡区域</div>
<div class="t" id="t11" style="left:3541.5px;top:498.8px;color:#000;font-weight:normal;letter-spacing:0.00px;-webkit-text-stroke:0.5px #000;"><span class="l" style="letter-spacing:-2.48px">BDS</span></div>
<div class="t v" id="t12" style="left:3637.1px;top:901.3px;color:#4f3d38;font-weight:bold;letter-spacing:2.70px;">北斗卫星信号</div>
<div class="t v" id="t13" style="left:2364.7px;top:2514.5px;color:#000;font-weight:normal;letter-spacing:0.00px;-webkit-text-stroke:0.5px #000;">有线<span class="l" style="letter-spacing:0.90px">UWB</span>基站</div>
<div class="t v" id="t14" style="left:2568.4px;top:2522.5px;color:#000;font-weight:normal;letter-spacing:0.00px;-webkit-text-stroke:0.5px #000;">无线<span class="l" style="letter-spacing:2.01px">UWB</span>信标</div>
<div class="t v" id="t15" style="left:3327.6px;top:2564.4px;color:#5271ff;font-weight:bold;letter-spacing:1.04px;">低精度要求区域</div>
<div class="t v" id="t16" style="left:3740.2px;top:2568.0px;color:#000;font-weight:normal;letter-spacing:-0.06px;-webkit-text-stroke:0.5px #000;">蓝牙信标</div>
<div class="t" id="t17" style="left:476.0px;top:1787.0px;color:#000;font-weight:normal;letter-spacing:-0.96px;-webkit-text-stroke:0.5px #000;">访问终端</div>
<div class="t" id="t18" style="left:2989.3px;top:1366.1px;color:#000;font-weight:normal;letter-spacing:-0.81px;-webkit-text-stroke:0.5px #000;">定位卡</div>
<div class="t" id="t19" style="left:602.1px;top:2968.7px;color:#000;font-weight:normal;letter-spacing:-0.29px;-webkit-text-stroke:0.5px #000;">定位系统平台</div>
</body>
</html>
